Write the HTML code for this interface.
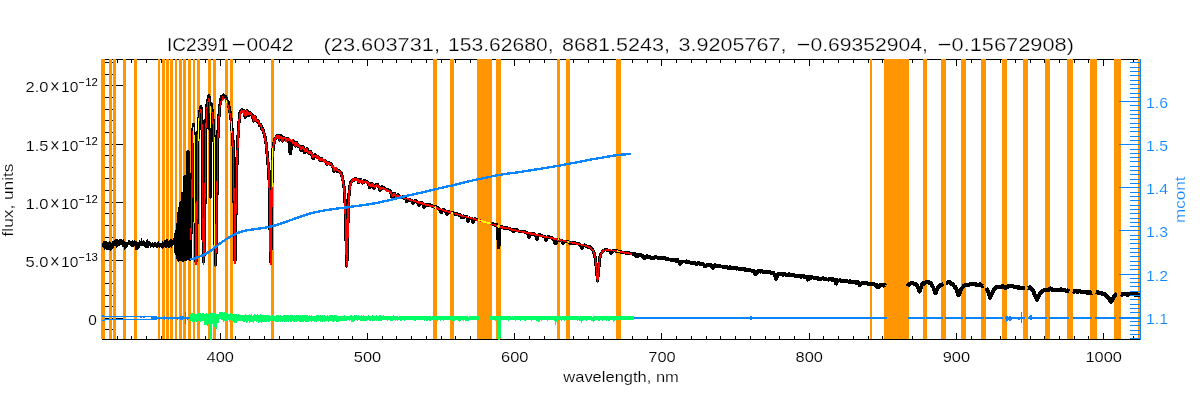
<!DOCTYPE html>
<html lang="en"><head><meta charset="utf-8"><title>IC2391-0042 spectrum fit</title>
<style>
html,body{margin:0;padding:0;background:#fff;}
body{width:1200px;height:400px;overflow:hidden;font-family:"Liberation Sans",sans-serif;}
svg{display:block;}
</style></head><body>
<svg width="1200" height="400" viewBox="0 0 1200 400"><rect width="1200" height="400" fill="#fff"/><g id="axes" shape-rendering="crispEdges"><rect x="102" y="59" width="1039" height="1" fill="#000"/><rect x="102" y="59" width="1" height="281" fill="#000"/><rect x="117" y="59" width="1" height="4" fill="#000"/><rect x="117" y="336" width="1" height="4" fill="#000"/><rect x="131" y="59" width="1" height="4" fill="#000"/><rect x="131" y="336" width="1" height="4" fill="#000"/><rect x="146" y="59" width="1" height="4" fill="#000"/><rect x="146" y="336" width="1" height="4" fill="#000"/><rect x="161" y="59" width="1" height="4" fill="#000"/><rect x="161" y="336" width="1" height="4" fill="#000"/><rect x="176" y="59" width="1" height="4" fill="#000"/><rect x="176" y="336" width="1" height="4" fill="#000"/><rect x="190" y="59" width="1" height="4" fill="#000"/><rect x="190" y="336" width="1" height="4" fill="#000"/><rect x="205" y="59" width="1" height="4" fill="#000"/><rect x="205" y="336" width="1" height="4" fill="#000"/><rect x="220" y="59" width="1" height="7" fill="#000"/><rect x="220" y="333" width="1" height="7" fill="#000"/><rect x="235" y="59" width="1" height="4" fill="#000"/><rect x="235" y="336" width="1" height="4" fill="#000"/><rect x="249" y="59" width="1" height="4" fill="#000"/><rect x="249" y="336" width="1" height="4" fill="#000"/><rect x="264" y="59" width="1" height="4" fill="#000"/><rect x="264" y="336" width="1" height="4" fill="#000"/><rect x="279" y="59" width="1" height="4" fill="#000"/><rect x="279" y="336" width="1" height="4" fill="#000"/><rect x="293" y="59" width="1" height="4" fill="#000"/><rect x="293" y="336" width="1" height="4" fill="#000"/><rect x="308" y="59" width="1" height="4" fill="#000"/><rect x="308" y="336" width="1" height="4" fill="#000"/><rect x="323" y="59" width="1" height="4" fill="#000"/><rect x="323" y="336" width="1" height="4" fill="#000"/><rect x="338" y="59" width="1" height="4" fill="#000"/><rect x="338" y="336" width="1" height="4" fill="#000"/><rect x="352" y="59" width="1" height="4" fill="#000"/><rect x="352" y="336" width="1" height="4" fill="#000"/><rect x="367" y="59" width="1" height="7" fill="#000"/><rect x="367" y="333" width="1" height="7" fill="#000"/><rect x="382" y="59" width="1" height="4" fill="#000"/><rect x="382" y="336" width="1" height="4" fill="#000"/><rect x="396" y="59" width="1" height="4" fill="#000"/><rect x="396" y="336" width="1" height="4" fill="#000"/><rect x="411" y="59" width="1" height="4" fill="#000"/><rect x="411" y="336" width="1" height="4" fill="#000"/><rect x="426" y="59" width="1" height="4" fill="#000"/><rect x="426" y="336" width="1" height="4" fill="#000"/><rect x="441" y="59" width="1" height="4" fill="#000"/><rect x="441" y="336" width="1" height="4" fill="#000"/><rect x="455" y="59" width="1" height="4" fill="#000"/><rect x="455" y="336" width="1" height="4" fill="#000"/><rect x="470" y="59" width="1" height="4" fill="#000"/><rect x="470" y="336" width="1" height="4" fill="#000"/><rect x="485" y="59" width="1" height="4" fill="#000"/><rect x="485" y="336" width="1" height="4" fill="#000"/><rect x="500" y="59" width="1" height="4" fill="#000"/><rect x="500" y="336" width="1" height="4" fill="#000"/><rect x="514" y="59" width="1" height="7" fill="#000"/><rect x="514" y="333" width="1" height="7" fill="#000"/><rect x="529" y="59" width="1" height="4" fill="#000"/><rect x="529" y="336" width="1" height="4" fill="#000"/><rect x="544" y="59" width="1" height="4" fill="#000"/><rect x="544" y="336" width="1" height="4" fill="#000"/><rect x="558" y="59" width="1" height="4" fill="#000"/><rect x="558" y="336" width="1" height="4" fill="#000"/><rect x="573" y="59" width="1" height="4" fill="#000"/><rect x="573" y="336" width="1" height="4" fill="#000"/><rect x="588" y="59" width="1" height="4" fill="#000"/><rect x="588" y="336" width="1" height="4" fill="#000"/><rect x="603" y="59" width="1" height="4" fill="#000"/><rect x="603" y="336" width="1" height="4" fill="#000"/><rect x="617" y="59" width="1" height="4" fill="#000"/><rect x="617" y="336" width="1" height="4" fill="#000"/><rect x="632" y="59" width="1" height="4" fill="#000"/><rect x="632" y="336" width="1" height="4" fill="#000"/><rect x="647" y="59" width="1" height="4" fill="#000"/><rect x="647" y="336" width="1" height="4" fill="#000"/><rect x="661" y="59" width="1" height="7" fill="#000"/><rect x="661" y="333" width="1" height="7" fill="#000"/><rect x="676" y="59" width="1" height="4" fill="#000"/><rect x="676" y="336" width="1" height="4" fill="#000"/><rect x="691" y="59" width="1" height="4" fill="#000"/><rect x="691" y="336" width="1" height="4" fill="#000"/><rect x="706" y="59" width="1" height="4" fill="#000"/><rect x="706" y="336" width="1" height="4" fill="#000"/><rect x="720" y="59" width="1" height="4" fill="#000"/><rect x="720" y="336" width="1" height="4" fill="#000"/><rect x="735" y="59" width="1" height="4" fill="#000"/><rect x="735" y="336" width="1" height="4" fill="#000"/><rect x="750" y="59" width="1" height="4" fill="#000"/><rect x="750" y="336" width="1" height="4" fill="#000"/><rect x="765" y="59" width="1" height="4" fill="#000"/><rect x="765" y="336" width="1" height="4" fill="#000"/><rect x="779" y="59" width="1" height="4" fill="#000"/><rect x="779" y="336" width="1" height="4" fill="#000"/><rect x="794" y="59" width="1" height="4" fill="#000"/><rect x="794" y="336" width="1" height="4" fill="#000"/><rect x="809" y="59" width="1" height="7" fill="#000"/><rect x="809" y="333" width="1" height="7" fill="#000"/><rect x="823" y="59" width="1" height="4" fill="#000"/><rect x="823" y="336" width="1" height="4" fill="#000"/><rect x="838" y="59" width="1" height="4" fill="#000"/><rect x="838" y="336" width="1" height="4" fill="#000"/><rect x="853" y="59" width="1" height="4" fill="#000"/><rect x="853" y="336" width="1" height="4" fill="#000"/><rect x="868" y="59" width="1" height="4" fill="#000"/><rect x="868" y="336" width="1" height="4" fill="#000"/><rect x="882" y="59" width="1" height="4" fill="#000"/><rect x="882" y="336" width="1" height="4" fill="#000"/><rect x="897" y="59" width="1" height="4" fill="#000"/><rect x="897" y="336" width="1" height="4" fill="#000"/><rect x="912" y="59" width="1" height="4" fill="#000"/><rect x="912" y="336" width="1" height="4" fill="#000"/><rect x="926" y="59" width="1" height="4" fill="#000"/><rect x="926" y="336" width="1" height="4" fill="#000"/><rect x="941" y="59" width="1" height="4" fill="#000"/><rect x="941" y="336" width="1" height="4" fill="#000"/><rect x="956" y="59" width="1" height="7" fill="#000"/><rect x="956" y="333" width="1" height="7" fill="#000"/><rect x="971" y="59" width="1" height="4" fill="#000"/><rect x="971" y="336" width="1" height="4" fill="#000"/><rect x="985" y="59" width="1" height="4" fill="#000"/><rect x="985" y="336" width="1" height="4" fill="#000"/><rect x="1000" y="59" width="1" height="4" fill="#000"/><rect x="1000" y="336" width="1" height="4" fill="#000"/><rect x="1015" y="59" width="1" height="4" fill="#000"/><rect x="1015" y="336" width="1" height="4" fill="#000"/><rect x="1030" y="59" width="1" height="4" fill="#000"/><rect x="1030" y="336" width="1" height="4" fill="#000"/><rect x="1044" y="59" width="1" height="4" fill="#000"/><rect x="1044" y="336" width="1" height="4" fill="#000"/><rect x="1059" y="59" width="1" height="4" fill="#000"/><rect x="1059" y="336" width="1" height="4" fill="#000"/><rect x="1074" y="59" width="1" height="4" fill="#000"/><rect x="1074" y="336" width="1" height="4" fill="#000"/><rect x="1088" y="59" width="1" height="4" fill="#000"/><rect x="1088" y="336" width="1" height="4" fill="#000"/><rect x="1103" y="59" width="1" height="7" fill="#000"/><rect x="1103" y="333" width="1" height="7" fill="#000"/><rect x="1118" y="59" width="1" height="4" fill="#000"/><rect x="1118" y="336" width="1" height="4" fill="#000"/><rect x="1133" y="59" width="1" height="4" fill="#000"/><rect x="1133" y="336" width="1" height="4" fill="#000"/><rect x="102" y="329" width="11" height="1" fill="#000"/><rect x="102" y="318" width="21" height="1" fill="#000"/><rect x="102" y="306" width="11" height="1" fill="#000"/><rect x="102" y="295" width="11" height="1" fill="#000"/><rect x="102" y="283" width="11" height="1" fill="#000"/><rect x="102" y="271" width="11" height="1" fill="#000"/><rect x="102" y="260" width="21" height="1" fill="#000"/><rect x="102" y="248" width="11" height="1" fill="#000"/><rect x="102" y="237" width="11" height="1" fill="#000"/><rect x="102" y="225" width="11" height="1" fill="#000"/><rect x="102" y="213" width="11" height="1" fill="#000"/><rect x="102" y="202" width="21" height="1" fill="#000"/><rect x="102" y="190" width="11" height="1" fill="#000"/><rect x="102" y="178" width="11" height="1" fill="#000"/><rect x="102" y="167" width="11" height="1" fill="#000"/><rect x="102" y="155" width="11" height="1" fill="#000"/><rect x="102" y="144" width="21" height="1" fill="#000"/><rect x="102" y="132" width="11" height="1" fill="#000"/><rect x="102" y="120" width="11" height="1" fill="#000"/><rect x="102" y="109" width="11" height="1" fill="#000"/><rect x="102" y="97" width="11" height="1" fill="#000"/><rect x="102" y="85" width="21" height="1" fill="#000"/><rect x="102" y="74" width="11" height="1" fill="#000"/><rect x="102" y="62" width="11" height="1" fill="#000"/></g>
<g id="mask" fill="#FF9500" shape-rendering="crispEdges"><rect x="101" y="59" width="4" height="280"/><rect x="109" y="59" width="3" height="280"/><rect x="113" y="59" width="3" height="280"/><rect x="123" y="59" width="3" height="280"/><rect x="134" y="59" width="3" height="280"/><rect x="158" y="59" width="2" height="280"/><rect x="162" y="59" width="3" height="280"/><rect x="166" y="59" width="3" height="280"/><rect x="170" y="59" width="3" height="280"/><rect x="175" y="59" width="2" height="280"/><rect x="179" y="59" width="3" height="280"/><rect x="183" y="59" width="3" height="280"/><rect x="188" y="59" width="3" height="280"/><rect x="193" y="59" width="2" height="280"/><rect x="197" y="59" width="3" height="280"/><rect x="208" y="59" width="3" height="280"/><rect x="213" y="59" width="3" height="280"/><rect x="225" y="59" width="3" height="280"/><rect x="230" y="59" width="3" height="280"/><rect x="271" y="59" width="3" height="280"/><rect x="433" y="59" width="4" height="280"/><rect x="450" y="59" width="4" height="280"/><rect x="477" y="59" width="15" height="280"/><rect x="496" y="59" width="5" height="280"/><rect x="557" y="59" width="3" height="280"/><rect x="566" y="59" width="4" height="280"/><rect x="616" y="59" width="5" height="280"/><rect x="870" y="59" width="2" height="280"/><rect x="884" y="59" width="25" height="280"/><rect x="923" y="59" width="4" height="280"/><rect x="941" y="59" width="5" height="280"/><rect x="961" y="59" width="5" height="280"/><rect x="981" y="59" width="5" height="280"/><rect x="1002" y="59" width="5" height="280"/><rect x="1023" y="59" width="5" height="280"/><rect x="1045" y="59" width="5" height="280"/><rect x="1067" y="59" width="6" height="280"/><rect x="1090" y="59" width="7" height="280"/><rect x="1114" y="59" width="7" height="280"/><rect x="1138" y="59" width="2" height="280"/></g>
<g shape-rendering="crispEdges"><rect x="102" y="339" width="1039" height="1" fill="#000"/></g>
<path id="spec-uv" d="M102,243h1v4h-1zM103,241h1v7h-1zM104,241h1v9h-1zM105,241h1v8h-1zM106,241h1v9h-1zM107,242h1v8h-1zM108,242h1v8h-1zM109,241h1v9h-1zM110,242h1v9h-1zM111,243h1v7h-1zM112,241h1v8h-1zM113,241h1v7h-1zM114,240h1v6h-1zM115,239h1v7h-1zM116,239h1v9h-1zM117,239h1v8h-1zM118,240h1v6h-1zM119,239h1v7h-1zM120,239h1v6h-1zM121,239h1v6h-1zM122,240h1v7h-1zM123,239h1v8h-1zM124,241h1v9h-1zM125,242h1v7h-1zM126,242h1v6h-1zM127,242h1v5h-1zM128,240h1v5h-1zM129,240h1v5h-1zM130,241h1v5h-1zM131,241h1v6h-1zM132,240h1v7h-1zM133,241h1v6h-1zM134,240h1v6h-1zM135,241h1v9h-1zM136,241h1v9h-1zM137,242h1v8h-1zM138,242h1v7h-1zM139,240h1v8h-1zM140,241h1v5h-1zM141,238h1v8h-1zM142,241h1v5h-1zM143,240h1v6h-1zM144,241h1v6h-1zM145,242h1v6h-1zM146,240h1v8h-1zM147,239h1v9h-1zM148,241h1v7h-1zM149,241h1v5h-1zM150,242h1v6h-1zM151,243h1v4h-1zM152,242h1v5h-1zM153,243h1v5h-1zM154,242h1v5h-1zM155,242h1v5h-1zM156,243h1v5h-1zM157,242h1v6h-1zM158,241h1v6h-1zM159,243h1v5h-1zM160,243h1v4h-1zM161,243h1v5h-1zM162,241h1v8h-1zM163,242h1v6h-1zM164,240h1v7h-1zM165,240h1v8h-1zM166,239h1v9h-1zM167,239h1v8h-1zM168,241h1v7h-1zM169,240h1v8h-1zM170,239h1v8h-1zM171,239h1v9h-1zM172,240h1v6h-1zM173,240h1v5h-1zM174,242h1v5h-1z" fill="#000" shape-rendering="crispEdges"/>
<path id="spec-balmer" d="M174.4,244.5 L174.7,242.3 L174.9,239.9 L175.2,237.3 L175.2,237.2 L175.2,251.3 L175.4,247.8 L175.7,242.7 L175.9,237.9 L176.2,232.5 L176.2,231.3 L176.2,253.5 L176.4,248.2 L176.7,241.5 L176.9,234.9 L177.2,228.6 L177.3,224.1 L177.4,256.1 L177.4,257.5 L177.7,248.6 L177.9,238.8 L178.2,230.0 L178.4,220.9 L178.6,213.7 L178.7,222.1 L178.9,260.0 L178.9,259.3 L179.2,248.8 L179.4,237.9 L179.7,227.4 L179.9,216.6 L180.2,205.3 L180.2,203.1 L180.4,225.4 L180.7,252.5 L180.7,259.2 L180.9,251.7 L181.2,241.6 L181.4,230.8 L181.7,220.2 L181.9,209.9 L182.2,199.6 L182.3,193.2 L182.4,202.3 L182.7,225.0 L182.9,247.3 L183.0,260.2 L183.2,255.3 L183.4,244.7 L183.7,233.6 L183.9,223.1 L184.2,212.2 L184.4,201.4 L184.7,190.8 L184.9,180.7 L185.0,176.3 L185.2,188.4 L185.4,208.7 L185.7,227.6 L185.9,247.2 L186.1,259.7 L186.2,254.3 L186.4,240.0 L186.7,226.5 L186.9,212.4 L187.2,198.6 L187.4,184.6 L187.7,170.9 L187.9,157.2 L188.0,151.5 L188.2,159.2 L188.4,172.1 L188.7,185.8 L188.9,199.0 L189.2,212.7 L189.4,226.3 L189.7,240.1 L189.9,253.1 L190.0,259.9 L190.2,255.5 L190.4,246.8 L190.6,240.3 L190.7,239.1 L190.9,232.9 L191.2,226.6 L191.2,225.2 L191.4,218.1 L191.7,209.1 L191.9,200.2 L192.2,169.0 L192.3,150.2 L192.4,145.8 L192.7,135.9 L192.7,133.8 L192.9,131.1 L193.2,127.9 L193.4,124.5 L193.7,128.7 L193.9,133.5 L194.2,141.4 L194.4,149.6 L194.7,174.4 L194.9,199.9 L195.2,225.3 L195.3,240.4 L195.4,243.2 L195.7,251.3 L195.9,259.0 L196.0,261.6 L196.2,257.1 L196.4,249.8 L196.7,241.8 L196.7,240.2 L196.9,220.2 L197.1,200.2 L197.2,193.2 L197.4,161.8 L197.5,149.6 L197.7,144.9 L197.9,137.2 L198.2,130.0 L198.2,128.7 L198.4,126.0 L198.7,123.5 L198.9,120.0 L199.2,116.3 L199.3,114.1 L199.4,113.5 L199.7,112.2 L199.9,111.3 L200.2,110.1 L200.4,109.0 L200.7,107.7 L200.8,106.8 L200.9,107.3 L201.2,109.4 L201.4,111.5 L201.6,113.1 L201.7,114.5 L201.9,122.1 L202.1,128.0 L202.2,130.8 L202.4,145.0 L202.5,150.7 L202.7,175.6 L202.8,200.3 L202.9,213.6 L203.1,239.4 L203.2,240.8 L203.4,250.2 L203.7,259.9 L203.7,261.6 L203.9,255.3 L204.2,247.7 L204.4,239.5 L204.7,219.5 L204.9,200.0 L205.2,175.5 L205.4,150.4 L205.7,138.6 L205.9,126.8 L206.0,121.6 L206.2,118.7 L206.4,114.7 L206.7,110.4 L206.9,106.4 L207.0,105.0 L207.2,104.6 L207.4,103.1 L207.7,102.0 L207.9,100.4 L208.2,98.6 L208.4,96.9 L208.5,96.1 L208.7,95.9 L208.9,96.4 L209.2,96.8 L209.3,97.1 L209.4,98.5 L209.7,100.7 L209.9,102.7 L210.2,133.6 L210.2,139.8 L210.4,185.1 L210.4,197.1 L210.7,151.7 L210.7,140.0 L210.9,115.7 L211.0,104.0 L211.2,104.8 L211.4,105.9 L211.7,108.0 L211.9,109.8 L212.2,111.5 L212.3,112.2 L212.4,113.8 L212.7,116.3 L212.9,119.8 L213.2,122.6 L213.4,126.1 L213.6,128.5 L213.7,130.1 L213.9,136.1 L214.2,142.9 L214.4,149.7 L214.7,180.8 L214.8,199.7 L214.9,220.2 L215.0,240.0 L215.2,245.9 L215.4,256.5 L215.6,264.6 L215.7,262.3 L215.9,252.0 L216.2,241.6 L216.2,239.4 L216.4,225.8 L216.7,209.2 L216.8,199.6 L216.9,192.2 L217.2,174.6 L217.4,156.8 L217.5,149.5 L217.7,144.6 L217.9,136.7 L218.2,128.9 L218.3,124.0 L218.4,123.1 L218.7,119.8 L218.9,116.6 L219.2,113.3 L219.4,110.4 L219.7,107.4 L219.8,105.6 L219.9,105.0 L220.2,103.5 L220.4,102.3 L220.7,101.1 L220.9,99.6 L221.2,98.6 L221.3,97.4 L221.4,97.5 L221.7,96.8 L221.9,96.3 L222.2,96.1 L222.4,96.4 L222.7,95.7 L222.9,95.5 L223.2,95.4 L223.3,95.1 L223.4,95.0 L223.7,95.3 L223.9,95.5 L224.2,96.0 L224.4,96.2 L224.7,96.4 L224.9,96.5 L225.2,96.6 L225.4,96.2 L225.5,96.8 L225.7,97.0 L225.9,97.8 L226.2,98.5 L226.4,99.5 L226.7,99.6 L226.9,100.6 L227.2,100.9 L227.4,101.1 L227.7,101.3 L227.8,101.3 L227.9,101.5 L228.2,103.0 L228.4,104.2 L228.7,105.1 L228.9,106.4 L229.2,107.6 L229.4,107.9 L229.7,109.3 L229.8,110.0 L229.9,111.1 L230.2,112.5 L230.4,115.1 L230.7,116.6 L230.9,118.6 L231.2,120.7 L231.4,123.1 L231.5,123.9 L231.7,125.8 L231.9,128.6 L232.2,131.2 L232.4,134.0 L232.7,137.1 L232.9,140.3 L233.0,141.6 L233.2,147.1 L233.4,156.1 L233.5,160.0 L233.7,169.8 L233.9,185.6 L234.2,205.5 L234.4,225.5 L234.7,240.1 L234.9,254.5 L235.0,260.5 L235.2,252.7 L235.4,240.0 L235.7,227.3 L235.7,224.9 L235.9,213.5 L236.2,199.3 L236.4,184.6 L236.7,174.2 L236.9,163.6 L237.0,159.5 L237.2,155.8 L237.4,149.3" fill="none" stroke="#000" stroke-width="3.3" stroke-linejoin="round" shape-rendering="crispEdges"/>
<path id="spec" d="M236.9,163.6 L237.0,159.5 L237.2,155.8 L237.4,149.3 L237.7,142.9 L237.7,141.5 L237.9,138.2 L238.2,134.3 L238.4,130.3 L238.7,126.5 L238.9,122.9 L239.0,121.5 L239.2,120.2 L239.4,118.6 L239.7,116.3 L239.9,114.2 L240.1,112.4 L240.2,112.4 L240.4,111.8 L240.7,111.5 L240.9,111.1 L241.2,110.7 L241.4,110.1 L241.6,110.1 L241.7,109.7 L241.9,109.8 L242.2,109.9 L242.4,110.2 L242.7,110.2 L242.9,110.5 L243.2,110.4 L243.4,110.7 L243.7,111.0 L243.9,111.4 L244.2,112.0 L244.4,113.3 L244.7,114.8 L244.9,116.2 L245.0,116.6 L245.2,117.0 L245.4,117.3 L245.7,116.4 L245.9,114.6 L246.2,113.4 L246.4,112.4 L246.7,111.2 L246.9,110.7 L247.2,111.5 L247.4,111.7 L247.7,112.6 L247.9,114.1 L248.2,115.4 L248.4,115.6 L248.7,115.6 L248.9,114.9 L249.2,113.7 L249.4,112.8 L249.5,112.7 L249.7,112.7 L249.9,113.1 L250.2,113.1 L250.4,113.1 L250.7,113.4 L250.9,113.6 L251.2,113.9 L251.4,114.3 L251.7,114.5 L251.9,114.8 L252.2,115.0 L252.4,115.3 L252.7,116.5 L252.9,118.0 L253.2,119.4 L253.4,120.3 L253.7,121.0 L253.9,120.4 L254.2,119.4 L254.4,117.7 L254.7,117.0 L254.9,116.7 L255.0,116.8 L255.2,116.8 L255.4,117.6 L255.7,118.6 L255.9,118.7 L256.1,119.6 L256.4,120.6 L256.6,121.0 L256.9,121.0 L257.1,121.4 L257.4,121.1 L257.6,120.9 L257.9,121.0 L258.1,120.8 L258.4,121.1 L258.6,122.1 L258.9,123.5 L259.1,124.3 L259.4,125.1 L259.6,125.4 L259.9,125.3 L260.0,124.7 L260.1,125.0 L260.4,124.6 L260.6,124.7 L260.9,124.9 L261.1,126.1 L261.4,127.2 L261.6,128.3 L261.9,129.0 L262.1,129.6 L262.4,129.3 L262.5,128.7 L262.6,129.3 L262.9,129.8 L263.1,130.2 L263.4,130.9 L263.6,132.2 L263.9,132.7 L264.1,133.7 L264.4,134.3 L264.5,134.5 L264.6,135.2 L264.9,136.5 L265.1,137.8 L265.4,139.5 L265.6,140.9 L265.9,142.3 L266.0,142.9 L266.1,144.3 L266.4,146.2 L266.6,148.4 L266.9,150.8 L267.1,153.5 L267.3,155.0 L267.4,156.3 L267.6,159.3 L267.9,162.3 L268.1,164.7 L268.4,167.0 L268.5,168.2 L268.6,171.2 L268.9,175.7 L269.1,180.4 L269.4,185.3 L269.6,189.4 L269.6,193.1 L269.9,213.3 L270.1,229.7 L270.1,232.8 L270.4,245.9 L270.6,259.5 L270.7,262.0 L270.9,251.2 L271.1,237.5 L271.3,229.9 L271.4,221.7 L271.6,201.8 L271.8,189.8 L271.9,184.5 L272.1,170.6 L272.2,167.5 L272.4,160.9 L272.6,154.4 L272.6,154.4 L272.9,151.2 L273.1,148.4 L273.3,146.8 L273.4,146.9 L273.6,145.0 L273.9,143.5 L274.1,142.5 L274.4,141.2 L274.6,139.9 L274.6,139.7 L274.9,139.8 L275.1,139.4 L275.4,139.0 L275.6,138.5 L275.9,137.7 L276.1,137.0 L276.4,136.1 L276.5,135.9 L276.6,135.8 L276.9,136.1 L277.1,135.5 L277.4,135.6 L277.6,135.3 L277.9,135.1 L278.1,135.3 L278.4,136.0 L278.6,136.1 L278.9,137.3 L279.0,137.7 L279.1,138.5 L279.4,139.5 L279.6,140.0 L279.9,138.9 L280.1,137.9 L280.4,136.6 L280.6,135.6 L280.9,135.4 L281.0,135.5 L281.1,136.0 L281.4,136.8 L281.6,138.1 L281.9,139.3 L282.1,140.7 L282.4,141.0 L282.6,141.0 L282.9,140.0 L283.1,138.6 L283.4,137.7 L283.6,137.4 L283.9,137.5 L284.1,137.7 L284.4,138.3 L284.6,138.3 L284.9,138.7 L285.1,138.8 L285.4,139.4 L285.6,140.0 L285.9,140.7 L286.1,140.3 L286.4,139.9 L286.6,139.1 L286.9,138.5 L287.1,138.6 L287.4,138.5 L287.6,138.5 L287.9,138.9 L288.1,139.3 L288.4,138.9 L288.6,139.6 L288.9,140.9 L289.1,142.5 L289.4,144.8 L289.6,148.2 L289.9,150.9 L290.0,151.7 L290.1,152.7 L290.4,153.9 L290.6,152.5 L290.9,150.7 L291.1,147.9 L291.4,145.6 L291.6,143.3 L291.9,142.5 L292.1,141.5 L292.4,141.4 L292.6,141.1 L292.9,140.9 L293.1,140.9 L293.4,141.3 L293.6,141.2 L293.9,141.8 L294.1,142.5 L294.4,143.2 L294.6,144.4 L294.9,145.5 L295.1,146.0 L295.4,145.9 L295.6,145.1 L295.9,144.1 L296.1,143.3 L296.4,142.4 L296.6,142.5 L296.9,143.0 L297.1,143.4 L297.4,144.6 L297.6,145.6 L297.9,146.2 L298.1,146.4 L298.4,146.7 L298.6,146.0 L298.9,145.8 L299.1,145.7 L299.4,145.9 L299.6,146.5 L299.9,147.1 L300.1,147.9 L300.4,148.9 L300.5,149.2 L300.6,149.4 L300.9,150.7 L301.1,150.9 L301.4,150.3 L301.6,149.2 L301.9,148.6 L302.1,147.4 L302.4,146.6 L302.6,146.6 L302.9,146.7 L303.1,146.9 L303.4,147.1 L303.6,147.7 L303.9,148.7 L304.1,150.4 L304.4,151.2 L304.6,152.3 L304.9,152.8 L305.1,152.8 L305.4,151.6 L305.6,151.0 L305.9,150.3 L306.1,149.7 L306.4,148.9 L306.6,148.9 L306.9,148.6 L307.1,148.6 L307.4,149.1 L307.6,150.1 L307.9,151.0 L308.1,152.0 L308.4,152.8 L308.6,153.2 L308.9,153.0 L309.1,152.4 L309.4,152.1 L309.6,152.0 L309.9,151.6 L310.1,151.3 L310.4,151.2 L310.6,151.9 L310.9,152.0 L311.1,152.7 L311.4,153.2 L311.6,154.1 L311.9,154.4 L312.1,155.4 L312.4,156.8 L312.6,158.1 L312.9,158.4 L313.1,158.7 L313.4,158.4 L313.6,157.4 L313.9,156.3 L314.1,155.4 L314.4,155.0 L314.6,154.8 L314.9,154.5 L315.0,154.9 L315.1,155.5 L315.4,155.8 L315.6,155.7 L315.9,156.0 L316.1,156.3 L316.4,156.6 L316.6,156.6 L316.9,157.0 L317.1,157.3 L317.4,156.8 L317.6,156.8 L317.9,156.9 L318.1,157.2 L318.4,156.9 L318.6,157.5 L318.9,157.9 L319.1,158.4 L319.4,158.9 L319.6,159.5 L319.9,159.9 L320.1,160.3 L320.4,159.8 L320.6,159.3 L320.9,159.2 L321.1,158.7 L321.4,158.5 L321.6,158.5 L321.9,158.9 L322.1,159.4 L322.4,160.2 L322.6,160.3 L322.9,160.8 L323.1,160.7 L323.4,160.4 L323.6,160.4 L323.9,160.3 L324.1,160.5 L324.4,160.6 L324.6,161.1 L324.9,160.9 L325.1,161.2 L325.4,161.2 L325.6,161.7 L325.9,161.9 L326.1,162.6 L326.4,163.5 L326.6,163.8 L326.9,164.4 L327.1,164.7 L327.4,164.2 L327.6,163.8 L327.9,163.9 L328.1,163.3 L328.4,162.8 L328.6,162.7 L328.9,163.1 L329.1,162.7 L329.4,163.2 L329.6,163.3 L329.9,163.3 L330.0,163.4 L330.1,163.7 L330.4,163.3 L330.6,163.5 L330.9,164.1 L331.1,164.3 L331.4,164.4 L331.6,164.9 L331.9,165.4 L332.1,165.4 L332.4,165.8 L332.6,166.6 L332.9,167.3 L333.1,168.2 L333.4,169.6 L333.6,170.5 L333.9,171.0 L334.1,171.1 L334.4,171.0 L334.6,170.3 L334.9,169.6 L335.1,169.2 L335.4,168.8 L335.6,168.8 L335.9,168.5 L336.1,168.7 L336.4,168.8 L336.6,169.8 L336.9,170.4 L337.1,170.9 L337.4,171.0 L337.5,171.3 L337.6,171.2 L337.9,171.0 L338.1,171.1 L338.4,171.2 L338.6,171.0 L338.9,170.8 L339.1,171.0 L339.4,170.7 L339.6,171.1 L339.9,171.1 L340.1,171.6 L340.4,171.7 L340.6,172.4 L340.9,172.7 L341.0,172.8 L341.1,173.0 L341.4,173.5 L341.6,174.6 L341.9,175.5 L342.1,176.8 L342.4,177.9 L342.6,179.3 L342.9,180.2 L343.0,180.4 L343.1,181.3 L343.4,183.3 L343.6,184.8 L343.9,186.4 L344.1,188.2 L344.3,189.1 L344.4,190.3 L344.6,194.6 L344.9,198.5 L345.1,202.7 L345.3,204.9 L345.4,209.4 L345.6,220.0 L345.9,230.7 L346.0,235.3 L346.1,241.2 L346.4,250.9 L346.6,260.4 L346.8,266.0 L346.9,261.7 L347.1,252.3 L347.4,242.6 L347.6,234.9 L347.6,233.1 L347.9,223.4 L348.1,213.9 L348.4,204.0 L348.6,200.2 L348.9,196.2 L349.1,192.6 L349.3,190.2 L349.4,190.2 L349.6,188.2 L349.9,186.4 L350.1,184.8 L350.4,182.8 L350.5,181.9 L350.6,182.3 L350.9,182.0 L351.1,182.0 L351.4,181.7 L351.6,181.5 L351.9,180.7 L352.1,180.4 L352.4,180.0 L352.5,180.5 L352.6,180.4 L352.9,180.4 L353.1,180.1 L353.4,180.0 L353.6,179.5 L353.9,179.5 L354.1,179.4 L354.4,179.9 L354.6,179.2 L354.9,179.1 L355.1,179.0 L355.4,178.8 L355.5,178.2 L355.6,178.7 L355.9,178.5 L356.1,178.4 L356.4,179.1 L356.6,179.6 L356.9,179.4 L357.1,179.6 L357.4,179.7 L357.6,179.6 L357.9,179.5 L358.1,180.2 L358.4,181.4 L358.6,182.4 L358.9,182.6 L359.1,182.6 L359.4,182.0 L359.6,180.9 L359.9,179.6 L360.1,179.5 L360.4,179.3 L360.6,179.7 L360.9,180.3 L361.1,181.1 L361.4,180.8 L361.6,181.4 L361.9,181.8 L362.1,181.8 L362.4,182.0 L362.6,182.9 L362.9,182.7 L363.1,182.8 L363.4,182.1 L363.6,181.5 L363.9,181.0 L364.1,180.9 L364.4,180.5 L364.6,181.0 L364.9,181.3 L365.1,181.6 L365.4,181.3 L365.6,181.3 L365.9,181.1 L366.1,181.3 L366.4,181.2 L366.6,181.5 L366.9,181.4 L367.1,181.8 L367.4,182.0 L367.5,181.8 L367.6,182.5 L367.9,183.4 L368.1,183.1 L368.4,183.5 L368.6,184.8 L368.9,185.3 L369.1,185.7 L369.4,186.9 L369.6,187.5 L369.9,187.4 L370.1,187.1 L370.4,186.9 L370.6,186.2 L370.9,185.5 L371.1,184.6 L371.4,184.2 L371.6,183.5 L371.9,183.4 L372.1,183.7 L372.4,184.2 L372.6,184.7 L372.9,185.5 L373.1,186.3 L373.4,186.9 L373.6,187.5 L373.9,188.1 L374.1,187.8 L374.4,187.7 L374.6,187.2 L374.9,186.4 L375.1,185.6 L375.4,185.4 L375.6,184.9 L375.9,184.7 L376.1,185.2 L376.4,185.2 L376.6,184.9 L376.9,184.8 L377.1,184.6 L377.4,184.5 L377.6,185.0 L377.9,185.7 L378.1,185.7 L378.4,186.1 L378.6,186.7 L378.9,186.9 L379.1,187.3 L379.4,188.6 L379.6,190.0 L379.9,190.3 L380.1,190.3 L380.4,190.1 L380.6,189.5 L380.9,188.3 L381.1,187.5 L381.4,187.3 L381.6,187.0 L381.9,186.9 L382.1,187.1 L382.4,188.0 L382.5,187.8 L382.6,188.1 L382.9,188.2 L383.1,188.4 L383.4,188.2 L383.6,188.4 L383.9,188.4 L384.1,188.2 L384.4,188.0 L384.6,188.0 L384.9,188.3 L385.1,188.4 L385.4,188.8 L385.6,189.1 L385.9,189.2 L386.1,189.2 L386.4,189.5 L386.6,189.3 L386.9,189.2 L387.1,189.6 L387.4,189.3 L387.6,189.4 L387.9,190.0 L388.1,190.3 L388.4,189.9 L388.6,190.5 L388.9,190.7 L389.1,190.8 L389.4,190.6 L389.6,190.8 L389.9,190.8 L390.1,190.9 L390.4,191.1 L390.6,192.0 L390.9,192.7 L391.1,193.4 L391.4,194.6 L391.6,195.9 L391.9,197.0 L392.1,198.0 L392.4,198.6 L392.6,198.5 L392.9,198.0 L393.0,197.2 L393.1,196.5 L393.4,195.6 L393.6,194.8 L393.9,193.7 L394.1,193.5 L394.4,193.3 L394.6,193.7 L394.9,194.4 L395.1,195.4 L395.4,196.4 L395.6,197.0 L395.9,197.5 L396.1,197.3 L396.4,197.0 L396.6,196.9 L396.9,196.5 L397.1,195.7 L397.4,195.4 L397.6,194.9 L397.9,194.4 L398.1,194.8 L398.4,195.3 L398.6,195.2 L398.9,195.8 L399.1,196.5 L399.4,196.3 L399.6,196.2 L399.9,196.6 L400.0,196.5 L400.1,196.5 L400.4,196.8 L400.6,197.2 L400.9,197.5 L401.1,197.7 L401.4,197.8 L401.6,197.4 L401.9,197.3 L402.1,197.3 L402.4,197.1 L402.6,197.2 L402.9,197.4 L403.1,197.4 L403.4,197.6 L403.6,197.9 L403.9,197.8 L404.1,198.1 L404.4,198.5 L404.6,198.4 L404.9,198.0 L405.1,198.0 L405.4,198.0 L405.6,198.0 L405.9,198.5 L406.1,199.7 L406.4,200.4 L406.6,201.0 L406.9,201.8 L407.1,201.8 L407.4,201.1 L407.6,200.7 L407.9,200.4 L408.1,199.5 L408.4,199.4 L408.6,199.4 L408.9,199.1 L409.1,199.1 L409.4,199.4 L409.6,199.3 L409.9,199.5 L410.1,199.7 L410.4,200.2 L410.6,200.0 L410.9,200.4 L411.1,200.4 L411.4,200.6 L411.6,200.5 L411.9,201.1 L412.1,201.7 L412.4,202.6 L412.6,203.3 L412.9,203.6 L413.1,203.6 L413.4,203.0 L413.6,202.5 L413.9,202.1 L414.1,201.9 L414.4,201.8 L414.6,201.7 L414.9,201.3 L415.1,201.1 L415.4,200.8 L415.6,200.9 L415.9,200.8 L416.1,201.3 L416.4,201.7 L416.6,202.2 L416.9,202.2 L417.1,202.4 L417.4,202.3 L417.6,202.5 L417.9,202.7 L418.1,203.0 L418.4,203.8 L418.6,204.9 L418.9,205.1 L419.1,205.2 L419.4,204.7 L419.6,204.1 L419.9,203.3 L420.1,203.2 L420.4,203.0 L420.6,202.9 L420.9,203.0 L421.1,202.9 L421.4,203.1 L421.6,203.0 L421.9,203.0 L422.1,202.8 L422.4,203.0 L422.6,203.4 L422.9,203.8 L423.1,204.9 L423.4,205.6 L423.6,206.6 L423.9,207.1 L424.1,207.1 L424.4,206.6 L424.6,205.9 L424.9,205.2 L425.1,204.9 L425.4,204.8 L425.6,205.0 L425.9,205.3 L426.1,205.1 L426.4,205.0 L426.6,204.8 L426.9,204.6 L427.1,204.6 L427.4,205.0 L427.6,204.9 L427.9,205.3 L428.1,205.3 L428.4,205.1 L428.6,205.0 L428.9,204.9 L429.1,204.8 L429.4,204.8 L429.6,205.0 L429.9,204.7 L430.1,204.7 L430.4,204.7 L430.6,205.0 L430.9,205.3 L431.1,205.9 L431.4,206.0 L431.6,206.2 L431.9,206.4 L432.1,206.4 L432.4,206.1 L432.6,206.7 L432.9,206.8 L433.1,206.5 L433.4,206.4 L433.6,206.6 L433.9,206.5 L434.1,206.4 L434.4,206.5 L434.5,206.8 L434.6,206.9 L434.9,206.8 L435.1,207.2 L435.4,207.6 L435.6,207.3 L435.9,207.2 L436.1,207.5 L436.4,207.4 L436.6,207.0 L436.9,207.4 L437.1,207.6 L437.4,207.9 L437.6,207.7 L437.9,208.5 L438.1,208.5 L438.4,208.6 L438.6,208.6 L438.9,209.2 L439.1,208.9 L439.4,209.1 L439.6,209.2 L439.9,209.3 L440.1,209.4 L440.4,210.6 L440.6,211.7 L440.9,212.4 L441.1,212.4 L441.4,212.6 L441.6,211.8 L441.9,211.3 L442.1,210.6 L442.4,210.4 L442.6,210.1 L442.9,209.5 L443.1,209.1 L443.4,209.2 L443.6,209.3 L443.9,209.4 L444.1,209.8 L444.4,210.4 L444.6,210.7 L444.9,210.9 L445.1,211.2 L445.4,211.3 L445.6,211.2 L445.9,211.5 L446.1,211.9 L446.4,212.5 L446.6,213.2 L446.9,213.8 L447.1,214.0 L447.4,213.6 L447.6,213.0 L447.9,212.5 L448.1,211.9 L448.4,211.2 L448.6,211.5 L448.9,211.9 L449.1,212.2 L449.4,212.3 L449.6,212.7 L449.9,212.5 L450.1,212.4 L450.4,212.4 L450.6,212.7 L450.9,212.7 L451.1,212.8 L451.4,212.7 L451.6,212.4 L451.9,212.4 L452.1,212.2 L452.4,212.3 L452.5,212.3 L452.6,212.6 L452.9,212.8 L453.1,212.9 L453.4,212.8 L453.6,212.9 L453.9,213.1 L454.1,213.3 L454.4,213.7 L454.6,213.9 L454.9,214.3 L455.1,214.0 L455.4,214.1 L455.6,213.9 L455.9,213.6 L456.1,213.9 L456.4,214.4 L456.6,214.1 L456.9,214.3 L457.1,214.7 L457.4,214.4 L457.6,214.0 L457.9,214.1 L458.1,214.2 L458.4,214.4 L458.6,214.6 L458.9,214.9 L459.1,215.4 L459.4,215.3 L459.6,215.4 L459.9,215.0 L460.1,214.9 L460.4,214.8 L460.6,215.0 L460.9,215.4 L461.1,216.2 L461.4,216.9 L461.6,217.3 L461.9,217.8 L462.1,217.6 L462.4,217.4 L462.6,217.1 L462.9,216.6 L463.1,216.2 L463.4,216.1 L463.6,215.9 L463.9,216.0 L464.1,216.6 L464.4,216.9 L464.6,216.9 L464.9,217.0 L465.1,216.7 L465.4,216.3 L465.6,216.1 L465.9,216.1 L466.1,216.1 L466.4,216.5 L466.6,216.8 L466.9,217.4 L467.1,218.0 L467.4,219.2 L467.6,220.0 L467.9,220.9 L468.1,221.1 L468.4,221.0 L468.6,219.9 L468.9,219.2 L469.1,218.8 L469.4,218.3 L469.6,218.1 L469.9,218.4 L470.1,218.4 L470.4,218.2 L470.6,218.7 L470.9,218.5 L471.1,218.4 L471.4,218.4 L471.6,218.6 L471.9,218.8 L472.1,219.6 L472.4,220.4 L472.6,221.3 L472.9,221.7 L473.1,222.1 L473.4,221.9 L473.6,221.4 L473.9,220.6 L474.1,220.2 L474.4,219.6 L474.6,219.3 L474.9,218.9 L475.0,219.0 L475.1,219.5 L475.4,219.2 L475.6,219.4 L475.9,219.8 L476.1,219.7 L476.4,219.5 L476.6,219.7 M492.4,223.7 L492.6,223.6 L492.9,224.1 L493.1,224.1 L493.4,224.1 L493.6,224.4 L493.9,224.6 L494.1,224.5 L494.4,224.9 L494.6,225.0 L494.9,224.8 L495.1,225.1 L495.4,225.4 L495.6,225.0 L495.9,225.0 L496.1,225.0 L496.4,224.9 L496.6,224.7 L496.9,225.2 L497.1,226.0 L497.4,227.4 L497.6,230.2 L497.9,234.6 L498.1,239.9 L498.4,244.7 L498.6,247.5 L498.9,246.6 L499.0,245.1 L499.1,242.6 L499.4,237.3 L499.6,232.5 L499.9,229.5 L500.1,227.8 L500.4,227.1 L500.6,227.2 L500.9,227.0 L501.1,227.0 L501.4,227.0 L501.6,226.9 L501.9,226.7 L502.1,227.2 L502.4,227.2 L502.6,227.3 L502.9,227.4 L503.1,227.5 L503.4,227.3 L503.6,227.5 L503.9,227.9 L504.1,228.1 L504.4,228.4 L504.6,228.4 L504.9,228.5 L505.1,228.0 L505.4,228.0 L505.6,227.9 L505.9,227.8 L506.1,227.5 L506.4,227.9 L506.6,227.9 L506.9,227.9 L507.1,228.0 L507.4,228.3 L507.6,228.3 L507.9,228.2 L508.1,228.2 L508.4,228.3 L508.6,228.5 L508.9,228.4 L509.1,228.5 L509.4,228.6 L509.6,228.6 L509.9,228.8 L510.1,228.8 L510.4,229.2 L510.6,229.5 L510.9,229.5 L511.1,229.5 L511.4,229.5 L511.6,229.2 L511.9,229.2 L512.1,229.7 L512.4,230.2 L512.6,231.0 L512.9,231.7 L513.1,231.6 L513.4,231.4 L513.6,230.6 L513.9,230.1 L514.1,229.7 L514.4,229.6 L514.6,229.3 L514.9,229.4 L515.1,229.5 L515.4,229.7 L515.6,230.0 L515.9,230.2 L516.1,230.2 L516.4,230.2 L516.6,230.2 L516.9,229.8 L517.1,230.2 L517.4,230.3 L517.6,230.4 L517.9,230.5 L518.1,231.0 L518.4,230.9 L518.6,231.2 L518.9,231.4 L519.1,231.6 L519.4,231.7 L519.6,231.7 L519.9,231.8 L520.0,231.8 L520.1,231.7 L520.4,231.4 L520.6,231.4 L520.9,231.4 L521.1,231.2 L521.4,231.3 L521.6,231.6 L521.9,231.7 L522.1,231.3 L522.4,231.6 L522.6,231.6 L522.9,231.5 L523.1,231.5 L523.4,231.6 L523.6,231.7 L523.9,231.6 L524.1,231.9 L524.4,231.6 L524.6,232.2 L524.9,232.1 L525.1,232.4 L525.4,232.1 L525.6,232.4 L525.9,232.7 L526.1,232.6 L526.4,232.5 L526.6,232.6 L526.9,232.6 L527.1,232.5 L527.4,233.0 L527.6,233.3 L527.9,233.5 L528.1,234.5 L528.4,235.4 L528.6,236.1 L528.9,237.0 L529.1,237.1 L529.4,236.4 L529.6,235.2 L529.9,234.1 L530.1,233.5 L530.4,233.3 L530.6,233.6 L530.9,233.8 L531.1,233.9 L531.4,234.0 L531.6,234.4 L531.9,234.2 L532.1,234.0 L532.4,234.2 L532.6,234.4 L532.9,234.1 L533.1,233.9 L533.4,234.3 L533.6,234.4 L533.9,234.0 L534.1,234.1 L534.4,234.2 L534.6,234.1 L534.9,234.2 L535.1,234.7 L535.4,235.1 L535.6,235.3 L535.9,235.9 L536.1,236.9 L536.4,237.7 L536.6,238.5 L536.9,239.2 L537.1,239.0 L537.4,238.5 L537.6,237.5 L537.9,236.2 L538.1,235.8 L538.4,235.4 L538.6,235.0 L538.9,234.8 L539.1,235.0 L539.4,234.7 L539.6,234.8 L539.9,234.9 L540.1,234.8 L540.4,235.2 L540.6,235.3 L540.9,235.2 L541.1,235.3 L541.4,235.7 L541.6,235.4 L541.9,235.9 L542.1,236.0 L542.4,236.0 L542.6,236.1 L542.9,236.6 L543.1,236.3 L543.4,236.6 L543.6,236.5 L543.9,236.7 L544.1,236.5 L544.4,236.6 L544.6,237.0 L544.9,237.5 L545.1,237.9 L545.4,239.2 L545.6,240.0 L545.9,240.1 L546.1,240.2 L546.4,239.5 L546.6,238.7 L546.9,238.2 L547.1,237.8 L547.4,237.3 L547.6,237.5 L547.9,237.3 L548.1,237.0 L548.4,237.2 L548.6,237.1 L548.9,237.0 L549.1,237.0 L549.4,237.2 L549.6,237.2 L549.9,237.4 L550.0,237.5 L550.1,237.6 L550.4,237.6 L550.6,237.4 L550.9,237.5 L551.1,237.5 L551.4,237.4 L551.6,237.6 L551.9,238.0 L552.1,238.4 L552.4,238.7 L552.6,238.8 L552.9,238.7 L553.1,238.8 L553.4,238.8 L553.6,239.0 L553.9,239.4 L554.1,240.3 L554.4,241.0 L554.6,241.9 L554.9,242.7 L555.1,243.5 L555.4,243.8 L555.6,243.7 L555.9,243.4 L556.1,242.5 L556.4,241.9 L556.6,241.2 L556.9,240.7 L557.1,240.2 L557.4,240.0 L557.6,239.9 L557.9,239.9 L558.0,239.6 L558.1,239.5 L558.4,239.5 L558.6,239.6 L558.9,239.7 L559.1,240.1 L559.4,240.1 L559.6,240.3 L559.9,240.1 L560.1,240.4 L560.4,240.2 L560.6,240.5 L560.9,240.6 L561.1,240.4 L561.4,240.2 L561.6,240.4 L561.9,240.3 L562.1,240.9 L562.4,241.8 L562.6,242.4 L562.9,242.6 L563.1,243.2 L563.4,242.8 L563.6,242.3 L563.9,242.1 L564.1,241.8 L564.4,241.5 L564.6,241.4 L564.9,241.3 L565.1,241.1 L565.4,241.2 L565.6,241.3 L565.9,241.4 L566.1,241.5 L566.4,241.5 L566.6,241.6 L566.9,241.3 L567.1,241.3 L567.4,241.4 L567.6,241.4 L567.9,241.4 L568.1,241.5 L568.4,241.9 L568.6,242.2 L568.9,242.4 L569.1,242.5 L569.4,242.9 L569.6,242.7 L569.9,242.6 L570.1,242.6 L570.4,242.7 L570.6,242.7 L570.9,242.7 L571.1,243.1 L571.4,242.9 L571.6,243.0 L571.9,242.7 L572.1,243.1 L572.4,242.7 L572.6,242.9 L572.9,243.0 L573.1,243.4 L573.4,243.0 L573.6,243.1 L573.9,242.9 L574.1,242.9 L574.4,242.7 L574.6,242.9 L574.9,242.9 L575.1,243.1 L575.4,243.0 L575.6,243.2 L575.9,243.5 L576.1,243.4 L576.4,243.5 L576.6,243.6 L576.9,243.6 L577.1,243.3 L577.4,243.6 L577.6,243.5 L577.9,243.8 L578.1,243.8 L578.4,243.9 L578.6,244.1 L578.9,244.3 L579.1,244.0 L579.4,244.1 L579.6,244.3 L579.9,244.3 L580.1,244.7 L580.4,245.4 L580.6,245.6 L580.9,246.0 L581.1,246.9 L581.4,247.7 L581.6,248.0 L581.9,248.3 L582.1,248.4 L582.4,247.8 L582.6,246.8 L582.9,246.3 L583.1,245.7 L583.4,245.2 L583.6,245.1 L583.9,245.1 L584.1,245.0 L584.4,245.3 L584.6,245.7 L584.9,245.5 L585.0,245.7 L585.1,245.6 L585.4,245.9 L585.6,245.9 L585.9,245.9 L586.1,246.0 L586.4,246.3 L586.6,246.2 L586.9,246.5 L587.1,247.0 L587.4,247.0 L587.6,246.9 L587.9,246.7 L588.1,246.6 L588.4,246.5 L588.6,247.1 L588.9,247.2 L589.1,247.2 L589.4,247.1 L589.6,247.2 L589.9,246.7 L590.0,246.6 L590.1,247.0 L590.4,247.3 L590.6,247.5 L590.9,247.8 L591.1,248.3 L591.4,248.5 L591.6,248.6 L591.9,248.6 L592.1,248.8 L592.4,249.0 L592.5,248.9 L592.6,249.3 L592.9,250.2 L593.1,250.8 L593.4,251.3 L593.6,252.0 L593.9,252.7 L594.1,253.3 L594.3,253.8 L594.4,254.0 L594.6,255.2 L594.9,256.4 L595.1,257.8 L595.4,259.0 L595.6,260.5 L595.6,261.1 L595.9,263.4 L596.1,265.6 L596.4,268.1 L596.6,269.7 L596.6,270.5 L596.9,273.5 L597.1,276.1 L597.4,278.5 L597.6,281.0 L597.6,280.2 L597.9,276.9 L598.1,274.5 L598.4,271.9 L598.6,269.6 L598.6,269.5 L598.9,267.1 L599.1,264.1 L599.4,261.4 L599.6,259.1 L599.6,258.4 L599.9,257.4 L600.1,256.4 L600.4,255.3 L600.6,254.7 L600.9,253.9 L601.0,253.6 L601.1,253.5 L601.4,253.3 L601.6,253.0 L601.9,252.5 L602.1,252.4 L602.4,251.8 L602.6,251.4 L602.9,250.6 L603.0,250.4 L603.1,250.2 L603.4,250.5 L603.6,250.4 L603.9,250.6 L604.1,250.5 L604.4,250.3 L604.6,249.8 L604.9,249.9 L605.1,249.6 L605.4,249.6 L605.6,249.6 L605.9,249.7 L606.0,249.5 L606.1,249.6 L606.4,249.9 L606.6,249.7 L606.9,250.0 L607.1,250.3 L607.4,250.5 L607.6,250.0 L607.9,250.4 L608.1,250.5 L608.4,250.2 L608.6,250.3 L608.9,250.6 L609.1,250.6 L609.4,250.7 L609.6,250.9 L609.9,251.4 L610.1,251.6 L610.4,252.6 L610.6,252.9 L610.9,253.1 L611.1,253.0 L611.4,252.7 L611.6,251.9 L611.9,251.3 L612.1,251.2 L612.4,251.0 L612.6,251.2 L612.9,250.8 L613.1,251.0 L613.4,251.1 L613.6,251.0 L613.9,250.8 L614.1,250.8 L614.4,250.6 L614.6,250.7 L614.9,250.5 L615.0,250.7 L615.1,250.9 L615.4,251.1 L615.6,250.8 L615.9,251.0 L616.1,251.0 L616.4,251.0 L616.6,251.1 L616.9,251.4 L617.1,251.4 L617.4,251.4 L617.6,251.1 L617.9,251.2 L618.1,251.1 L618.4,251.2 L618.6,251.4 L618.9,251.8 L619.1,251.3 L619.4,251.3 L619.6,251.2 L619.9,251.2 L620.1,251.6 L620.4,252.0 L620.6,252.0 L620.9,252.2 L621.1,252.2 L621.4,251.9 L621.6,252.3 L621.9,252.1 L622.1,252.5 L622.4,252.3 L622.6,252.3 L622.9,252.3 L623.1,252.7 L623.4,252.3 L623.6,252.4 L623.9,252.3 L624.1,252.2 L624.4,252.3 L624.6,252.3 L624.9,252.5 L625.1,252.7 L625.4,252.9 L625.6,252.8 L625.9,253.3 L626.1,253.3 L626.4,253.4 L626.6,253.5 L626.9,253.7 L627.1,253.2 L627.4,253.4 L627.6,253.3 L627.9,253.2 L628.1,252.8 L628.4,252.9 L628.6,252.7 L628.9,252.6 L629.1,252.8 L629.4,252.8 L629.6,253.3 L629.9,253.5 L630.0,253.6 L630.1,253.4 L630.4,253.6 L630.6,253.2 L630.9,253.1 L631.1,253.2 L631.4,253.3 L631.6,253.3 L631.9,253.4 L632.1,253.4" fill="none" stroke="#000" stroke-width="3.2" stroke-linejoin="round" shape-rendering="crispEdges"/>
<path id="spec-red" d="M632.1,253.4 L632.4,253.5 L632.6,253.9 L632.9,254.2 L633.1,254.2 L633.4,254.2 L633.6,254.0 L633.9,253.5 L634.1,253.6 L634.4,253.6 L634.6,253.9 L634.9,254.1 L635.1,254.6 L635.4,254.8 L635.6,255.1 L635.9,255.3 L636.1,255.5 L636.4,255.9 L636.6,255.7 L636.9,255.8 L637.1,255.6 L637.4,255.5 L637.6,255.3 L637.9,255.7 L638.1,255.5 L638.4,255.7 L638.6,255.8 L638.9,255.5 L639.1,255.0 L639.4,255.1 L639.6,254.8 L639.9,255.1 L640.1,255.0 L640.4,255.2 L640.6,255.3 L640.9,255.3 L641.1,255.1 L641.4,255.6 L641.6,255.6 L641.9,255.7 L642.1,255.9 L642.4,255.7 L642.6,255.9 L642.9,256.4 L643.1,256.7 L643.4,257.0 L643.6,257.4 L643.9,257.6 L644.1,257.5 L644.4,257.7 L644.6,258.0 L644.9,258.3 L645.0,258.3 L645.1,258.1 L645.4,258.0 L645.6,257.7 L645.9,257.4 L646.1,256.9 L646.4,257.2 L646.6,256.8 L646.9,256.4 L647.1,256.2 L647.4,256.5 L647.6,256.5 L647.9,256.7 L648.1,256.8 L648.4,256.8 L648.6,256.9 L648.9,256.4 L649.1,256.6 L649.4,257.0 L649.6,257.1 L649.9,257.1 L650.1,257.5 L650.4,257.6 L650.6,257.4 L650.9,257.8 L651.1,258.0 L651.4,258.1 L651.6,258.1 L651.9,258.4 L652.1,258.1 L652.4,257.8 L652.6,257.5 L652.9,257.5 L653.1,257.6 L653.4,257.7 L653.6,258.0 L653.9,258.0 L654.1,257.8 L654.4,257.5 L654.6,257.3 L654.9,257.0 L655.1,257.1 L655.4,257.1 L655.6,256.9 L655.9,257.2 L656.1,257.3 L656.4,257.5 L656.6,257.6 L656.9,257.7 L657.1,257.7 L657.4,257.8 L657.6,257.5 L657.9,257.5 L658.1,257.7 L658.4,257.8 L658.6,258.1 L658.9,257.9 L659.1,258.0 L659.4,257.8 L659.6,257.8 L659.9,257.6 L660.0,257.8 L660.1,258.0 L660.4,258.1 L660.6,257.9 L660.9,258.2 L661.1,258.5 L661.4,258.3 L661.6,258.5 L661.9,258.6 L662.1,258.6 L662.4,258.4 L662.6,258.4 L662.9,258.3 L663.1,258.3 L663.4,258.2 L663.6,258.3 L663.9,258.5 L664.1,258.5 L664.4,258.1 L664.6,258.1 L664.9,257.8 L665.1,257.9 L665.4,258.2 L665.6,258.8 L665.9,258.8 L666.1,259.1 L666.4,259.1 L666.6,258.8 L666.9,258.8 L667.1,258.7 L667.4,259.0 L667.6,259.0 L667.9,259.3 L668.1,259.4 L668.4,259.6 L668.6,259.4 L668.9,259.5 L669.1,259.5 L669.4,259.6 L669.6,259.6 L669.9,259.5 L670.1,259.7 L670.4,259.6 L670.6,259.5 L670.9,259.9 L671.1,260.2 L671.4,260.1 L671.6,260.1 L671.9,260.6 L672.1,260.4 L672.4,260.4 L672.6,260.3 L672.9,260.2 L673.1,259.7 L673.4,259.7 L673.6,259.7 L673.9,259.7 L674.1,259.8 L674.4,259.8 L674.6,259.8 L674.9,259.5 L675.1,259.7 L675.4,260.1 L675.6,260.8 L675.9,261.0 L676.1,261.2 L676.4,261.0 L676.6,260.3 L676.9,259.8 L677.1,259.7 L677.4,260.0 L677.6,260.3 L677.9,261.0 L678.1,261.2 L678.4,261.6 L678.6,261.9 L678.9,262.1 L679.1,262.4 L679.4,262.7 L679.6,263.2 L679.9,263.5 L680.1,263.8 L680.4,263.4 L680.6,263.3 L680.9,262.6 L681.1,262.0 L681.4,261.5 L681.6,261.6 L681.9,261.4 L682.1,261.5 L682.4,261.5 L682.6,261.6 L682.9,261.5 L683.1,261.5 L683.4,261.5 L683.6,261.5 L683.9,261.6 L684.1,261.6 L684.4,261.5 L684.6,261.6 L684.9,261.5 L685.1,261.6 L685.4,261.7 L685.6,261.7 L685.9,261.5 L686.1,261.6 L686.4,261.4 L686.6,261.2 L686.9,261.6 L687.1,261.8 L687.4,261.9 L687.6,262.0 L687.9,262.3 L688.1,262.1 L688.4,262.2 L688.6,262.2 L688.9,262.4 L689.1,262.3 L689.4,262.3 L689.6,262.3 L689.9,262.3 L690.0,262.3 L690.1,262.3 L690.4,262.6 L690.6,262.9 L690.9,262.9 L691.1,263.0 L691.4,263.2 L691.6,262.8 L691.9,262.4 L692.1,262.4 L692.4,262.6 L692.6,262.5 L692.9,262.8 L693.1,262.8 L693.4,263.0 L693.6,262.7 L693.9,262.8 L694.1,262.7 L694.4,262.7 L694.6,262.9 L694.9,263.3 L695.1,263.4 L695.4,263.7 L695.6,264.0 L695.9,264.0 L696.1,264.0 L696.4,264.1 L696.6,264.1 L696.9,264.0 L697.1,263.9 L697.4,263.7 L697.6,263.6 L697.9,263.5 L698.1,263.2 L698.4,263.1 L698.6,262.8 L698.9,262.8 L699.1,262.9 L699.4,263.0 L699.6,263.3 L699.9,263.7 L700.1,263.8 L700.4,264.1 L700.6,264.6 L700.9,264.4 L701.1,264.4 L701.4,264.5 L701.6,264.4 L701.9,264.3 L702.1,264.4 L702.4,264.2 L702.6,264.0 L702.9,263.9 L703.1,263.9 L703.4,264.0 L703.6,264.2 L703.9,264.8 L704.1,265.4 L704.4,266.0 L704.6,266.3 L704.9,266.6 L705.1,266.4 L705.4,266.2 L705.6,265.7 L705.9,265.7 L706.1,265.4 L706.4,265.2 L706.6,265.0 L706.9,265.0 L707.1,264.8 L707.4,264.9 L707.6,265.0 L707.9,265.1 L708.1,265.0 L708.4,265.2 L708.6,265.2 L708.9,265.3 L709.1,265.4 L709.4,265.5 L709.6,265.5 L709.9,265.6 L710.1,265.5 L710.4,265.1 L710.6,265.2 L710.9,265.3 L711.1,265.1 L711.4,265.2 L711.6,265.7 L711.9,266.2 L712.1,266.8 L712.4,267.2 L712.6,267.7 L712.9,268.1 L713.1,268.0 L713.4,267.6 L713.6,267.1 L713.9,266.6 L714.1,266.2 L714.4,265.5 L714.6,265.1 L714.9,265.4 L715.1,265.6 L715.4,265.4 L715.6,265.6 L715.9,265.9 L716.1,266.2 L716.4,266.1 L716.6,266.4 L716.9,266.4 L717.1,266.6 L717.4,266.2 L717.6,266.2 L717.9,266.2 L718.1,265.8 L718.4,266.1 L718.6,266.1 L718.9,266.0 L719.1,266.1 L719.4,266.2 L719.6,265.7 L719.9,265.7 L720.0,265.7 L720.1,265.7 L720.4,266.2 L720.6,266.3 L720.9,266.5 L721.1,266.7 L721.4,266.6 L721.6,266.5 L721.9,266.4 L722.1,266.5 L722.4,266.6 L722.6,266.8 L722.9,266.5 L723.1,266.7 L723.4,266.5 L723.6,266.6 L723.9,266.6 L724.1,266.7 L724.4,266.8 L724.6,267.1 L724.9,266.9 L725.1,267.2 L725.4,267.3 L725.6,267.1 L725.9,267.0 L726.1,267.0 L726.4,266.8 L726.6,266.9 L726.9,267.2 L727.1,267.4 L727.4,267.5 L727.6,267.9 L727.9,267.9 L728.1,267.8 L728.4,267.7 L728.6,267.8 L728.9,268.0 L729.1,268.1 L729.4,267.9 L729.6,268.0 L729.9,267.9 L730.1,267.5 L730.4,267.0 L730.6,267.4 L730.9,267.4 L731.1,267.6 L731.4,267.8 L731.6,268.6 L731.9,268.4 L732.1,268.5 L732.4,268.3 L732.6,268.1 L732.9,268.0 L733.1,268.1 L733.4,267.8 L733.6,268.0 L733.9,268.1 L734.1,267.8 L734.4,267.8 L734.6,268.0 L734.9,267.7 L735.1,267.6 L735.4,268.1 L735.6,267.8 L735.9,267.9 L736.1,268.3 L736.4,268.6 L736.6,268.2 L736.9,268.4 L737.1,268.4 L737.4,268.5 L737.6,268.3 L737.9,268.3 L738.1,268.6 L738.4,268.7 L738.6,268.7 L738.9,268.7 L739.1,269.0 L739.4,268.9 L739.6,268.9 L739.9,268.7 L740.1,268.8 L740.4,268.8 L740.6,268.6 L740.9,268.5 L741.1,268.8 L741.4,268.7 L741.6,268.8 L741.9,268.8 L742.1,268.8 L742.4,268.9 L742.6,269.0 L742.9,269.2 L743.1,269.2 L743.4,269.0 L743.6,269.0 L743.9,269.1 L744.1,269.3 L744.4,269.6 L744.6,269.7 L744.9,269.9 L745.1,269.7 L745.4,269.2 L745.6,269.5 L745.9,269.7 L746.1,269.7 L746.4,270.0 L746.6,270.5 L746.9,270.2 L747.1,270.4 L747.4,270.1 L747.6,269.8 L747.9,269.8 L748.1,270.0 L748.4,270.0 L748.6,270.2 L748.9,270.5 L749.1,270.2 L749.4,270.2 L749.6,270.2 L749.9,270.3 L750.0,270.4 L750.1,270.7 L750.4,270.5 L750.6,270.6 L750.9,270.3 L751.1,270.4 L751.4,270.6 L751.6,270.5 L751.9,270.4 L752.1,270.8 L752.4,270.9 L752.6,270.7 L752.9,270.6 L753.1,270.8 L753.4,270.6 L753.6,270.5 L753.9,270.8 L754.1,271.3 L754.4,271.7 L754.6,272.7 L754.9,273.4 L755.1,273.8 L755.4,274.1 L755.6,274.1 L755.9,273.6 L756.1,273.4 L756.4,273.0 L756.6,272.8 L756.9,272.6 L757.1,272.3 L757.4,271.8 L757.6,271.5 L757.9,271.3 L758.1,271.2 L758.4,271.3 L758.6,271.6 L758.9,271.7 L759.1,271.7 L759.4,271.4 L759.6,271.6 L759.9,271.7 L760.1,271.7 L760.4,271.5 L760.6,271.8 L760.9,271.2 L761.1,270.9 L761.4,271.1 L761.6,271.3 L761.9,271.2 L762.1,271.7 L762.4,271.7 L762.6,271.6 L762.9,271.6 L763.1,271.5 L763.4,271.5 L763.6,271.5 L763.9,271.8 L764.1,271.8 L764.4,272.3 L764.6,272.1 L764.9,272.4 L765.1,271.9 L765.4,271.9 L765.6,271.6 L765.9,271.9 L766.1,271.7 L766.4,272.1 L766.6,272.2 L766.9,272.2 L767.1,272.2 L767.4,272.5 L767.6,272.1 L767.9,272.5 L768.1,272.6 L768.4,272.5 L768.6,272.3 L768.9,272.3 L769.1,271.9 L769.4,271.9 L769.6,272.0 L769.9,272.0 L770.1,272.2 L770.4,272.7 L770.6,272.6 L770.9,272.6 L771.1,273.0 L771.4,273.2 L771.6,273.0 L771.9,273.0 L772.1,272.9 L772.4,272.5 L772.6,272.4 L772.9,272.4 L773.1,272.6 L773.4,273.0 L773.6,273.4 L773.9,273.7 L774.1,273.9 L774.4,274.1 L774.6,274.7 L774.9,275.4 L775.1,276.3 L775.4,277.4 L775.6,278.4 L775.9,278.7 L776.0,278.9 L776.1,278.9 L776.4,278.4 L776.6,277.9 L776.9,277.1 L777.1,276.0 L777.4,275.1 L777.6,274.9 L777.9,274.3 L778.1,274.2 L778.4,274.4 L778.6,274.6 L778.9,274.2 L779.1,274.6 L779.4,274.4 L779.6,274.2 L779.9,274.0 L780.1,274.2 L780.4,274.0 L780.6,273.9 L780.9,274.2 L781.1,274.2 L781.4,273.9 L781.6,274.1 L781.9,274.2 L782.1,274.2 L782.4,274.2 L782.6,274.6 L782.9,274.5 L783.1,274.7 L783.4,274.4 L783.6,274.6 L783.9,274.5 L784.1,274.2 L784.4,273.8 L784.6,274.2 L784.9,274.1 L785.1,274.1 L785.4,274.5 L785.6,274.8 L785.9,274.8 L786.1,274.8 L786.4,274.9 L786.6,275.0 L786.9,274.7 L787.1,274.5 L787.4,274.8 L787.6,275.1 L787.9,274.7 L788.1,274.5 L788.4,274.4 L788.6,274.1 L788.9,273.9 L789.1,274.2 L789.4,274.6 L789.6,274.8 L789.9,275.0 L790.1,274.9 L790.4,274.8 L790.6,274.7 L790.9,275.3 L791.1,275.4 L791.4,275.5 L791.6,275.4 L791.9,275.4 L792.1,274.8 L792.4,274.6 L792.6,274.6 L792.9,274.9 L793.1,275.0 L793.4,275.1 L793.6,275.1 L793.9,275.0 L794.1,274.9 L794.4,275.0 L794.6,275.3 L794.9,275.4 L795.1,275.8 L795.4,275.9 L795.6,275.9 L795.9,275.5 L796.1,275.4 L796.4,275.4 L796.6,275.6 L796.9,275.7 L797.1,276.1 L797.4,276.3 L797.6,276.1 L797.9,275.8 L798.1,276.0 L798.4,276.0 L798.6,276.0 L798.9,276.1 L799.1,276.3 L799.4,276.2 L799.6,276.0 L799.9,276.4 L800.1,276.5 L800.4,276.4 L800.6,276.6 L800.9,277.0 L801.1,276.7 L801.4,276.8 L801.6,276.6 L801.9,276.3 L802.1,275.9 L802.4,276.1 L802.6,275.8 L802.9,276.1 L803.1,276.1 L803.4,276.3 L803.6,276.1 L803.9,276.4 L804.1,276.5 L804.4,276.9 L804.6,277.1 L804.9,277.3 L805.1,277.2 L805.4,277.3 L805.6,277.0 L805.9,276.9 L806.1,276.8 L806.4,277.0 L806.6,277.0 L806.9,277.2 L807.1,277.7 L807.4,278.4 L807.6,279.4 L807.9,279.7 L808.1,279.5 L808.4,279.2 L808.6,278.0 L808.9,277.1 L809.0,277.3 L809.1,277.0 L809.4,277.0 L809.6,277.0 L809.9,277.4 L810.1,277.5 L810.4,278.0 L810.6,277.6 L810.9,278.0 L811.1,277.7 L811.4,277.6 L811.6,277.3 L811.9,277.3 L812.1,277.5 L812.4,277.5 L812.6,277.3 L812.9,277.5 L813.1,277.4 L813.4,277.5 L813.6,277.7 L813.9,277.6 L814.1,277.6 L814.4,277.7 L814.6,277.4 L814.9,277.4 L815.1,277.6 L815.4,277.7 L815.6,277.8 L815.9,278.1 L816.1,278.1 L816.4,278.3 L816.6,278.1 L816.9,278.2 L817.1,277.9 L817.4,278.0 L817.6,278.1 L817.9,278.5 L818.1,278.8 L818.4,279.0 L818.6,278.9 L818.9,278.9 L819.1,278.6 L819.4,278.6 L819.6,278.8 L819.9,278.7 L820.1,278.6 L820.4,278.8 L820.6,278.7 L820.9,278.5 L821.1,278.8 L821.4,278.9 L821.6,278.7 L821.9,278.6 L822.1,278.4 L822.4,278.3 L822.6,278.2 L822.9,278.2 L823.1,278.2 L823.4,278.7 L823.6,278.5 L823.9,278.8 L824.1,278.6 L824.4,278.7 L824.6,278.4 L824.9,278.5 L825.1,278.6 L825.4,278.9 L825.6,279.2 L825.9,279.6 L826.1,279.6 L826.4,279.6 L826.6,279.6 L826.9,279.5 L827.1,279.6 L827.4,279.4 L827.6,279.5 L827.9,279.7 L828.1,279.7 L828.4,279.6 L828.6,279.7 L828.9,279.3 L829.1,279.6 L829.4,279.5 L829.6,279.2 L829.9,279.5 L830.1,279.6 L830.4,279.1 L830.6,278.7 L830.9,278.7 L831.1,278.8 L831.4,278.8 L831.6,279.1 L831.9,279.5 L832.1,279.9 L832.4,279.6 L832.6,279.6 L832.9,279.5 L833.1,279.3 L833.4,279.1 L833.6,279.5 L833.9,279.5 L834.1,279.4 L834.4,279.6 L834.6,280.1 L834.9,280.2 L835.1,280.5 L835.4,281.7 L835.6,282.9 L835.9,283.4 L836.0,283.5 L836.1,283.7 L836.4,282.8 L836.6,281.5 L836.9,280.6 L837.1,280.3 L837.4,280.1 L837.6,280.3 L837.9,280.5 L838.1,280.7 L838.4,280.8 L838.6,280.9 L838.9,280.6 L839.1,280.4 L839.4,280.4 L839.6,280.2 L839.9,280.0 L840.1,280.2 L840.4,280.4 L840.6,280.3 L840.9,280.7 L841.1,280.4 L841.4,280.6 L841.6,281.0 L841.9,281.1 L842.1,280.9 L842.4,281.5 L842.6,281.6 L842.9,281.1 L843.1,281.1 L843.4,281.1 L843.6,281.1 L843.9,280.9 L844.1,281.2 L844.4,281.2 L844.6,281.2 L844.9,281.1 L845.1,281.0 L845.4,280.9 L845.6,280.9 L845.9,280.8 L846.1,281.1 L846.4,281.3 L846.6,281.1 L846.9,281.3 L847.1,281.4 L847.4,281.3 L847.6,281.3 L847.9,281.6 L848.1,281.5 L848.4,281.5 L848.6,281.5 L848.9,281.8 L849.1,281.4 L849.4,281.5 L849.6,281.6 L849.9,281.5 L850.1,281.0 L850.4,281.7 L850.6,281.7 L850.9,281.9 L851.1,282.2 L851.4,282.5 L851.6,282.2 L851.9,282.4 L852.1,282.3 L852.4,282.3 L852.6,282.3 L852.9,282.3 L853.1,282.4 L853.4,282.4 L853.6,282.2 L853.9,282.1 L854.1,282.2 L854.4,281.9 L854.6,281.7 L854.9,281.8 L855.1,281.9 L855.4,281.9 L855.6,282.2 L855.9,282.3 L856.1,282.7 L856.4,282.8 L856.6,283.2 L856.9,283.3 L857.1,283.4 L857.4,283.0 L857.6,282.6 L857.9,282.2 L858.1,282.2 L858.4,282.6 L858.6,282.8 L858.9,283.9 L859.1,284.3 L859.4,284.9 L859.6,284.6 L859.9,285.1 L860.1,284.8 L860.4,284.7 L860.6,284.2 L860.9,284.0 L861.1,283.7 L861.4,283.5 L861.6,283.3 L861.9,283.3 L862.1,283.6 L862.4,283.4 L862.6,283.1 L862.9,282.8 L863.1,282.9 L863.4,282.9 L863.6,282.9 L863.9,283.1 L864.1,283.3 L864.4,283.1 L864.6,283.0 L864.9,282.9 L865.1,283.3 L865.4,283.4 L865.6,283.3 L865.9,283.2 L866.1,283.2 L866.4,283.0 L866.6,283.1 L866.9,283.2 L867.1,283.5 L867.4,283.5 L867.6,283.3 L867.9,283.4 L868.1,283.5 L868.4,283.9 L868.6,283.9 L868.9,284.0 L869.1,284.0 L869.4,283.9 L869.6,283.4 L869.9,283.4 L870.1,283.4 L870.4,283.4 L870.5,283.4 L870.6,283.8 L870.9,284.1 L871.1,284.2 L871.4,284.1 L871.6,284.1 L871.9,284.1 L872.1,284.1 L872.4,284.1 L872.6,284.2 L872.9,284.2 L873.1,283.9 L873.4,283.7 L873.6,283.8 L873.9,283.8 L874.1,284.2 L874.4,284.4 L874.6,284.7 L874.9,284.9 L875.1,285.0 L875.4,284.7 L875.6,284.8 L875.9,284.9 L876.1,284.7 L876.4,285.0 L876.6,285.6 L876.9,286.0 L877.1,286.8 L877.4,287.4 L877.6,287.6 L877.9,287.6 L878.1,287.6 L878.4,287.2 L878.6,286.9 L878.9,286.8 L879.1,286.5 L879.4,286.3 L879.6,285.8 L879.9,285.4 L880.1,284.9 L880.4,284.6 L880.6,284.6 L880.9,284.6 L881.1,285.1 L881.4,285.3 L881.6,285.5 L881.9,285.4 L882.1,285.5 L882.4,285.4 L882.6,285.4 L882.9,285.2 L883.1,285.3 L883.4,285.7 L883.6,285.6 L883.9,285.4 L884.1,285.5 L884.4,285.2 L884.6,285.0 L884.9,285.1 L885.1,285.2 L885.4,285.3 L885.5,285.5" fill="none" stroke="#000" stroke-width="3.7" stroke-linejoin="round" shape-rendering="crispEdges"/>
<path id="spec-nir" d="M907.5,286.4 L908.0,285.7 L908.5,285.4 L909.0,284.7 L909.5,283.7 L910.0,283.8 L910.5,283.4 L911.0,283.4 L911.5,283.2 L912.0,283.0 L912.5,283.1 L913.0,283.1 L913.5,283.3 L914.0,283.5 L914.5,283.8 L915.0,283.9 L915.5,284.0 L916.0,284.5 L916.5,284.8 L917.0,285.3 L917.5,286.1 L918.0,287.7 L918.5,288.8 L919.0,290.5 L919.5,291.5 L920.0,289.9 L920.5,288.5 L921.0,287.2 L921.5,286.0 L922.0,284.7 L922.5,283.7 L923.0,283.1 L923.5,283.2 L924.0,283.5 L924.5,283.5 L925.0,283.0 L925.5,282.4 L926.0,282.0 L926.5,281.9 L927.0,281.7 L927.5,281.8 L928.0,282.1 L928.5,282.1 L929.0,282.7 L929.5,282.8 L930.0,282.7 L930.5,282.9 L931.0,283.3 L931.5,284.0 L932.0,285.1 L932.5,286.4 L933.0,287.0 L933.5,288.0 L934.0,289.5 L934.5,290.6 L935.0,292.4 L935.5,293.4 L936.0,292.3 L936.5,290.6 L937.0,289.0 L937.5,288.0 L938.0,287.3 L938.5,286.6 L939.0,286.3 L939.5,285.9 L940.0,285.4 L940.5,285.4 L941.0,285.1 L941.5,285.1 L942.0,284.8 L942.5,284.3 L943.0,284.0 L943.5,283.9 M946.0,282.4 L946.5,282.6 L947.0,282.7 L947.5,282.7 L948.0,282.2 L948.5,282.1 L949.0,281.8 L949.5,281.8 L950.0,282.5 L950.5,283.2 L951.0,283.7 L951.5,283.9 L952.0,283.9 L952.5,283.7 L953.0,284.5 L953.5,285.4 L954.0,286.1 L954.5,286.8 L955.0,286.7 L955.5,287.6 L956.0,288.4 L956.5,289.6 L957.0,291.2 L957.5,292.4 L958.0,293.8 L958.5,295.2 L959.0,294.7 L959.5,293.3 L960.0,292.0 L960.5,290.2 L961.0,289.3 L961.5,288.6 L962.0,288.1 L962.5,287.4 L963.0,287.0 L963.5,286.5 L964.0,285.6 L964.5,285.7 L965.0,285.4 L965.5,285.4 L966.0,285.1 L966.5,285.0 L967.0,284.9 L967.5,284.7 L968.0,284.6 L968.5,284.8 L969.0,284.7 L969.5,284.6 L970.0,284.5 L970.5,284.1 L971.0,284.0 L971.5,283.7 L972.0,283.8 L972.5,283.9 L973.0,283.8 L973.5,284.1 L974.0,284.2 L974.5,284.0 L975.0,284.5 L975.5,284.5 L976.0,284.4 L976.5,285.0 L977.0,284.7 L977.5,284.6 L978.0,285.1 L978.5,284.7 L979.0,284.6 L979.5,285.0 L980.0,284.3 L980.5,284.7 L981.0,284.9 L981.5,285.4 L982.0,285.6 L982.5,285.8 L983.0,286.0 L983.5,285.9 M986.0,287.8 L986.5,288.7 L987.0,289.9 L987.5,291.0 L988.0,291.7 L988.5,292.9 L989.0,294.5 L989.5,296.1 L990.0,298.0 L990.5,296.4 L991.0,295.3 L991.5,294.4 L992.0,293.1 L992.5,292.4 L993.0,291.1 L993.5,290.0 L994.0,289.5 L994.5,289.1 L995.0,288.7 L995.5,288.1 L996.0,287.5 L996.5,287.2 L997.0,287.0 L997.5,286.9 L998.0,287.0 L998.5,286.9 L999.0,286.9 L999.5,286.9 L1000.0,286.5 L1000.5,286.5 L1001.0,286.5 L1001.5,286.3 L1002.0,286.6 L1002.5,286.7 L1003.0,286.3 L1003.5,286.7 L1004.0,286.8 L1004.5,287.2 L1005.0,287.6 L1005.5,287.7 L1006.0,288.0 L1006.5,287.7 L1007.0,287.4 L1007.5,287.1 L1008.0,286.9 L1008.5,285.8 L1009.0,285.8 L1009.5,285.7 L1010.0,285.6 L1010.5,285.9 L1011.0,285.7 L1011.5,285.7 L1012.0,285.8 L1012.5,285.8 L1013.0,286.4 L1013.5,286.6 L1014.0,286.9 L1014.5,286.8 L1015.0,286.5 L1015.5,286.9 L1016.0,286.8 L1016.5,286.9 L1017.0,287.3 L1017.5,287.1 L1018.0,287.9 L1018.5,287.7 L1019.0,287.9 L1019.5,288.1 L1020.0,287.5 L1020.5,287.9 L1021.0,287.9 L1021.5,288.1 L1022.0,288.1 L1022.5,287.9 L1023.0,288.0 L1023.5,288.0 L1024.0,288.1 L1024.5,288.0 L1025.0,288.1 M1028.0,287.7 L1028.5,287.9 L1029.0,287.5 L1029.5,287.3 L1030.0,287.3 L1030.5,287.5 L1031.0,288.1 L1031.5,288.8 L1032.0,288.9 L1032.5,289.9 L1033.0,291.0 L1033.5,291.9 L1034.0,292.9 L1034.5,294.1 L1035.0,295.1 L1035.5,296.3 L1036.0,297.6 L1036.5,299.0 L1037.0,300.0 L1037.5,298.8 L1038.0,297.7 L1038.5,296.2 L1039.0,295.4 L1039.5,294.5 L1040.0,293.8 L1040.5,293.5 L1041.0,292.8 L1041.5,292.1 L1042.0,291.6 L1042.5,291.2 L1043.0,291.0 L1043.5,290.6 L1044.0,290.0 L1044.5,289.8 L1045.0,289.9 L1045.5,290.3 L1046.0,290.3 L1046.5,290.4 L1047.0,290.0 L1047.5,289.9 L1048.0,290.1 L1048.5,289.7 L1049.0,289.6 L1049.5,289.0 L1050.0,288.6 L1050.5,288.5 L1051.0,288.7 L1051.5,289.1 L1052.0,289.5 L1052.5,290.0 L1053.0,289.8 L1053.5,289.9 L1054.0,289.7 L1054.5,289.8 L1055.0,290.0 L1055.5,289.8 L1056.0,289.9 L1056.5,289.8 L1057.0,289.7 L1057.5,290.1 L1058.0,290.5 L1058.5,290.4 L1059.0,290.5 L1059.5,289.9 L1060.0,289.5 L1060.5,289.6 L1061.0,289.2 L1061.5,289.8 L1062.0,290.0 L1062.5,289.9 L1063.0,290.3 L1063.5,290.1 L1064.0,290.2 L1064.5,290.1 L1065.0,290.1 L1065.5,290.7 L1066.0,290.6 L1066.5,291.1 L1067.0,291.1 L1067.5,290.5 L1068.0,290.6 L1068.5,290.6 L1069.0,290.5 L1069.5,290.8 M1073.0,291.1 L1073.5,291.4 L1074.0,291.6 L1074.5,291.2 L1075.0,291.1 L1075.5,291.1 L1076.0,291.1 L1076.5,291.4 L1077.0,291.6 L1077.5,291.6 L1078.0,291.6 L1078.5,291.2 L1079.0,291.1 L1079.5,291.1 L1080.0,291.3 L1080.5,291.7 L1081.0,291.6 L1081.5,291.8 L1082.0,291.8 L1082.5,292.0 L1083.0,292.0 L1083.5,291.7 L1084.0,291.8 L1084.5,291.6 L1085.0,291.6 L1085.5,291.7 L1086.0,291.9 L1086.5,292.2 L1087.0,292.7 L1087.5,292.8 L1088.0,292.6 L1088.5,292.3 L1089.0,291.9 L1089.5,292.2 L1090.0,292.4 L1090.5,292.9 L1091.0,293.1 L1091.5,292.8 L1092.0,292.7 M1096.0,291.9 L1096.5,292.1 L1097.0,291.9 L1097.5,292.0 L1098.0,292.7 L1098.5,292.4 L1099.0,292.7 L1099.5,292.7 L1100.0,292.6 L1100.5,292.7 L1101.0,293.1 L1101.5,293.3 L1102.0,293.0 L1102.5,293.8 L1103.0,293.8 L1103.5,293.7 L1104.0,294.0 L1104.5,293.8 L1105.0,294.2 L1105.5,294.8 L1106.0,295.3 L1106.5,295.6 L1107.0,296.3 L1107.5,296.8 L1108.0,297.5 L1108.5,298.2 L1109.0,298.7 L1109.5,299.4 L1110.0,300.2 L1110.5,300.9 L1111.0,301.8 L1111.5,301.7 L1112.0,300.5 L1112.5,299.7 L1113.0,298.5 L1113.5,297.9 L1114.0,296.8 L1114.5,296.0 L1115.0,295.1 L1115.5,294.6 L1116.0,295.1 L1116.5,294.9 M1121.0,294.1 L1121.5,294.3 L1122.0,294.6 L1122.5,294.1 L1123.0,294.3 L1123.5,294.3 L1124.0,294.3 L1124.5,294.4 L1125.0,294.4 L1125.5,294.2 L1126.0,294.3 L1126.5,294.7 L1127.0,294.7 L1127.5,295.0 L1128.0,294.9 L1128.5,294.1 L1129.0,294.1 L1129.5,293.9 L1130.0,293.8 L1130.5,294.3 L1131.0,293.8 L1131.5,293.8 L1132.0,293.9 L1132.5,294.3 L1133.0,294.4 L1133.5,294.4 L1134.0,294.5 L1134.5,294.1 L1135.0,294.6 L1135.5,294.8 L1136.0,294.4 L1136.5,294.8 L1137.0,294.7 L1137.5,294.4 L1138.0,294.9 L1138.5,294.7 L1139.0,294.6 L1139.5,294.9 L1140.0,294.6" fill="none" stroke="#000" stroke-width="4" stroke-linejoin="round" shape-rendering="crispEdges"/>
<path id="model-balmer" d="M190.6,240.3 L190.7,239.1 L190.9,232.9 L191.2,226.8 L191.2,225.5 L191.4,218.5 L191.7,209.7 L191.9,200.9 L192.2,170.1 L192.3,151.6 L192.4,147.6 L192.7,137.8 L192.7,135.8 L192.9,133.1 L193.2,129.8 L193.4,126.7 L193.7,131.1 L193.9,135.8 L194.2,143.7 L194.4,151.6 L194.7,176.4 L194.9,201.3 L195.2,226.4 L195.3,241.6 L195.4,244.9 L195.7,253.3 L195.9,261.4 L196.0,264.5 L196.2,259.8 L196.4,251.6 L196.7,243.2 L196.7,241.6 L196.9,221.4 L197.1,201.3 L197.2,195.1 L197.4,164.1 L197.5,151.7 L197.7,147.0 L197.9,139.2 L198.2,131.4 L198.2,129.9 L198.4,127.4 L198.7,124.2 L198.9,121.1 L199.2,118.0 L199.3,116.1 L199.4,115.6 L199.7,114.5 L199.9,113.3 L200.2,112.2 L200.4,111.0 L200.7,109.9 L200.8,108.9 L200.9,109.9 L201.2,111.8 L201.4,113.6 L201.6,115.1 L201.7,116.6 L201.9,124.0 L202.1,129.9 L202.2,132.7 L202.4,146.4 L202.5,151.9 L202.7,176.8 L202.8,201.7 L202.9,215.0 L203.1,241.8 L203.2,243.8 L203.4,253.4 L203.7,262.7 L203.7,264.5 L203.9,258.2 L204.2,249.9 L204.4,241.6 L204.7,221.3 L204.9,201.2 L205.2,176.4 L205.4,151.6 L205.7,140.1 L205.9,128.6 L206.0,124.0 L206.2,121.4 L206.4,117.3 L206.7,113.1 L206.9,108.9 L207.0,107.2 L207.2,106.4 L207.4,105.0 L207.7,103.6 L207.9,102.2 L208.2,100.8 L208.4,99.4 L208.5,99.6 L208.7,100.4 L208.9,100.0 L209.2,99.1 L209.3,99.8 L209.4,100.7 L209.7,103.0 L209.9,106.3 L210.2,116.3 L210.2,118.3 L210.4,126.0 L210.4,127.9 L210.7,120.9 L210.7,119.1 L210.9,111.8 L211.0,108.1 L211.2,107.1 L211.4,108.6 L211.7,110.2 L211.9,111.7 L212.2,113.2 L212.3,114.1 L212.4,115.3 L212.7,118.3 L212.9,121.4 L213.2,124.4 L213.4,127.5 L213.6,129.9 L213.7,131.2 L213.9,138.1 L214.2,144.9 L214.4,151.8 L214.7,182.9 L214.8,201.6 L214.9,221.5 L215.0,241.4 L215.2,247.7 L215.4,258.2 L215.6,266.5 L215.7,264.4 L215.9,253.8 L216.2,243.2 L216.2,241.1 L216.4,227.6 L216.7,211.0 L216.8,201.0 L216.9,193.9 L217.2,176.3 L217.4,158.6 L217.5,151.6 L217.7,146.8 L217.9,138.8 L218.2,130.7 L218.3,125.9 L218.4,124.7 L218.7,121.7 L218.9,118.6 L219.2,115.6 L219.4,112.6 L219.7,109.5 L219.8,107.7 L219.9,107.2 L220.2,105.9 L220.4,104.7 L220.7,103.4 L220.9,102.1 L221.2,100.9 L221.3,100.2 L221.4,100.2 L221.7,100.4 L221.9,100.4 L222.2,99.6 L222.4,98.3 L222.7,97.3 L222.9,97.6 L223.2,98.5 L223.3,99.0 L223.4,99.3 L223.7,99.3 L223.9,98.8 L224.2,98.4 L224.4,98.5 L224.7,98.8 L224.9,98.7 L225.2,98.6 L225.4,99.0 L225.5,99.4 L225.7,100.3 L225.9,101.6 L226.2,102.0 L226.4,101.3 L226.7,100.8 L226.9,101.2 L227.2,102.5 L227.4,103.8 L227.7,104.5 L227.8,104.3 L227.9,104.7 L228.2,105.7 L228.4,106.8 L228.7,107.8 L228.9,108.8 L229.2,109.9 L229.4,110.9 L229.7,112.0 L229.8,112.6 L229.9,113.4 L230.2,115.4 L230.4,117.3 L230.7,119.3 L230.9,121.2 L231.2,123.2 L231.4,125.1 L231.5,125.9 L231.7,127.7 L231.9,130.7 L232.2,133.6 L232.4,136.6 L232.7,139.5 L232.9,142.5 L233.0,143.7 L233.2,149.0 L233.4,157.9 L233.5,161.5 L233.7,170.9 L233.9,186.5 L234.2,206.7 L234.4,227.0 L234.7,242.4 L234.9,257.6 L235.0,263.5 L235.2,255.8 L235.4,242.7 L235.7,229.4 L235.7,226.8 L235.9,215.1 L236.2,200.5 L236.4,186.2 L236.7,175.8 L236.9,165.4 L237.0,161.2 L237.2,157.4 L237.4,151.0" fill="none" stroke="#FF0000" stroke-width="1.2" shape-rendering="crispEdges"/>
<path id="model" d="M236.9,165.4 L237.0,161.2 L237.2,157.4 L237.4,151.0 L237.7,144.6 L237.7,143.3 L237.9,140.2 L238.2,136.3 L238.4,132.4 L238.7,128.6 L238.9,124.7 L239.0,123.1 L239.2,121.9 L239.4,119.8 L239.7,117.7 L239.9,115.6 L240.1,113.9 L240.2,113.8 L240.4,113.3 L240.7,112.8 L240.9,112.3 L241.2,111.8 L241.4,111.3 L241.6,110.4 L241.7,110.4 L241.9,110.7 L242.2,110.8 L242.4,110.6 L242.7,110.6 L242.9,111.3 L243.2,112.3 L243.4,112.7 L243.7,112.1 L243.9,111.2 L244.2,111.1 L244.4,112.2 L244.7,114.0 L244.9,115.4 L245.0,115.6 L245.2,115.8 L245.4,115.6 L245.7,115.3 L245.9,114.8 L246.2,113.8 L246.4,112.5 L246.7,111.7 L246.9,112.0 L247.2,113.1 L247.4,114.1 L247.7,114.3 L247.9,113.8 L248.2,113.6 L248.4,113.9 L248.7,114.3 L248.9,114.3 L249.2,113.9 L249.4,113.7 L249.5,113.7 L249.7,113.8 L249.9,114.1 L250.2,114.1 L250.4,113.7 L250.7,113.4 L250.9,113.6 L251.2,114.2 L251.4,114.9 L251.7,115.3 L251.9,115.4 L252.2,115.5 L252.4,116.0 L252.7,116.9 L252.9,117.7 L253.2,118.4 L253.4,119.1 L253.7,119.8 L253.9,120.2 L254.2,119.9 L254.4,118.9 L254.7,117.8 L254.9,117.2 L255.0,117.4 L255.2,117.8 L255.4,118.1 L255.7,118.6 L255.9,119.3 L256.1,120.0 L256.4,120.6 L256.6,120.9 L256.9,120.9 L257.1,120.7 L257.4,120.6 L257.6,120.6 L257.9,120.8 L258.1,121.1 L258.4,121.5 L258.6,122.2 L258.9,122.9 L259.1,123.6 L259.4,124.2 L259.6,124.4 L259.9,124.4 L260.0,124.4 L260.1,124.4 L260.4,124.6 L260.6,124.9 L260.9,125.4 L261.1,126.2 L261.4,127.1 L261.6,128.0 L261.9,128.8 L262.1,129.3 L262.4,129.5 L262.5,129.5 L262.6,129.8 L262.9,130.2 L263.1,130.8 L263.4,131.5 L263.6,132.3 L263.9,133.2 L264.1,134.0 L264.4,134.9 L264.5,135.2 L264.6,136.1 L264.9,137.5 L265.1,138.9 L265.4,140.3 L265.6,141.7 L265.9,143.1 L266.0,143.7 L266.1,144.9 L266.4,147.0 L266.6,149.1 L266.9,151.2 L267.1,153.3 L267.3,154.6 L267.4,155.8 L267.6,158.7 L267.9,161.6 L268.1,164.5 L268.4,167.4 L268.5,168.5 L268.6,171.5 L268.9,176.5 L269.1,181.5 L269.4,186.7 L269.6,190.9 L269.6,194.9 L269.9,215.3 L270.1,231.7 L270.1,234.5 L270.4,248.3 L270.6,261.8 L270.7,264.5 L270.9,253.8 L271.1,240.0 L271.3,231.7 L271.4,223.5 L271.6,203.1 L271.8,190.9 L271.9,185.3 L272.1,171.4 L272.2,168.6 L272.4,162.1 L272.6,155.6 L272.6,155.0 L272.9,151.8 L273.1,148.6 L273.3,146.6 L273.4,146.2 L273.6,144.9 L273.9,143.7 L274.1,142.4 L274.4,141.2 L274.6,140.2 L274.6,140.1 L274.9,139.6 L275.1,139.2 L275.4,138.7 L275.6,138.3 L275.9,137.8 L276.1,137.3 L276.4,136.9 L276.5,136.7 L276.6,136.3 L276.9,136.4 L277.1,136.2 L277.4,136.1 L277.6,136.5 L277.9,137.1 L278.1,137.3 L278.4,136.9 L278.6,136.3 L278.9,136.3 L279.0,136.3 L279.1,137.0 L279.4,138.4 L279.6,139.0 L279.9,138.5 L280.1,137.7 L280.4,137.1 L280.6,136.9 L280.9,136.5 L281.0,136.4 L281.1,136.4 L281.4,136.6 L281.6,137.8 L281.9,139.4 L282.1,140.6 L282.4,140.7 L282.6,139.8 L282.9,138.7 L283.1,138.1 L283.4,138.0 L283.6,137.9 L283.9,137.7 L284.1,137.6 L284.4,138.0 L284.6,138.4 L284.9,138.5 L285.1,138.2 L285.4,138.1 L285.6,138.7 L285.9,139.8 L286.1,140.7 L286.4,140.6 L286.6,139.9 L286.9,139.1 L287.1,138.7 L287.4,138.8 L287.6,138.7 L287.9,138.6 L288.1,138.7 L288.4,139.4 L288.6,140.2 L288.9,140.4 L289.1,139.9 L289.4,139.1 L289.6,138.9 L289.9,139.4 L290.0,139.7 L290.1,140.1 L290.4,140.5 L290.6,140.6 L290.9,140.6 L291.1,140.8 L291.4,141.0 L291.6,140.8 L291.9,140.4 L292.1,140.3 L292.4,140.9 L292.6,141.8 L292.9,142.4 L293.1,142.3 L293.4,142.0 L293.6,141.9 L293.9,142.3 L294.1,143.2 L294.4,143.9 L294.6,144.4 L294.9,144.9 L295.1,145.5 L295.4,145.6 L295.6,145.0 L295.9,144.0 L296.1,143.1 L296.4,143.0 L296.6,143.7 L296.9,144.5 L297.1,145.0 L297.4,145.3 L297.6,145.6 L297.9,146.0 L298.1,146.1 L298.4,145.7 L298.6,145.1 L298.9,144.9 L299.1,145.5 L299.4,146.3 L299.6,146.8 L299.9,146.9 L300.1,146.9 L300.4,147.4 L300.5,147.8 L300.6,148.4 L300.9,149.2 L301.1,149.4 L301.4,149.2 L301.6,148.9 L301.9,148.6 L302.1,148.3 L302.4,147.7 L302.6,147.0 L302.9,146.8 L303.1,147.3 L303.4,148.1 L303.6,148.8 L303.9,149.1 L304.1,149.4 L304.4,150.0 L304.6,150.7 L304.9,151.2 L305.1,151.2 L305.4,151.0 L305.6,150.8 L305.9,150.8 L306.1,150.8 L306.4,150.4 L306.6,149.9 L306.9,149.5 L307.1,149.8 L307.4,150.6 L307.6,151.4 L307.9,152.1 L308.1,152.5 L308.4,152.9 L308.6,153.1 L308.9,152.9 L309.1,152.3 L309.4,151.8 L309.6,151.7 L309.9,152.2 L310.1,152.8 L310.4,153.0 L310.6,152.8 L310.9,152.5 L311.1,152.6 L311.4,153.0 L311.6,153.6 L311.9,154.2 L312.1,154.8 L312.4,155.8 L312.6,156.7 L312.9,157.2 L313.1,157.0 L313.4,156.3 L313.6,155.7 L313.9,155.6 L314.1,155.9 L314.4,156.0 L314.6,155.8 L314.9,155.6 L315.0,155.6 L315.1,155.6 L315.4,155.7 L315.6,155.8 L315.9,155.7 L316.1,155.7 L316.4,156.1 L316.6,156.9 L316.9,157.4 L317.1,157.3 L317.4,156.7 L317.6,156.4 L317.9,156.6 L318.1,157.2 L318.4,157.7 L318.6,157.9 L318.9,158.1 L319.1,158.7 L319.4,159.3 L319.6,159.6 L319.9,159.5 L320.1,159.2 L320.4,159.2 L320.6,159.6 L320.9,160.0 L321.1,159.9 L321.4,159.5 L321.6,159.1 L321.9,159.1 L322.1,159.4 L322.4,159.6 L322.6,159.6 L322.9,159.8 L323.1,160.3 L323.4,160.9 L323.6,161.0 L323.9,160.7 L324.1,160.2 L324.4,160.1 L324.6,160.6 L324.9,161.3 L325.1,161.7 L325.4,161.7 L325.6,161.8 L325.9,162.1 L326.1,162.6 L326.4,163.0 L326.6,163.2 L326.9,163.4 L327.1,163.9 L327.4,164.4 L327.6,164.4 L327.9,163.9 L328.1,163.1 L328.4,162.7 L328.6,162.8 L328.9,163.2 L329.1,163.5 L329.4,163.6 L329.6,163.8 L329.9,164.2 L330.0,164.4 L330.1,164.6 L330.4,164.5 L330.6,164.1 L330.9,163.8 L331.1,164.1 L331.4,164.8 L331.6,165.5 L331.9,165.7 L332.1,165.7 L332.4,165.8 L332.6,166.2 L332.9,166.9 L333.1,167.5 L333.4,168.1 L333.6,168.8 L333.9,169.7 L334.1,170.3 L334.4,170.2 L334.6,169.3 L334.9,168.2 L335.1,167.6 L335.4,167.6 L335.6,167.9 L335.9,168.1 L336.1,168.2 L336.4,168.5 L336.6,169.1 L336.9,169.6 L337.1,169.8 L337.4,169.7 L337.5,170.0 L337.6,170.4 L337.9,170.5 L338.1,170.5 L338.4,170.5 L338.6,170.5 L338.9,170.7 L339.1,170.9 L339.4,171.2 L339.6,171.5 L339.9,171.9 L340.1,172.2 L340.4,172.6 L340.6,172.9 L340.9,173.3 L341.0,173.4 L341.1,173.9 L341.4,174.8 L341.6,175.7 L341.9,176.6 L342.1,177.4 L342.4,178.3 L342.6,179.2 L342.9,180.0 L343.0,180.4 L343.1,181.4 L343.4,183.1 L343.6,184.9 L343.9,186.6 L344.1,188.3 L344.3,189.3 L344.4,190.9 L344.6,194.9 L344.9,198.9 L345.1,202.9 L345.3,205.4 L345.4,209.7 L345.6,220.5 L345.9,231.5 L346.0,235.9 L346.1,241.8 L346.4,251.7 L346.6,261.3 L346.8,267.0 L346.9,263.2 L347.1,253.6 L347.4,243.8 L347.6,235.9 L347.6,234.0 L347.9,224.3 L348.1,214.8 L348.4,205.3 L348.6,201.4 L348.9,197.5 L349.1,193.7 L349.3,191.3 L349.4,190.7 L349.6,189.2 L349.9,187.6 L350.1,186.0 L350.4,184.5 L350.5,183.9 L350.6,183.6 L350.9,183.2 L351.1,182.7 L351.4,182.3 L351.6,181.9 L351.9,181.4 L352.1,181.0 L352.4,180.6 L352.5,180.4 L352.6,179.7 L352.9,180.1 L353.1,180.4 L353.4,180.3 L353.6,180.1 L353.9,180.0 L354.1,180.0 L354.4,179.7 L354.6,179.2 L354.9,178.7 L355.1,178.8 L355.4,179.3 L355.5,179.7 L355.6,180.1 L355.9,180.1 L356.1,179.6 L356.4,179.0 L356.6,179.0 L356.9,179.3 L357.1,179.5 L357.4,179.6 L357.6,179.8 L357.9,180.4 L358.1,181.2 L358.4,181.7 L358.6,181.6 L358.9,181.1 L359.1,181.0 L359.4,181.3 L359.6,181.6 L359.9,181.6 L360.1,181.1 L360.4,180.7 L360.6,180.6 L360.9,180.6 L361.1,180.5 L361.4,180.3 L361.6,180.3 L361.9,181.0 L362.1,182.1 L362.4,182.8 L362.6,182.9 L362.9,182.4 L363.1,181.9 L363.4,181.9 L363.6,182.1 L363.9,182.0 L364.1,181.8 L364.4,181.8 L364.6,182.0 L364.9,182.2 L365.1,182.0 L365.4,181.4 L365.6,181.0 L365.9,181.3 L366.1,182.1 L366.4,182.8 L366.6,182.8 L366.9,182.4 L367.1,182.1 L367.4,182.1 L367.5,182.2 L367.6,182.3 L367.9,182.4 L368.1,182.5 L368.4,182.8 L368.6,183.7 L368.9,184.6 L369.1,185.1 L369.4,185.2 L369.6,185.0 L369.9,185.2 L370.1,185.7 L370.4,186.0 L370.6,185.8 L370.9,185.3 L371.1,184.8 L371.4,184.6 L371.6,184.4 L371.9,184.1 L372.1,183.7 L372.4,183.8 L372.6,184.5 L372.9,185.5 L373.1,186.2 L373.4,186.5 L373.6,186.4 L373.9,186.4 L374.1,186.6 L374.4,186.6 L374.6,186.4 L374.9,186.0 L375.1,185.8 L375.4,186.0 L375.6,186.1 L375.9,185.8 L376.1,185.3 L376.4,185.0 L376.6,185.3 L376.9,185.9 L377.1,186.5 L377.4,186.5 L377.6,186.3 L377.9,186.2 L378.1,186.3 L378.4,186.5 L378.6,186.4 L378.9,186.5 L379.1,187.0 L379.4,187.9 L379.6,188.8 L379.9,189.1 L380.1,188.6 L380.4,188.0 L380.6,187.6 L380.9,187.7 L381.1,187.8 L381.4,187.9 L381.6,187.8 L381.9,188.0 L382.1,188.2 L382.4,188.3 L382.5,188.2 L382.6,188.0 L382.9,187.8 L383.1,187.8 L383.4,188.3 L383.6,188.9 L383.9,189.2 L384.1,189.1 L384.4,188.9 L384.6,188.9 L384.9,189.1 L385.1,189.2 L385.4,189.3 L385.6,189.4 L385.9,189.7 L386.1,190.2 L386.4,190.5 L386.6,190.3 L386.9,190.0 L387.1,189.8 L387.4,190.1 L387.6,190.6 L387.9,191.0 L388.1,191.1 L388.4,191.1 L388.6,191.2 L388.9,191.3 L389.1,191.4 L389.4,191.2 L389.6,191.2 L389.9,191.5 L390.1,192.0 L390.4,192.6 L390.6,192.8 L390.9,192.7 L391.1,192.8 L391.4,193.3 L391.6,194.2 L391.9,195.0 L392.1,195.6 L392.4,196.0 L392.6,196.2 L392.9,196.2 L393.0,196.1 L393.1,195.8 L393.4,195.0 L393.6,194.2 L393.9,193.9 L394.1,194.1 L394.4,194.5 L394.6,194.7 L394.9,194.8 L395.1,195.0 L395.4,195.5 L395.6,196.1 L395.9,196.4 L396.1,196.4 L396.4,196.2 L396.6,196.1 L396.9,196.1 L397.1,196.1 L397.4,195.8 L397.6,195.4 L397.9,195.3 L398.1,195.5 L398.4,196.0 L398.6,196.2 L398.9,196.3 L399.1,196.4 L399.4,196.6 L399.6,196.8 L399.9,196.8 L400.0,196.7 L400.1,196.5" fill="none" stroke="#FF0000" stroke-width="1.9" shape-rendering="crispEdges"/>
<path id="model-red" d="M400.0,196.7 L400.1,196.5 L400.4,196.3 L400.6,196.6 L400.9,197.2 L401.1,197.6 L401.4,197.7 L401.6,197.4 L401.9,197.1 L402.1,197.1 L402.4,197.4 L402.6,197.5 L402.9,197.5 L403.1,197.6 L403.4,198.0 L403.6,198.3 L403.9,198.4 L404.1,198.0 L404.4,197.6 L404.6,197.6 L404.9,198.1 L405.1,198.6 L405.4,198.8 L405.6,198.7 L405.9,198.6 L406.1,198.7 L406.4,198.7 L406.6,198.7 L406.9,198.5 L407.1,198.5 L407.4,198.9 L407.6,199.5 L407.9,199.7 L408.1,199.5 L408.4,199.1 L408.6,198.9 L408.9,199.2 L409.1,199.5 L409.4,199.7 L409.6,199.7 L409.9,199.8 L410.1,200.1 L410.4,200.3 L410.6,200.1 L410.9,199.7 L411.1,199.6 L411.4,199.8 L411.6,200.4 L411.9,200.8 L412.1,200.8 L412.4,200.6 L412.6,200.5 L412.9,200.5 L413.1,200.7 L413.4,200.6 L413.6,200.6 L413.9,200.8 L414.1,201.3 L414.4,201.7 L414.6,201.6 L414.9,201.3 L415.1,200.9 L415.4,200.9 L415.6,201.3 L415.9,201.7 L416.1,201.9 L416.4,201.9 L416.6,201.9 L416.9,202.1 L417.1,202.1 L417.4,201.9 L417.6,201.7 L417.9,201.7 L418.1,202.2 L418.4,202.7 L418.6,203.0 L418.9,202.8 L419.1,202.4 L419.4,202.3 L419.6,202.5 L419.9,202.7 L420.1,202.8 L420.4,202.8 L420.6,203.1 L420.9,203.4 L421.1,203.6 L421.4,203.4 L421.6,203.0 L421.9,202.8 L422.1,203.1 L422.4,203.6 L422.6,204.0 L422.9,204.0 L423.1,203.9 L423.4,203.8 L423.6,203.9 L423.9,204.0 L424.1,203.8 L424.4,203.8 L424.6,204.0 L424.9,204.5 L425.1,204.9 L425.4,204.9 L425.6,204.5 L425.9,204.2 L426.1,204.3 L426.4,204.6 L426.6,204.9 L426.9,205.0 L427.1,205.0 L427.4,205.2 L427.6,205.4 L427.9,205.4 L428.1,205.2 L428.4,204.9 L428.6,204.9 L428.9,205.4 L429.1,205.9 L429.4,206.2 L429.6,206.0 L429.9,205.7 L430.1,205.7 L430.4,205.8 L430.6,205.9 L430.9,205.9 L431.1,206.0 L431.4,206.3 L431.6,206.7 L431.9,206.9 L432.1,206.7 L432.4,206.3 L432.6,206.1 L432.9,206.4 L433.1,206.8 L433.4,207.1 L433.6,207.2 L433.9,207.1 L434.1,207.2 L434.4,207.3 L434.5,207.3 L434.6,207.3 L434.9,207.1 L435.1,207.0 L435.4,207.2 L435.6,207.8 L435.9,208.2 L436.1,208.2 L436.4,207.9 L436.6,207.6 L436.9,207.7 L437.1,208.0 L437.4,208.1 L437.6,208.2 L437.9,208.3 L438.1,208.6 L438.4,208.9 L438.6,208.9 L438.9,208.6 L439.1,208.3 L439.4,208.3 L439.6,208.8 L439.9,209.3 L440.1,209.5 L440.4,209.4 L440.6,209.2 L440.9,209.3 L441.1,209.4 L441.4,209.4 L441.6,209.3 L441.9,209.4 L442.1,209.8 L442.4,210.2 L442.6,210.4 L442.9,210.2 L443.1,209.8 L443.4,209.7 L443.6,210.0 L443.9,210.3 L444.1,210.5 L444.4,210.6 L444.6,210.7 L444.9,210.9 L445.1,211.0 L445.4,210.9 L445.6,210.6 L445.9,210.5 L446.1,210.8 L446.4,211.3 L446.6,211.7 L446.9,211.7 L447.1,211.4 L447.4,211.3 L447.6,211.4 L447.9,211.5 L448.1,211.6 L448.4,211.6 L448.6,211.8 L448.9,212.2 L449.1,212.5 L449.4,212.5 L449.6,212.1 L449.9,211.9 L450.1,211.9 L450.4,212.4 L450.6,212.8 L450.9,212.9 L451.1,212.9 L451.4,212.9 L451.6,213.0 L451.9,213.0 L452.1,212.9 L452.4,212.8 L452.5,212.7 L452.6,212.8 L452.9,213.3 L453.1,213.8 L453.4,214.0 L453.6,213.7 L453.9,213.3 L454.1,213.2 L454.4,213.4 L454.6,213.7 L454.9,213.8 L455.1,213.9 L455.4,214.0 L455.6,214.3 L455.9,214.4 L456.1,214.2 L456.4,213.9 L456.6,213.7 L456.9,214.0 L457.1,214.6 L457.4,214.9 L457.6,214.9 L457.9,214.7 L458.1,214.6 L458.4,214.7 L458.6,214.7 L458.9,214.7 L459.1,214.6 L459.4,214.9 L459.6,215.3 L459.9,215.7 L460.1,215.6 L460.4,215.2 L460.6,214.9 L460.9,215.0 L461.1,215.3 L461.4,215.7 L461.6,215.8 L461.9,215.8 L462.1,215.9 L462.4,216.0 L462.6,216.0 L462.9,215.8 L463.1,215.5 L463.4,215.6 L463.6,216.1 L463.9,216.6 L464.1,216.8 L464.4,216.5 L464.6,216.3 L464.9,216.2 L465.1,216.4 L465.4,216.5 L465.6,216.5 L465.9,216.6 L466.1,216.9 L466.4,217.2 L466.6,217.4 L466.9,217.1 L467.1,216.7 L467.4,216.6 L467.6,216.9 L467.9,217.4 L468.1,217.7 L468.4,217.6 L468.6,217.5 L468.9,217.6 L469.1,217.6 L469.4,217.6 L469.6,217.4 L469.9,217.4 L470.1,217.7 L470.4,218.2 L470.6,218.5 L470.9,218.4 L471.1,218.1 L471.4,217.8 L471.6,217.9 L471.9,218.2 L472.1,218.4 L472.4,218.5 L472.6,218.6 L472.9,218.8 L473.1,219.0 L473.4,218.9 L473.6,218.6 L473.9,218.4 L474.1,218.5 L474.4,218.9 L474.6,219.4 L474.9,219.5 L475.0,219.5 L475.1,219.4 L475.4,219.2 L475.6,219.2 L475.9,219.3 L476.1,219.4 L476.4,219.3 L476.6,219.4 L476.9,219.8 L477.1,220.2 L477.4,220.3 L477.6,220.0 L477.9,219.7 L478.1,219.6 L478.4,219.8 L478.6,220.2 L478.9,220.5 L479.1,220.5 L479.4,220.5 L479.6,220.6 L479.9,220.7 L480.1,220.6 L480.4,220.4 L480.6,220.3 L480.9,220.6 L481.1,221.1 L481.4,221.5 L481.6,221.4 L481.9,221.1 L482.1,220.9 L482.4,221.0 L482.6,221.2 L482.9,221.3 L483.1,221.4 L483.4,221.5 L483.6,221.8 L483.9,222.1 L484.1,222.0 L484.4,221.7 L484.6,221.4 L484.9,221.5 L485.1,222.0 L485.4,222.4 L485.6,222.5 L485.9,222.4 L486.1,222.3 L486.4,222.4 L486.6,222.4 L486.9,222.4 L487.1,222.3 L487.4,222.4 L487.6,222.8 L487.9,223.2 L488.1,223.3 L488.4,223.1 L488.6,222.8 L488.9,222.7 L489.1,222.9 L489.4,223.2 L489.6,223.4 L489.9,223.4 L490.1,223.5 L490.4,223.7 L490.6,223.8 L490.9,223.7 L491.1,223.4 L491.4,223.3 L491.5,223.4 L491.6,223.7 L491.9,224.2 L492.1,224.5 L492.4,224.4 L492.6,224.3 L492.9,224.2 L493.1,224.3 L493.4,224.5 L493.6,224.5 L493.9,224.5 L494.1,224.8 L494.4,225.1 L494.6,225.4 L494.9,225.4 L495.1,225.1 L495.4,224.9 L495.6,225.0 L495.9,225.4 L496.1,225.7 L496.4,225.8 L496.6,225.8 L496.9,225.9 L497.1,226.0 L497.4,226.1 L497.6,226.0 L497.9,225.8 L498.1,226.0 L498.4,226.4 L498.6,226.9 L498.9,227.0 L499.0,227.0 L499.1,226.8 L499.4,226.5 L499.6,226.4 L499.9,226.6 L500.1,226.8 L500.4,226.9 L500.6,226.9 L500.9,227.1 L501.1,227.4 L501.4,227.5 L501.6,227.3 L501.9,226.9 L502.1,226.8 L502.4,227.1 L502.6,227.6 L502.9,227.9 L503.1,227.8 L503.4,227.6 L503.6,227.6 L503.9,227.7 L504.1,227.7 L504.4,227.6 L504.6,227.6 L504.9,227.8 L505.1,228.3 L505.4,228.5 L505.6,228.4 L505.9,228.0 L506.1,227.8 L506.4,227.9 L506.6,228.2 L506.9,228.5 L507.1,228.5 L507.4,228.6 L507.6,228.7 L507.9,228.8 L508.1,228.8 L508.4,228.5 L508.6,228.3 L508.9,228.4 L509.1,228.9 L509.4,229.3 L509.6,229.4 L509.9,229.2 L510.1,229.0 L510.4,229.0 L510.6,229.1 L510.9,229.2 L511.1,229.2 L511.4,229.2 L511.6,229.5 L511.9,229.9 L512.1,230.0 L512.4,229.7 L512.6,229.3 L512.9,229.2 L513.1,229.5 L513.4,229.9 L513.6,230.2 L513.9,230.1 L514.1,230.1 L514.4,230.1 L514.6,230.2 L514.9,230.1 L515.1,229.9 L515.4,229.9 L515.6,230.2 L515.9,230.7 L516.1,230.9 L516.4,230.8 L516.6,230.5 L516.9,230.3 L517.1,230.4 L517.4,230.6 L517.6,230.8 L517.9,230.8 L518.1,230.9 L518.4,231.1 L518.6,231.3 L518.9,231.2 L519.1,230.9 L519.4,230.7 L519.6,230.8 L519.9,231.3 L520.0,231.5 L520.1,231.7 L520.4,231.7 L520.6,231.6 L520.9,231.4 L521.1,231.5 L521.4,231.5 L521.6,231.5 L521.9,231.4 L522.1,231.5 L522.4,231.9 L522.6,232.3 L522.9,232.4 L523.1,232.1 L523.4,231.7 L523.6,231.7 L523.9,231.9 L524.1,232.3 L524.4,232.4 L524.6,232.4 L524.9,232.4 L525.1,232.6 L525.4,232.6 L525.6,232.5 L525.9,232.2 L526.1,232.2 L526.4,232.5 L526.6,233.0 L526.9,233.2 L527.1,233.1 L527.4,232.8 L527.6,232.7 L527.9,232.8 L528.1,233.0 L528.4,233.0 L528.6,233.0 L528.9,233.2 L529.1,233.5 L529.4,233.7 L529.6,233.6 L529.9,233.2 L530.1,233.0 L530.4,233.2 L530.6,233.6 L530.9,233.9 L531.1,234.0 L531.4,233.9 L531.6,233.8 L531.9,233.9 L532.1,233.9 L532.4,233.8 L532.6,233.7 L532.9,233.8 L533.1,234.2 L533.4,234.6 L533.6,234.7 L533.9,234.4 L534.1,234.1 L534.4,234.1 L534.6,234.3 L534.9,234.5 L535.1,234.6 L535.4,234.6 L535.6,234.8 L535.9,235.0 L536.1,235.0 L536.4,234.8 L536.6,234.5 L536.9,234.5 L537.1,234.8 L537.4,235.3 L537.6,235.5 L537.9,235.4 L538.1,235.2 L538.4,235.1 L538.6,235.2 L538.9,235.3 L539.1,235.2 L539.4,235.3 L539.6,235.5 L539.9,235.9 L540.1,236.1 L540.4,235.9 L540.6,235.6 L540.9,235.4 L541.1,235.5 L541.4,235.9 L541.6,236.1 L541.9,236.2 L542.1,236.2 L542.4,236.2 L542.6,236.3 L542.9,236.3 L543.1,236.1 L543.4,235.9 L543.6,236.1 L543.9,236.5 L544.1,236.9 L544.4,237.0 L544.6,236.7 L544.9,236.5 L545.1,236.5 L545.4,236.6 L545.6,236.8 L545.9,236.8 L546.1,236.9 L546.4,237.1 L546.6,237.4 L546.9,237.4 L547.1,237.2 L547.4,236.8 L547.6,236.8 L547.9,237.1 L548.1,237.5 L548.4,237.7 L548.6,237.7 L548.9,237.6 L549.1,237.6 L549.4,237.6 L549.6,237.6 L549.9,237.5 L550.0,237.5 L550.1,237.5 L550.4,237.8 L550.6,238.2 L550.9,238.4 L551.1,238.3 L551.4,238.0 L551.6,237.8 L551.9,237.9 L552.1,238.2 L552.4,238.4 L552.6,238.4 L552.9,238.5 L553.1,238.6 L553.4,238.8 L553.6,238.7 L553.9,238.4 L554.1,238.3 L554.4,238.4 L554.6,238.9 L554.9,239.2 L555.1,239.3 L555.4,239.1 L555.6,238.9 L555.9,239.0 L556.1,239.1 L556.4,239.1 L556.6,239.1 L556.9,239.2 L557.1,239.5 L557.4,239.8 L557.6,239.8 L557.9,239.6 L558.0,239.4 L558.1,239.3 L558.4,239.2 L558.6,239.5 L558.9,239.9 L559.1,240.0 L559.4,240.0 L559.6,240.0 L559.9,240.1 L560.1,240.1 L560.4,240.0 L560.6,239.8 L560.9,239.8 L561.1,240.2 L561.4,240.6 L561.6,240.8 L561.9,240.7 L562.1,240.4 L562.4,240.3 L562.6,240.4 L562.9,240.6 L563.1,240.7 L563.4,240.7 L563.6,240.8 L563.9,241.1 L564.1,241.2 L564.4,241.1 L564.6,240.8 L564.9,240.7 L565.1,240.8 L565.4,241.2 L565.6,241.5 L565.9,241.6 L566.1,241.5 L566.4,241.4 L566.6,241.5 L566.9,241.5 L567.1,241.4 L567.4,241.4 L567.6,241.5 L567.9,241.9 L568.1,242.2 L568.4,242.2 L568.6,242.0 L568.9,241.7 L569.1,241.7 L569.4,241.9 L569.6,242.2 L569.9,242.3 L570.1,242.3 L570.4,242.4 L570.6,242.6 L570.9,242.6 L571.1,242.4 L571.4,242.2 L571.6,242.2 L571.9,242.5 L572.1,242.9 L572.4,243.1 L572.6,243.0 L572.9,242.8 L573.1,242.7 L573.4,242.8 L573.6,243.0 L573.9,243.0 L574.1,243.0 L574.4,243.2 L574.6,243.5 L574.9,243.7 L575.1,243.5 L575.4,243.2 L575.6,243.1 L575.9,243.2 L576.1,243.6 L576.4,243.8 L576.6,243.9 L576.9,243.8 L577.1,243.9 L577.4,243.9 L577.6,243.9 L577.9,243.8 L578.1,243.7 L578.4,243.9 L578.6,244.3 L578.9,244.6 L579.1,244.6 L579.4,244.3 L579.6,244.1 L579.9,244.1 L580.1,244.3 L580.4,244.5 L580.6,244.6 L580.9,244.6 L581.1,244.8 L581.4,245.0 L581.6,245.0 L581.9,244.8 L582.1,244.6 L582.4,244.6 L582.6,244.9 L582.9,245.3 L583.1,245.5 L583.4,245.4 L583.6,245.2 L583.9,245.2 L584.1,245.3 L584.4,245.3 L584.6,245.3 L584.9,245.3 L585.0,245.4 L585.1,245.6 L585.4,245.9 L585.6,246.1 L585.9,246.0 L586.1,245.8 L586.4,245.7 L586.6,245.9 L586.9,246.2 L587.1,246.4 L587.4,246.5 L587.6,246.6 L587.9,246.7 L588.1,246.8 L588.4,246.8 L588.6,246.7 L588.9,246.6 L589.1,246.8 L589.4,247.2 L589.6,247.5 L589.9,247.6 L590.0,247.5 L590.1,247.5 L590.4,247.6 L590.6,247.8 L590.9,248.1 L591.1,248.3 L591.4,248.5 L591.6,248.8 L591.9,249.0 L592.1,249.3 L592.4,249.5 L592.5,249.5 L592.6,249.9 L592.9,250.4 L593.1,251.0 L593.4,251.5 L593.6,252.1 L593.9,252.6 L594.1,253.2 L594.3,253.5 L594.4,254.0 L594.6,255.3 L594.9,256.5 L595.1,257.8 L595.4,259.0 L595.6,260.0 L595.6,260.5 L595.9,263.0 L596.1,265.6 L596.4,268.2 L596.6,270.4 L596.6,271.0 L596.9,274.1 L597.1,277.2 L597.4,280.2 L597.6,282.5 L597.6,281.9 L597.9,279.0 L598.1,275.9 L598.4,272.8 L598.6,270.4 L598.6,269.8 L598.9,266.8 L599.1,264.0 L599.4,261.2 L599.6,259.0 L599.6,258.8 L599.9,257.8 L600.1,256.7 L600.4,255.7 L600.6,254.7 L600.9,253.6 L601.0,253.2 L601.1,253.0 L601.4,252.7 L601.6,252.4 L601.9,252.1 L602.1,251.7 L602.4,251.4 L602.6,251.1 L602.9,250.8 L603.0,250.8 L603.1,250.9 L603.4,250.5 L603.6,250.2 L603.9,250.1 L604.1,250.3 L604.4,250.5 L604.6,250.4 L604.9,250.3 L605.1,250.3 L605.4,250.3 L605.6,250.2 L605.9,250.0 L606.0,249.8 L606.1,249.7 L606.4,249.7 L606.6,250.0 L606.9,250.4 L607.1,250.5 L607.4,250.3 L607.6,250.1 L607.9,250.0 L608.1,250.1 L608.4,250.2 L608.6,250.2 L608.9,250.2 L609.1,250.3 L609.4,250.5 L609.6,250.6 L609.9,250.4 L610.1,250.1 L610.4,250.0 L610.6,250.1 L610.9,250.5 L611.1,250.7 L611.4,250.7 L611.6,250.5 L611.9,250.5 L612.1,250.5 L612.4,250.5 L612.6,250.4 L612.9,250.3 L613.1,250.4 L613.4,250.7 L613.6,251.0 L613.9,250.9 L614.1,250.7 L614.4,250.4 L614.6,250.4 L614.9,250.6 L615.0,250.7 L615.1,250.8 L615.4,250.9 L615.6,250.9 L615.9,251.0 L616.1,251.1 L616.4,251.1 L616.6,251.0 L616.9,250.8 L617.1,250.8 L617.4,251.1 L617.6,251.5 L617.9,251.6 L618.1,251.5 L618.4,251.3 L618.6,251.3 L618.9,251.4 L619.1,251.4 L619.4,251.4 L619.6,251.5 L619.9,251.7 L620.1,251.9 L620.4,252.1 L620.6,251.9 L620.9,251.6 L621.1,251.5 L621.4,251.7 L621.6,252.0 L621.9,252.2 L622.1,252.2 L622.4,252.2 L622.6,252.2 L622.9,252.3 L623.1,252.2 L623.4,252.1 L623.6,252.0 L623.9,252.2 L624.1,252.6 L624.4,252.8 L624.6,252.8 L624.9,252.6 L625.1,252.4 L625.4,252.5 L625.6,252.6 L625.9,252.7 L626.1,252.8 L626.4,252.8 L626.6,253.0 L626.9,253.2 L627.1,253.2 L627.4,253.0 L627.6,252.8 L627.9,252.8 L628.1,253.1 L628.4,253.4 L628.6,253.5 L628.9,253.4 L629.1,253.4 L629.4,253.4 L629.6,253.4 L629.9,253.4 L630.0,253.4 L630.1,253.3 L630.4,253.4 L630.6,253.6 L630.9,253.9 L631.1,254.0 L631.4,253.9 L631.6,253.6 L631.9,253.5" fill="none" stroke="#FF0000" stroke-width="1.5" shape-rendering="crispEdges"/>
<clipPath id="mk"><rect x="102" y="59" width="2.0" height="280"/><rect x="110" y="59" width="1.0" height="280"/><rect x="114" y="59" width="1.0" height="280"/><rect x="124" y="59" width="1.0" height="280"/><rect x="135" y="59" width="1.0" height="280"/><rect x="158" y="59" width="2.0" height="280"/><rect x="163" y="59" width="1.0" height="280"/><rect x="167" y="59" width="1.0" height="280"/><rect x="171" y="59" width="1.0" height="280"/><rect x="175" y="59" width="2.0" height="280"/><rect x="180" y="59" width="1.0" height="280"/><rect x="184" y="59" width="1.0" height="280"/><rect x="189" y="59" width="1.0" height="280"/><rect x="193" y="59" width="2.0" height="280"/><rect x="198" y="59" width="1.0" height="280"/><rect x="210" y="59" width="1.0" height="280"/><rect x="214" y="59" width="1.0" height="280"/><rect x="226" y="59" width="1.0" height="280"/><rect x="231" y="59" width="1.0" height="280"/><rect x="272" y="59" width="1.0" height="280"/><rect x="434" y="59" width="2.0" height="280"/><rect x="451" y="59" width="2.0" height="280"/><rect x="478" y="59" width="13.0" height="280"/><rect x="497" y="59" width="3.0" height="280"/><rect x="558" y="59" width="1.0" height="280"/><rect x="567" y="59" width="2.0" height="280"/><rect x="617" y="59" width="3.0" height="280"/><rect x="870" y="59" width="2.0" height="280"/><rect x="885" y="59" width="23.0" height="280"/><rect x="924" y="59" width="2.0" height="280"/><rect x="942" y="59" width="3.0" height="280"/><rect x="962" y="59" width="3.0" height="280"/><rect x="982" y="59" width="3.0" height="280"/><rect x="1003" y="59" width="3.0" height="280"/><rect x="1024" y="59" width="3.0" height="280"/><rect x="1046" y="59" width="3.0" height="280"/><rect x="1068" y="59" width="4.0" height="280"/><rect x="1091" y="59" width="5.0" height="280"/><rect x="1115" y="59" width="5.0" height="280"/><rect x="1138" y="59" width="2.0" height="280"/></clipPath>
<path id="model-masked" d="M190.6,240.3 L190.7,239.1 L190.9,232.9 L191.2,226.8 L191.2,225.5 L191.4,218.5 L191.7,209.7 L191.9,200.9 L192.2,170.1 L192.3,151.6 L192.4,147.6 L192.7,137.8 L192.7,135.8 L192.9,133.1 L193.2,129.8 L193.4,126.7 L193.7,131.1 L193.9,135.8 L194.2,143.7 L194.4,151.6 L194.7,176.4 L194.9,201.3 L195.2,226.4 L195.3,241.6 L195.4,244.9 L195.7,253.3 L195.9,261.4 L196.0,264.5 L196.2,259.8 L196.4,251.6 L196.7,243.2 L196.7,241.6 L196.9,221.4 L197.1,201.3 L197.2,195.1 L197.4,164.1 L197.5,151.7 L197.7,147.0 L197.9,139.2 L198.2,131.4 L198.2,129.9 L198.4,127.4 L198.7,124.2 L198.9,121.1 L199.2,118.0 L199.3,116.1 L199.4,115.6 L199.7,114.5 L199.9,113.3 L200.2,112.2 L200.4,111.0 L200.7,109.9 L200.8,108.9 L200.9,109.9 L201.2,111.8 L201.4,113.6 L201.6,115.1 L201.7,116.6 L201.9,124.0 L202.1,129.9 L202.2,132.7 L202.4,146.4 L202.5,151.9 L202.7,176.8 L202.8,201.7 L202.9,215.0 L203.1,241.8 L203.2,243.8 L203.4,253.4 L203.7,262.7 L203.7,264.5 L203.9,258.2 L204.2,249.9 L204.4,241.6 L204.7,221.3 L204.9,201.2 L205.2,176.4 L205.4,151.6 L205.7,140.1 L205.9,128.6 L206.0,124.0 L206.2,121.4 L206.4,117.3 L206.7,113.1 L206.9,108.9 L207.0,107.2 L207.2,106.4 L207.4,105.0 L207.7,103.6 L207.9,102.2 L208.2,100.8 L208.4,99.4 L208.5,99.6 L208.7,100.4 L208.9,100.0 L209.2,99.1 L209.3,99.8 L209.4,100.7 L209.7,103.0 L209.9,106.3 L210.2,116.3 L210.2,118.3 L210.4,126.0 L210.4,127.9 L210.7,120.9 L210.7,119.1 L210.9,111.8 L211.0,108.1 L211.2,107.1 L211.4,108.6 L211.7,110.2 L211.9,111.7 L212.2,113.2 L212.3,114.1 L212.4,115.3 L212.7,118.3 L212.9,121.4 L213.2,124.4 L213.4,127.5 L213.6,129.9 L213.7,131.2 L213.9,138.1 L214.2,144.9 L214.4,151.8 L214.7,182.9 L214.8,201.6 L214.9,221.5 L215.0,241.4 L215.2,247.7 L215.4,258.2 L215.6,266.5 L215.7,264.4 L215.9,253.8 L216.2,243.2 L216.2,241.1 L216.4,227.6 L216.7,211.0 L216.8,201.0 L216.9,193.9 L217.2,176.3 L217.4,158.6 L217.5,151.6 L217.7,146.8 L217.9,138.8 L218.2,130.7 L218.3,125.9 L218.4,124.7 L218.7,121.7 L218.9,118.6 L219.2,115.6 L219.4,112.6 L219.7,109.5 L219.8,107.7 L219.9,107.2 L220.2,105.9 L220.4,104.7 L220.7,103.4 L220.9,102.1 L221.2,100.9 L221.3,100.2 L221.4,100.2 L221.7,100.4 L221.9,100.4 L222.2,99.6 L222.4,98.3 L222.7,97.3 L222.9,97.6 L223.2,98.5 L223.3,99.0 L223.4,99.3 L223.7,99.3 L223.9,98.8 L224.2,98.4 L224.4,98.5 L224.7,98.8 L224.9,98.7 L225.2,98.6 L225.4,99.0 L225.5,99.4 L225.7,100.3 L225.9,101.6 L226.2,102.0 L226.4,101.3 L226.7,100.8 L226.9,101.2 L227.2,102.5 L227.4,103.8 L227.7,104.5 L227.8,104.3 L227.9,104.7 L228.2,105.7 L228.4,106.8 L228.7,107.8 L228.9,108.8 L229.2,109.9 L229.4,110.9 L229.7,112.0 L229.8,112.6 L229.9,113.4 L230.2,115.4 L230.4,117.3 L230.7,119.3 L230.9,121.2 L231.2,123.2 L231.4,125.1 L231.5,125.9 L231.7,127.7 L231.9,130.7 L232.2,133.6 L232.4,136.6 L232.7,139.5 L232.9,142.5 L233.0,143.7 L233.2,149.0 L233.4,157.9 L233.5,161.5 L233.7,170.9 L233.9,186.5 L234.2,206.7 L234.4,227.0 L234.7,242.4 L234.9,257.6 L235.0,263.5 L235.2,255.8 L235.4,242.7 L235.7,229.4 L235.7,226.8 L235.9,215.1 L236.2,200.5 L236.4,186.2 L236.7,175.8 L236.9,165.4 L237.0,161.2 L237.2,157.4 L237.4,151.0 L237.7,144.6 L237.7,143.3 L237.9,140.2 L238.2,136.3 L238.4,132.4 L238.7,128.6 L238.9,124.7 L239.0,123.1 L239.2,121.9 L239.4,119.8 L239.7,117.7 L239.9,115.6 L240.1,113.9 L240.2,113.8 L240.4,113.3 L240.7,112.8 L240.9,112.3 L241.2,111.8 L241.4,111.3 L241.6,110.4 L241.7,110.4 L241.9,110.7 L242.2,110.8 L242.4,110.6 L242.7,110.6 L242.9,111.3 L243.2,112.3 L243.4,112.7 L243.7,112.1 L243.9,111.2 L244.2,111.1 L244.4,112.2 L244.7,114.0 L244.9,115.4 L245.0,115.6 L245.2,115.8 L245.4,115.6 L245.7,115.3 L245.9,114.8 L246.2,113.8 L246.4,112.5 L246.7,111.7 L246.9,112.0 L247.2,113.1 L247.4,114.1 L247.7,114.3 L247.9,113.8 L248.2,113.6 L248.4,113.9 L248.7,114.3 L248.9,114.3 L249.2,113.9 L249.4,113.7 L249.5,113.7 L249.7,113.8 L249.9,114.1 L250.2,114.1 L250.4,113.7 L250.7,113.4 L250.9,113.6 L251.2,114.2 L251.4,114.9 L251.7,115.3 L251.9,115.4 L252.2,115.5 L252.4,116.0 L252.7,116.9 L252.9,117.7 L253.2,118.4 L253.4,119.1 L253.7,119.8 L253.9,120.2 L254.2,119.9 L254.4,118.9 L254.7,117.8 L254.9,117.2 L255.0,117.4 L255.2,117.8 L255.4,118.1 L255.7,118.6 L255.9,119.3 L256.1,120.0 L256.4,120.6 L256.6,120.9 L256.9,120.9 L257.1,120.7 L257.4,120.6 L257.6,120.6 L257.9,120.8 L258.1,121.1 L258.4,121.5 L258.6,122.2 L258.9,122.9 L259.1,123.6 L259.4,124.2 L259.6,124.4 L259.9,124.4 L260.0,124.4 L260.1,124.4 L260.4,124.6 L260.6,124.9 L260.9,125.4 L261.1,126.2 L261.4,127.1 L261.6,128.0 L261.9,128.8 L262.1,129.3 L262.4,129.5 L262.5,129.5 L262.6,129.8 L262.9,130.2 L263.1,130.8 L263.4,131.5 L263.6,132.3 L263.9,133.2 L264.1,134.0 L264.4,134.9 L264.5,135.2 L264.6,136.1 L264.9,137.5 L265.1,138.9 L265.4,140.3 L265.6,141.7 L265.9,143.1 L266.0,143.7 L266.1,144.9 L266.4,147.0 L266.6,149.1 L266.9,151.2 L267.1,153.3 L267.3,154.6 L267.4,155.8 L267.6,158.7 L267.9,161.6 L268.1,164.5 L268.4,167.4 L268.5,168.5 L268.6,171.5 L268.9,176.5 L269.1,181.5 L269.4,186.7 L269.6,190.9 L269.6,194.9 L269.9,215.3 L270.1,231.7 L270.1,234.5 L270.4,248.3 L270.6,261.8 L270.7,264.5 L270.9,253.8 L271.1,240.0 L271.3,231.7 L271.4,223.5 L271.6,203.1 L271.8,190.9 L271.9,185.3 L272.1,171.4 L272.2,168.6 L272.4,162.1 L272.6,155.6 L272.6,155.0 L272.9,151.8 L273.1,148.6 L273.3,146.6 L273.4,146.2 L273.6,144.9 L273.9,143.7 L274.1,142.4 L274.4,141.2 L274.6,140.2 L274.6,140.1 L274.9,139.6 L275.1,139.2 L275.4,138.7 L275.6,138.3 L275.9,137.8 L276.1,137.3 L276.4,136.9 L276.5,136.7 L276.6,136.3 L276.9,136.4 L277.1,136.2 L277.4,136.1 L277.6,136.5 L277.9,137.1 L278.1,137.3 L278.4,136.9 L278.6,136.3 L278.9,136.3 L279.0,136.3 L279.1,137.0 L279.4,138.4 L279.6,139.0 L279.9,138.5 L280.1,137.7 L280.4,137.1 L280.6,136.9 L280.9,136.5 L281.0,136.4 L281.1,136.4 L281.4,136.6 L281.6,137.8 L281.9,139.4 L282.1,140.6 L282.4,140.7 L282.6,139.8 L282.9,138.7 L283.1,138.1 L283.4,138.0 L283.6,137.9 L283.9,137.7 L284.1,137.6 L284.4,138.0 L284.6,138.4 L284.9,138.5 L285.1,138.2 L285.4,138.1 L285.6,138.7 L285.9,139.8 L286.1,140.7 L286.4,140.6 L286.6,139.9 L286.9,139.1 L287.1,138.7 L287.4,138.8 L287.6,138.7 L287.9,138.6 L288.1,138.7 L288.4,139.4 L288.6,140.2 L288.9,140.4 L289.1,139.9 L289.4,139.1 L289.6,138.9 L289.9,139.4 L290.0,139.7 L290.1,140.1 L290.4,140.5 L290.6,140.6 L290.9,140.6 L291.1,140.8 L291.4,141.0 L291.6,140.8 L291.9,140.4 L292.1,140.3 L292.4,140.9 L292.6,141.8 L292.9,142.4 L293.1,142.3 L293.4,142.0 L293.6,141.9 L293.9,142.3 L294.1,143.2 L294.4,143.9 L294.6,144.4 L294.9,144.9 L295.1,145.5 L295.4,145.6 L295.6,145.0 L295.9,144.0 L296.1,143.1 L296.4,143.0 L296.6,143.7 L296.9,144.5 L297.1,145.0 L297.4,145.3 L297.6,145.6 L297.9,146.0 L298.1,146.1 L298.4,145.7 L298.6,145.1 L298.9,144.9 L299.1,145.5 L299.4,146.3 L299.6,146.8 L299.9,146.9 L300.1,146.9 L300.4,147.4 L300.5,147.8 L300.6,148.4 L300.9,149.2 L301.1,149.4 L301.4,149.2 L301.6,148.9 L301.9,148.6 L302.1,148.3 L302.4,147.7 L302.6,147.0 L302.9,146.8 L303.1,147.3 L303.4,148.1 L303.6,148.8 L303.9,149.1 L304.1,149.4 L304.4,150.0 L304.6,150.7 L304.9,151.2 L305.1,151.2 L305.4,151.0 L305.6,150.8 L305.9,150.8 L306.1,150.8 L306.4,150.4 L306.6,149.9 L306.9,149.5 L307.1,149.8 L307.4,150.6 L307.6,151.4 L307.9,152.1 L308.1,152.5 L308.4,152.9 L308.6,153.1 L308.9,152.9 L309.1,152.3 L309.4,151.8 L309.6,151.7 L309.9,152.2 L310.1,152.8 L310.4,153.0 L310.6,152.8 L310.9,152.5 L311.1,152.6 L311.4,153.0 L311.6,153.6 L311.9,154.2 L312.1,154.8 L312.4,155.8 L312.6,156.7 L312.9,157.2 L313.1,157.0 L313.4,156.3 L313.6,155.7 L313.9,155.6 L314.1,155.9 L314.4,156.0 L314.6,155.8 L314.9,155.6 L315.0,155.6 L315.1,155.6 L315.4,155.7 L315.6,155.8 L315.9,155.7 L316.1,155.7 L316.4,156.1 L316.6,156.9 L316.9,157.4 L317.1,157.3 L317.4,156.7 L317.6,156.4 L317.9,156.6 L318.1,157.2 L318.4,157.7 L318.6,157.9 L318.9,158.1 L319.1,158.7 L319.4,159.3 L319.6,159.6 L319.9,159.5 L320.1,159.2 L320.4,159.2 L320.6,159.6 L320.9,160.0 L321.1,159.9 L321.4,159.5 L321.6,159.1 L321.9,159.1 L322.1,159.4 L322.4,159.6 L322.6,159.6 L322.9,159.8 L323.1,160.3 L323.4,160.9 L323.6,161.0 L323.9,160.7 L324.1,160.2 L324.4,160.1 L324.6,160.6 L324.9,161.3 L325.1,161.7 L325.4,161.7 L325.6,161.8 L325.9,162.1 L326.1,162.6 L326.4,163.0 L326.6,163.2 L326.9,163.4 L327.1,163.9 L327.4,164.4 L327.6,164.4 L327.9,163.9 L328.1,163.1 L328.4,162.7 L328.6,162.8 L328.9,163.2 L329.1,163.5 L329.4,163.6 L329.6,163.8 L329.9,164.2 L330.0,164.4 L330.1,164.6 L330.4,164.5 L330.6,164.1 L330.9,163.8 L331.1,164.1 L331.4,164.8 L331.6,165.5 L331.9,165.7 L332.1,165.7 L332.4,165.8 L332.6,166.2 L332.9,166.9 L333.1,167.5 L333.4,168.1 L333.6,168.8 L333.9,169.7 L334.1,170.3 L334.4,170.2 L334.6,169.3 L334.9,168.2 L335.1,167.6 L335.4,167.6 L335.6,167.9 L335.9,168.1 L336.1,168.2 L336.4,168.5 L336.6,169.1 L336.9,169.6 L337.1,169.8 L337.4,169.7 L337.5,170.0 L337.6,170.4 L337.9,170.5 L338.1,170.5 L338.4,170.5 L338.6,170.5 L338.9,170.7 L339.1,170.9 L339.4,171.2 L339.6,171.5 L339.9,171.9 L340.1,172.2 L340.4,172.6 L340.6,172.9 L340.9,173.3 L341.0,173.4 L341.1,173.9 L341.4,174.8 L341.6,175.7 L341.9,176.6 L342.1,177.4 L342.4,178.3 L342.6,179.2 L342.9,180.0 L343.0,180.4 L343.1,181.4 L343.4,183.1 L343.6,184.9 L343.9,186.6 L344.1,188.3 L344.3,189.3 L344.4,190.9 L344.6,194.9 L344.9,198.9 L345.1,202.9 L345.3,205.4 L345.4,209.7 L345.6,220.5 L345.9,231.5 L346.0,235.9 L346.1,241.8 L346.4,251.7 L346.6,261.3 L346.8,267.0 L346.9,263.2 L347.1,253.6 L347.4,243.8 L347.6,235.9 L347.6,234.0 L347.9,224.3 L348.1,214.8 L348.4,205.3 L348.6,201.4 L348.9,197.5 L349.1,193.7 L349.3,191.3 L349.4,190.7 L349.6,189.2 L349.9,187.6 L350.1,186.0 L350.4,184.5 L350.5,183.9 L350.6,183.6 L350.9,183.2 L351.1,182.7 L351.4,182.3 L351.6,181.9 L351.9,181.4 L352.1,181.0 L352.4,180.6 L352.5,180.4 L352.6,179.7 L352.9,180.1 L353.1,180.4 L353.4,180.3 L353.6,180.1 L353.9,180.0 L354.1,180.0 L354.4,179.7 L354.6,179.2 L354.9,178.7 L355.1,178.8 L355.4,179.3 L355.5,179.7 L355.6,180.1 L355.9,180.1 L356.1,179.6 L356.4,179.0 L356.6,179.0 L356.9,179.3 L357.1,179.5 L357.4,179.6 L357.6,179.8 L357.9,180.4 L358.1,181.2 L358.4,181.7 L358.6,181.6 L358.9,181.1 L359.1,181.0 L359.4,181.3 L359.6,181.6 L359.9,181.6 L360.1,181.1 L360.4,180.7 L360.6,180.6 L360.9,180.6 L361.1,180.5 L361.4,180.3 L361.6,180.3 L361.9,181.0 L362.1,182.1 L362.4,182.8 L362.6,182.9 L362.9,182.4 L363.1,181.9 L363.4,181.9 L363.6,182.1 L363.9,182.0 L364.1,181.8 L364.4,181.8 L364.6,182.0 L364.9,182.2 L365.1,182.0 L365.4,181.4 L365.6,181.0 L365.9,181.3 L366.1,182.1 L366.4,182.8 L366.6,182.8 L366.9,182.4 L367.1,182.1 L367.4,182.1 L367.5,182.2 L367.6,182.3 L367.9,182.4 L368.1,182.5 L368.4,182.8 L368.6,183.7 L368.9,184.6 L369.1,185.1 L369.4,185.2 L369.6,185.0 L369.9,185.2 L370.1,185.7 L370.4,186.0 L370.6,185.8 L370.9,185.3 L371.1,184.8 L371.4,184.6 L371.6,184.4 L371.9,184.1 L372.1,183.7 L372.4,183.8 L372.6,184.5 L372.9,185.5 L373.1,186.2 L373.4,186.5 L373.6,186.4 L373.9,186.4 L374.1,186.6 L374.4,186.6 L374.6,186.4 L374.9,186.0 L375.1,185.8 L375.4,186.0 L375.6,186.1 L375.9,185.8 L376.1,185.3 L376.4,185.0 L376.6,185.3 L376.9,185.9 L377.1,186.5 L377.4,186.5 L377.6,186.3 L377.9,186.2 L378.1,186.3 L378.4,186.5 L378.6,186.4 L378.9,186.5 L379.1,187.0 L379.4,187.9 L379.6,188.8 L379.9,189.1 L380.1,188.6 L380.4,188.0 L380.6,187.6 L380.9,187.7 L381.1,187.8 L381.4,187.9 L381.6,187.8 L381.9,188.0 L382.1,188.2 L382.4,188.3 L382.5,188.2 L382.6,188.0 L382.9,187.8 L383.1,187.8 L383.4,188.3 L383.6,188.9 L383.9,189.2 L384.1,189.1 L384.4,188.9 L384.6,188.9 L384.9,189.1 L385.1,189.2 L385.4,189.3 L385.6,189.4 L385.9,189.7 L386.1,190.2 L386.4,190.5 L386.6,190.3 L386.9,190.0 L387.1,189.8 L387.4,190.1 L387.6,190.6 L387.9,191.0 L388.1,191.1 L388.4,191.1 L388.6,191.2 L388.9,191.3 L389.1,191.4 L389.4,191.2 L389.6,191.2 L389.9,191.5 L390.1,192.0 L390.4,192.6 L390.6,192.8 L390.9,192.7 L391.1,192.8 L391.4,193.3 L391.6,194.2 L391.9,195.0 L392.1,195.6 L392.4,196.0 L392.6,196.2 L392.9,196.2 L393.0,196.1 L393.1,195.8 L393.4,195.0 L393.6,194.2 L393.9,193.9 L394.1,194.1 L394.4,194.5 L394.6,194.7 L394.9,194.8 L395.1,195.0 L395.4,195.5 L395.6,196.1 L395.9,196.4 L396.1,196.4 L396.4,196.2 L396.6,196.1 L396.9,196.1 L397.1,196.1 L397.4,195.8 L397.6,195.4 L397.9,195.3 L398.1,195.5 L398.4,196.0 L398.6,196.2 L398.9,196.3 L399.1,196.4 L399.4,196.6 L399.6,196.8 L399.9,196.8 L400.0,196.7 L400.1,196.5 L400.4,196.3 L400.6,196.6 L400.9,197.2 L401.1,197.6 L401.4,197.7 L401.6,197.4 L401.9,197.1 L402.1,197.1 L402.4,197.4 L402.6,197.5 L402.9,197.5 L403.1,197.6 L403.4,198.0 L403.6,198.3 L403.9,198.4 L404.1,198.0 L404.4,197.6 L404.6,197.6 L404.9,198.1 L405.1,198.6 L405.4,198.8 L405.6,198.7 L405.9,198.6 L406.1,198.7 L406.4,198.7 L406.6,198.7 L406.9,198.5 L407.1,198.5 L407.4,198.9 L407.6,199.5 L407.9,199.7 L408.1,199.5 L408.4,199.1 L408.6,198.9 L408.9,199.2 L409.1,199.5 L409.4,199.7 L409.6,199.7 L409.9,199.8 L410.1,200.1 L410.4,200.3 L410.6,200.1 L410.9,199.7 L411.1,199.6 L411.4,199.8 L411.6,200.4 L411.9,200.8 L412.1,200.8 L412.4,200.6 L412.6,200.5 L412.9,200.5 L413.1,200.7 L413.4,200.6 L413.6,200.6 L413.9,200.8 L414.1,201.3 L414.4,201.7 L414.6,201.6 L414.9,201.3 L415.1,200.9 L415.4,200.9 L415.6,201.3 L415.9,201.7 L416.1,201.9 L416.4,201.9 L416.6,201.9 L416.9,202.1 L417.1,202.1 L417.4,201.9 L417.6,201.7 L417.9,201.7 L418.1,202.2 L418.4,202.7 L418.6,203.0 L418.9,202.8 L419.1,202.4 L419.4,202.3 L419.6,202.5 L419.9,202.7 L420.1,202.8 L420.4,202.8 L420.6,203.1 L420.9,203.4 L421.1,203.6 L421.4,203.4 L421.6,203.0 L421.9,202.8 L422.1,203.1 L422.4,203.6 L422.6,204.0 L422.9,204.0 L423.1,203.9 L423.4,203.8 L423.6,203.9 L423.9,204.0 L424.1,203.8 L424.4,203.8 L424.6,204.0 L424.9,204.5 L425.1,204.9 L425.4,204.9 L425.6,204.5 L425.9,204.2 L426.1,204.3 L426.4,204.6 L426.6,204.9 L426.9,205.0 L427.1,205.0 L427.4,205.2 L427.6,205.4 L427.9,205.4 L428.1,205.2 L428.4,204.9 L428.6,204.9 L428.9,205.4 L429.1,205.9 L429.4,206.2 L429.6,206.0 L429.9,205.7 L430.1,205.7 L430.4,205.8 L430.6,205.9 L430.9,205.9 L431.1,206.0 L431.4,206.3 L431.6,206.7 L431.9,206.9 L432.1,206.7 L432.4,206.3 L432.6,206.1 L432.9,206.4 L433.1,206.8 L433.4,207.1 L433.6,207.2 L433.9,207.1 L434.1,207.2 L434.4,207.3 L434.5,207.3 L434.6,207.3 L434.9,207.1 L435.1,207.0 L435.4,207.2 L435.6,207.8 L435.9,208.2 L436.1,208.2 L436.4,207.9 L436.6,207.6 L436.9,207.7 L437.1,208.0 L437.4,208.1 L437.6,208.2 L437.9,208.3 L438.1,208.6 L438.4,208.9 L438.6,208.9 L438.9,208.6 L439.1,208.3 L439.4,208.3 L439.6,208.8 L439.9,209.3 L440.1,209.5 L440.4,209.4 L440.6,209.2 L440.9,209.3 L441.1,209.4 L441.4,209.4 L441.6,209.3 L441.9,209.4 L442.1,209.8 L442.4,210.2 L442.6,210.4 L442.9,210.2 L443.1,209.8 L443.4,209.7 L443.6,210.0 L443.9,210.3 L444.1,210.5 L444.4,210.6 L444.6,210.7 L444.9,210.9 L445.1,211.0 L445.4,210.9 L445.6,210.6 L445.9,210.5 L446.1,210.8 L446.4,211.3 L446.6,211.7 L446.9,211.7 L447.1,211.4 L447.4,211.3 L447.6,211.4 L447.9,211.5 L448.1,211.6 L448.4,211.6 L448.6,211.8 L448.9,212.2 L449.1,212.5 L449.4,212.5 L449.6,212.1 L449.9,211.9 L450.1,211.9 L450.4,212.4 L450.6,212.8 L450.9,212.9 L451.1,212.9 L451.4,212.9 L451.6,213.0 L451.9,213.0 L452.1,212.9 L452.4,212.8 L452.5,212.7 L452.6,212.8 L452.9,213.3 L453.1,213.8 L453.4,214.0 L453.6,213.7 L453.9,213.3 L454.1,213.2 L454.4,213.4 L454.6,213.7 L454.9,213.8 L455.1,213.9 L455.4,214.0 L455.6,214.3 L455.9,214.4 L456.1,214.2 L456.4,213.9 L456.6,213.7 L456.9,214.0 L457.1,214.6 L457.4,214.9 L457.6,214.9 L457.9,214.7 L458.1,214.6 L458.4,214.7 L458.6,214.7 L458.9,214.7 L459.1,214.6 L459.4,214.9 L459.6,215.3 L459.9,215.7 L460.1,215.6 L460.4,215.2 L460.6,214.9 L460.9,215.0 L461.1,215.3 L461.4,215.7 L461.6,215.8 L461.9,215.8 L462.1,215.9 L462.4,216.0 L462.6,216.0 L462.9,215.8 L463.1,215.5 L463.4,215.6 L463.6,216.1 L463.9,216.6 L464.1,216.8 L464.4,216.5 L464.6,216.3 L464.9,216.2 L465.1,216.4 L465.4,216.5 L465.6,216.5 L465.9,216.6 L466.1,216.9 L466.4,217.2 L466.6,217.4 L466.9,217.1 L467.1,216.7 L467.4,216.6 L467.6,216.9 L467.9,217.4 L468.1,217.7 L468.4,217.6 L468.6,217.5 L468.9,217.6 L469.1,217.6 L469.4,217.6 L469.6,217.4 L469.9,217.4 L470.1,217.7 L470.4,218.2 L470.6,218.5 L470.9,218.4 L471.1,218.1 L471.4,217.8 L471.6,217.9 L471.9,218.2 L472.1,218.4 L472.4,218.5 L472.6,218.6 L472.9,218.8 L473.1,219.0 L473.4,218.9 L473.6,218.6 L473.9,218.4 L474.1,218.5 L474.4,218.9 L474.6,219.4 L474.9,219.5 L475.0,219.5 L475.1,219.4 L475.4,219.2 L475.6,219.2 L475.9,219.3 L476.1,219.4 L476.4,219.3 L476.6,219.4 L476.9,219.8 L477.1,220.2 L477.4,220.3 L477.6,220.0 L477.9,219.7 L478.1,219.6 L478.4,219.8 L478.6,220.2 L478.9,220.5 L479.1,220.5 L479.4,220.5 L479.6,220.6 L479.9,220.7 L480.1,220.6 L480.4,220.4 L480.6,220.3 L480.9,220.6 L481.1,221.1 L481.4,221.5 L481.6,221.4 L481.9,221.1 L482.1,220.9 L482.4,221.0 L482.6,221.2 L482.9,221.3 L483.1,221.4 L483.4,221.5 L483.6,221.8 L483.9,222.1 L484.1,222.0 L484.4,221.7 L484.6,221.4 L484.9,221.5 L485.1,222.0 L485.4,222.4 L485.6,222.5 L485.9,222.4 L486.1,222.3 L486.4,222.4 L486.6,222.4 L486.9,222.4 L487.1,222.3 L487.4,222.4 L487.6,222.8 L487.9,223.2 L488.1,223.3 L488.4,223.1 L488.6,222.8 L488.9,222.7 L489.1,222.9 L489.4,223.2 L489.6,223.4 L489.9,223.4 L490.1,223.5 L490.4,223.7 L490.6,223.8 L490.9,223.7 L491.1,223.4 L491.4,223.3 L491.5,223.4 L491.6,223.7 L491.9,224.2 L492.1,224.5 L492.4,224.4 L492.6,224.3 L492.9,224.2 L493.1,224.3 L493.4,224.5 L493.6,224.5 L493.9,224.5 L494.1,224.8 L494.4,225.1 L494.6,225.4 L494.9,225.4 L495.1,225.1 L495.4,224.9 L495.6,225.0 L495.9,225.4 L496.1,225.7 L496.4,225.8 L496.6,225.8 L496.9,225.9 L497.1,226.0 L497.4,226.1 L497.6,226.0 L497.9,225.8 L498.1,226.0 L498.4,226.4 L498.6,226.9 L498.9,227.0 L499.0,227.0 L499.1,226.8 L499.4,226.5 L499.6,226.4 L499.9,226.6 L500.1,226.8 L500.4,226.9 L500.6,226.9 L500.9,227.1 L501.1,227.4 L501.4,227.5 L501.6,227.3 L501.9,226.9 L502.1,226.8 L502.4,227.1 L502.6,227.6 L502.9,227.9 L503.1,227.8 L503.4,227.6 L503.6,227.6 L503.9,227.7 L504.1,227.7 L504.4,227.6 L504.6,227.6 L504.9,227.8 L505.1,228.3 L505.4,228.5 L505.6,228.4 L505.9,228.0 L506.1,227.8 L506.4,227.9 L506.6,228.2 L506.9,228.5 L507.1,228.5 L507.4,228.6 L507.6,228.7 L507.9,228.8 L508.1,228.8 L508.4,228.5 L508.6,228.3 L508.9,228.4 L509.1,228.9 L509.4,229.3 L509.6,229.4 L509.9,229.2 L510.1,229.0 L510.4,229.0 L510.6,229.1 L510.9,229.2 L511.1,229.2 L511.4,229.2 L511.6,229.5 L511.9,229.9 L512.1,230.0 L512.4,229.7 L512.6,229.3 L512.9,229.2 L513.1,229.5 L513.4,229.9 L513.6,230.2 L513.9,230.1 L514.1,230.1 L514.4,230.1 L514.6,230.2 L514.9,230.1 L515.1,229.9 L515.4,229.9 L515.6,230.2 L515.9,230.7 L516.1,230.9 L516.4,230.8 L516.6,230.5 L516.9,230.3 L517.1,230.4 L517.4,230.6 L517.6,230.8 L517.9,230.8 L518.1,230.9 L518.4,231.1 L518.6,231.3 L518.9,231.2 L519.1,230.9 L519.4,230.7 L519.6,230.8 L519.9,231.3 L520.0,231.5 L520.1,231.7 L520.4,231.7 L520.6,231.6 L520.9,231.4 L521.1,231.5 L521.4,231.5 L521.6,231.5 L521.9,231.4 L522.1,231.5 L522.4,231.9 L522.6,232.3 L522.9,232.4 L523.1,232.1 L523.4,231.7 L523.6,231.7 L523.9,231.9 L524.1,232.3 L524.4,232.4 L524.6,232.4 L524.9,232.4 L525.1,232.6 L525.4,232.6 L525.6,232.5 L525.9,232.2 L526.1,232.2 L526.4,232.5 L526.6,233.0 L526.9,233.2 L527.1,233.1 L527.4,232.8 L527.6,232.7 L527.9,232.8 L528.1,233.0 L528.4,233.0 L528.6,233.0 L528.9,233.2 L529.1,233.5 L529.4,233.7 L529.6,233.6 L529.9,233.2 L530.1,233.0 L530.4,233.2 L530.6,233.6 L530.9,233.9 L531.1,234.0 L531.4,233.9 L531.6,233.8 L531.9,233.9 L532.1,233.9 L532.4,233.8 L532.6,233.7 L532.9,233.8 L533.1,234.2 L533.4,234.6 L533.6,234.7 L533.9,234.4 L534.1,234.1 L534.4,234.1 L534.6,234.3 L534.9,234.5 L535.1,234.6 L535.4,234.6 L535.6,234.8 L535.9,235.0 L536.1,235.0 L536.4,234.8 L536.6,234.5 L536.9,234.5 L537.1,234.8 L537.4,235.3 L537.6,235.5 L537.9,235.4 L538.1,235.2 L538.4,235.1 L538.6,235.2 L538.9,235.3 L539.1,235.2 L539.4,235.3 L539.6,235.5 L539.9,235.9 L540.1,236.1 L540.4,235.9 L540.6,235.6 L540.9,235.4 L541.1,235.5 L541.4,235.9 L541.6,236.1 L541.9,236.2 L542.1,236.2 L542.4,236.2 L542.6,236.3 L542.9,236.3 L543.1,236.1 L543.4,235.9 L543.6,236.1 L543.9,236.5 L544.1,236.9 L544.4,237.0 L544.6,236.7 L544.9,236.5 L545.1,236.5 L545.4,236.6 L545.6,236.8 L545.9,236.8 L546.1,236.9 L546.4,237.1 L546.6,237.4 L546.9,237.4 L547.1,237.2 L547.4,236.8 L547.6,236.8 L547.9,237.1 L548.1,237.5 L548.4,237.7 L548.6,237.7 L548.9,237.6 L549.1,237.6 L549.4,237.6 L549.6,237.6 L549.9,237.5 L550.0,237.5 L550.1,237.5 L550.4,237.8 L550.6,238.2 L550.9,238.4 L551.1,238.3 L551.4,238.0 L551.6,237.8 L551.9,237.9 L552.1,238.2 L552.4,238.4 L552.6,238.4 L552.9,238.5 L553.1,238.6 L553.4,238.8 L553.6,238.7 L553.9,238.4 L554.1,238.3 L554.4,238.4 L554.6,238.9 L554.9,239.2 L555.1,239.3 L555.4,239.1 L555.6,238.9 L555.9,239.0 L556.1,239.1 L556.4,239.1 L556.6,239.1 L556.9,239.2 L557.1,239.5 L557.4,239.8 L557.6,239.8 L557.9,239.6 L558.0,239.4 L558.1,239.3 L558.4,239.2 L558.6,239.5 L558.9,239.9 L559.1,240.0 L559.4,240.0 L559.6,240.0 L559.9,240.1 L560.1,240.1 L560.4,240.0 L560.6,239.8 L560.9,239.8 L561.1,240.2 L561.4,240.6 L561.6,240.8 L561.9,240.7 L562.1,240.4 L562.4,240.3 L562.6,240.4 L562.9,240.6 L563.1,240.7 L563.4,240.7 L563.6,240.8 L563.9,241.1 L564.1,241.2 L564.4,241.1 L564.6,240.8 L564.9,240.7 L565.1,240.8 L565.4,241.2 L565.6,241.5 L565.9,241.6 L566.1,241.5 L566.4,241.4 L566.6,241.5 L566.9,241.5 L567.1,241.4 L567.4,241.4 L567.6,241.5 L567.9,241.9 L568.1,242.2 L568.4,242.2 L568.6,242.0 L568.9,241.7 L569.1,241.7 L569.4,241.9 L569.6,242.2 L569.9,242.3 L570.1,242.3 L570.4,242.4 L570.6,242.6 L570.9,242.6 L571.1,242.4 L571.4,242.2 L571.6,242.2 L571.9,242.5 L572.1,242.9 L572.4,243.1 L572.6,243.0 L572.9,242.8 L573.1,242.7 L573.4,242.8 L573.6,243.0 L573.9,243.0 L574.1,243.0 L574.4,243.2 L574.6,243.5 L574.9,243.7 L575.1,243.5 L575.4,243.2 L575.6,243.1 L575.9,243.2 L576.1,243.6 L576.4,243.8 L576.6,243.9 L576.9,243.8 L577.1,243.9 L577.4,243.9 L577.6,243.9 L577.9,243.8 L578.1,243.7 L578.4,243.9 L578.6,244.3 L578.9,244.6 L579.1,244.6 L579.4,244.3 L579.6,244.1 L579.9,244.1 L580.1,244.3 L580.4,244.5 L580.6,244.6 L580.9,244.6 L581.1,244.8 L581.4,245.0 L581.6,245.0 L581.9,244.8 L582.1,244.6 L582.4,244.6 L582.6,244.9 L582.9,245.3 L583.1,245.5 L583.4,245.4 L583.6,245.2 L583.9,245.2 L584.1,245.3 L584.4,245.3 L584.6,245.3 L584.9,245.3 L585.0,245.4 L585.1,245.6 L585.4,245.9 L585.6,246.1 L585.9,246.0 L586.1,245.8 L586.4,245.7 L586.6,245.9 L586.9,246.2 L587.1,246.4 L587.4,246.5 L587.6,246.6 L587.9,246.7 L588.1,246.8 L588.4,246.8 L588.6,246.7 L588.9,246.6 L589.1,246.8 L589.4,247.2 L589.6,247.5 L589.9,247.6 L590.0,247.5 L590.1,247.5 L590.4,247.6 L590.6,247.8 L590.9,248.1 L591.1,248.3 L591.4,248.5 L591.6,248.8 L591.9,249.0 L592.1,249.3 L592.4,249.5 L592.5,249.5 L592.6,249.9 L592.9,250.4 L593.1,251.0 L593.4,251.5 L593.6,252.1 L593.9,252.6 L594.1,253.2 L594.3,253.5 L594.4,254.0 L594.6,255.3 L594.9,256.5 L595.1,257.8 L595.4,259.0 L595.6,260.0 L595.6,260.5 L595.9,263.0 L596.1,265.6 L596.4,268.2 L596.6,270.4 L596.6,271.0 L596.9,274.1 L597.1,277.2 L597.4,280.2 L597.6,282.5 L597.6,281.9 L597.9,279.0 L598.1,275.9 L598.4,272.8 L598.6,270.4 L598.6,269.8 L598.9,266.8 L599.1,264.0 L599.4,261.2 L599.6,259.0 L599.6,258.8 L599.9,257.8 L600.1,256.7 L600.4,255.7 L600.6,254.7 L600.9,253.6 L601.0,253.2 L601.1,253.0 L601.4,252.7 L601.6,252.4 L601.9,252.1 L602.1,251.7 L602.4,251.4 L602.6,251.1 L602.9,250.8 L603.0,250.8 L603.1,250.9 L603.4,250.5 L603.6,250.2 L603.9,250.1 L604.1,250.3 L604.4,250.5 L604.6,250.4 L604.9,250.3 L605.1,250.3 L605.4,250.3 L605.6,250.2 L605.9,250.0 L606.0,249.8 L606.1,249.7 L606.4,249.7 L606.6,250.0 L606.9,250.4 L607.1,250.5 L607.4,250.3 L607.6,250.1 L607.9,250.0 L608.1,250.1 L608.4,250.2 L608.6,250.2 L608.9,250.2 L609.1,250.3 L609.4,250.5 L609.6,250.6 L609.9,250.4 L610.1,250.1 L610.4,250.0 L610.6,250.1 L610.9,250.5 L611.1,250.7 L611.4,250.7 L611.6,250.5 L611.9,250.5 L612.1,250.5 L612.4,250.5 L612.6,250.4 L612.9,250.3 L613.1,250.4 L613.4,250.7 L613.6,251.0 L613.9,250.9 L614.1,250.7 L614.4,250.4 L614.6,250.4 L614.9,250.6 L615.0,250.7 L615.1,250.8 L615.4,250.9 L615.6,250.9 L615.9,251.0 L616.1,251.1 L616.4,251.1 L616.6,251.0 L616.9,250.8 L617.1,250.8 L617.4,251.1 L617.6,251.5 L617.9,251.6 L618.1,251.5 L618.4,251.3 L618.6,251.3 L618.9,251.4 L619.1,251.4 L619.4,251.4 L619.6,251.5 L619.9,251.7 L620.1,251.9 L620.4,252.1 L620.6,251.9 L620.9,251.6 L621.1,251.5 L621.4,251.7 L621.6,252.0 L621.9,252.2 L622.1,252.2 L622.4,252.2 L622.6,252.2 L622.9,252.3 L623.1,252.2 L623.4,252.1 L623.6,252.0 L623.9,252.2 L624.1,252.6 L624.4,252.8 L624.6,252.8 L624.9,252.6 L625.1,252.4 L625.4,252.5 L625.6,252.6 L625.9,252.7 L626.1,252.8 L626.4,252.8 L626.6,253.0 L626.9,253.2 L627.1,253.2 L627.4,253.0 L627.6,252.8 L627.9,252.8 L628.1,253.1 L628.4,253.4 L628.6,253.5 L628.9,253.4 L629.1,253.4 L629.4,253.4 L629.6,253.4 L629.9,253.4 L630.0,253.4 L630.1,253.3 L630.4,253.4 L630.6,253.6 L630.9,253.9 L631.1,254.0 L631.4,253.9 L631.6,253.6 L631.9,253.5" fill="none" stroke="#FFFF00" stroke-width="1.3" clip-path="url(#mk)" shape-rendering="crispEdges"/>
<path d="M102,316.5 L151,316.5 M140,317.5 L142,317.5 M143,317.5 L145,317.5 M102,315.5 L104,315.5 M104,319.5 L157,319.5 M102,320.5 L105,320.5 M151,316.5 L157,316.5 M159,319.5 L160,319.5 M164,316.5 L165,316.5 M164,319.5 L165,319.5 M168,319.5 L169,319.5 M172,319.5 L173,319.5 M177,319.5 L178,319.5 M185.5,312 L185.5,324 M1021.5,311.7 L1021.5,323.3 M180,316.5 L183,316.5 M180,319.5 L183,319.5" fill="none" stroke="#0A84FF" stroke-width="1" shape-rendering="crispEdges"/>
<path d="M151,318 L190,318 M633.5,318 L886.7,318 M908.3,318 L925,318 M926.3,318 L943,318 M945,318 L963.3,318 M965.3,318 L983.7,318 M985.3,318 L1003.3,318 M1005.3,318 L1025,318 M1027.5,318 L1046.7,318 M1049,318 L1069,318 M1072.5,318 L1092,318 M1095,318 L1116,318 M1119,318 L1140,318 M180,318 L183.5,318 M183,317 L188,319 M750.5,316 L750.5,320 M1006.5,315.5 L1006.5,320.5 L1009.5,318 L1009.5,316 L1009.5,320 L1012.5,318 M1018.5,316.5 L1018.5,319.5 M1029,318 L1031,316.3 L1031,319.8 M1036,316.8 L1036,319.3" fill="none" stroke="#0A84FF" stroke-width="2" shape-rendering="crispEdges"/>
<path id="resid" d="M190,314h1v7h-1zM191,313h1v8h-1zM192,313h1v9h-1zM193,315h1v6h-1zM194,314h1v8h-1zM195,314h1v7h-1zM196,314h1v8h-1zM197,315h1v6h-1zM198,313h1v8h-1zM199,315h1v7h-1zM200,313h1v9h-1zM201,314h1v7h-1zM202,313h1v8h-1zM203,313h1v8h-1zM204,314h1v11h-1zM205,314h1v11h-1zM206,313h1v12h-1zM207,314h1v12h-1zM208,314h1v10h-1zM209,313h1v26h-1zM210,313h1v27h-1zM211,313h1v27h-1zM212,313h1v11h-1zM213,313h1v11h-1zM214,313h1v14h-1zM215,314h1v16h-1zM216,314h1v15h-1zM217,314h1v9h-1zM218,314h1v9h-1zM219,312h1v7h-1zM220,312h1v7h-1zM221,312h1v8h-1zM222,312h1v8h-1zM223,313h1v9h-1zM224,312h1v9h-1zM225,313h1v7h-1zM226,313h1v8h-1zM227,314h1v8h-1zM228,314h1v6h-1zM229,314h1v8h-1zM230,313h1v7h-1zM231,313h1v9h-1zM232,314h1v7h-1zM233,314h1v8h-1zM234,314h1v9h-1zM235,314h1v9h-1zM236,314h1v9h-1zM237,315h1v6h-1zM238,314h1v7h-1zM239,315h1v6h-1zM240,315h1v6h-1zM241,315h1v6h-1zM242,315h1v6h-1zM243,315h1v7h-1zM244,315h1v7h-1zM245,314h1v7h-1zM246,315h1v8h-1zM247,315h1v7h-1zM248,315h1v6h-1zM249,314h1v9h-1zM250,315h1v7h-1zM251,314h1v8h-1zM252,316h1v6h-1zM253,315h1v8h-1zM254,314h1v7h-1zM255,315h1v6h-1zM256,315h1v7h-1zM257,314h1v7h-1zM258,315h1v8h-1zM259,315h1v7h-1zM260,314h1v8h-1zM261,315h1v8h-1zM262,315h1v7h-1zM263,315h1v7h-1zM264,315h1v7h-1zM265,315h1v7h-1zM266,315h1v7h-1zM267,315h1v6h-1zM268,315h1v7h-1zM269,315h1v7h-1zM270,316h1v5h-1zM271,315h1v8h-1zM272,315h1v6h-1zM273,315h1v6h-1zM274,316h1v5h-1zM275,316h1v6h-1zM276,315h1v7h-1zM277,315h1v7h-1zM278,315h1v7h-1zM279,316h1v5h-1zM280,315h1v7h-1zM281,316h1v5h-1zM282,316h1v6h-1zM283,315h1v6h-1zM284,315h1v7h-1zM285,315h1v7h-1zM286,315h1v7h-1zM287,315h1v6h-1zM288,315h1v7h-1zM289,316h1v5h-1zM290,315h1v7h-1zM291,315h1v7h-1zM292,315h1v6h-1zM293,316h1v6h-1zM294,315h1v7h-1zM295,316h1v5h-1zM296,315h1v7h-1zM297,315h1v6h-1zM298,315h1v6h-1zM299,316h1v6h-1zM300,315h1v7h-1zM301,316h1v6h-1zM302,315h1v7h-1zM303,315h1v7h-1zM304,315h1v6h-1zM305,315h1v7h-1zM306,315h1v7h-1zM307,315h1v7h-1zM308,316h1v6h-1zM309,315h1v6h-1zM310,316h1v5h-1zM311,315h1v7h-1zM312,316h1v5h-1zM313,316h1v5h-1zM314,316h1v6h-1zM315,316h1v5h-1zM316,315h1v7h-1zM317,315h1v6h-1zM318,315h1v6h-1zM319,316h1v5h-1zM320,315h1v7h-1zM321,316h1v5h-1zM322,315h1v7h-1zM323,316h1v5h-1zM324,315h1v7h-1zM325,316h1v5h-1zM326,316h1v5h-1zM327,315h1v6h-1zM328,316h1v6h-1zM329,315h1v6h-1zM330,315h1v6h-1zM331,315h1v6h-1zM332,315h1v7h-1zM333,316h1v6h-1zM334,315h1v6h-1zM335,315h1v6h-1zM336,315h1v7h-1zM337,316h1v6h-1zM338,316h1v6h-1zM339,316h1v5h-1zM340,316h1v5h-1zM341,316h1v5h-1zM342,316h1v5h-1zM343,316h1v5h-1zM344,315h1v6h-1zM345,316h1v5h-1zM346,316h1v5h-1zM347,316h1v4h-1zM348,316h1v4h-1zM349,316h1v5h-1zM350,315h1v5h-1zM351,315h1v7h-1zM352,316h1v6h-1zM353,316h1v6h-1zM354,315h1v6h-1zM355,315h1v5h-1zM356,315h1v5h-1zM357,316h1v5h-1zM358,315h1v5h-1zM359,316h1v4h-1zM360,316h1v5h-1zM361,315h1v6h-1zM362,316h1v5h-1zM363,315h1v6h-1zM364,316h1v5h-1zM365,316h1v5h-1zM366,316h1v5h-1zM367,316h1v4h-1zM368,315h1v5h-1zM369,316h1v5h-1zM370,316h1v5h-1zM371,316h1v4h-1zM372,315h1v6h-1zM373,316h1v5h-1zM374,316h1v5h-1zM375,316h1v4h-1zM376,315h1v6h-1zM377,316h1v4h-1zM378,316h1v5h-1zM379,315h1v6h-1zM380,315h1v6h-1zM381,316h1v5h-1zM382,316h1v4h-1zM383,315h1v5h-1zM384,316h1v4h-1zM385,316h1v4h-1zM386,316h1v4h-1zM387,316h1v5h-1zM388,316h1v4h-1zM389,316h1v4h-1zM390,316h1v5h-1zM391,316h1v5h-1zM392,316h1v5h-1zM393,315h1v5h-1zM394,316h1v4h-1zM395,316h1v5h-1zM396,316h1v4h-1zM397,316h1v5h-1zM398,317h1v3h-1zM399,316h1v4h-1zM400,316h1v5h-1zM401,316h1v5h-1zM402,316h1v4h-1zM403,316h1v4h-1zM404,316h1v5h-1zM405,316h1v4h-1zM406,316h1v4h-1zM407,316h1v4h-1zM408,316h1v4h-1zM409,316h1v4h-1zM410,316h1v4h-1zM411,316h1v4h-1zM412,316h1v4h-1zM413,316h1v4h-1zM414,316h1v5h-1zM415,316h1v5h-1zM416,316h1v4h-1zM417,316h1v4h-1zM418,316h1v4h-1zM419,316h1v4h-1zM420,316h1v4h-1zM421,316h1v4h-1zM422,316h1v4h-1zM423,316h1v4h-1zM424,316h1v5h-1zM425,316h1v4h-1zM426,316h1v5h-1zM427,316h1v5h-1zM428,316h1v4h-1zM429,316h1v5h-1zM430,316h1v5h-1zM431,317h1v3h-1zM432,316h1v4h-1zM433,316h1v4h-1zM434,316h1v4h-1zM435,316h1v4h-1zM436,316h1v4h-1zM437,316h1v5h-1zM438,316h1v4h-1zM439,316h1v4h-1zM440,316h1v5h-1zM441,316h1v4h-1zM442,316h1v4h-1zM443,316h1v5h-1zM444,316h1v4h-1zM445,316h1v4h-1zM446,316h1v4h-1zM447,316h1v4h-1zM448,316h1v4h-1zM449,316h1v4h-1zM450,316h1v4h-1zM451,316h1v4h-1zM452,316h1v5h-1zM453,316h1v5h-1zM454,316h1v5h-1zM455,316h1v4h-1zM456,316h1v4h-1zM457,316h1v4h-1zM458,316h1v5h-1zM459,316h1v6h-1zM460,316h1v5h-1zM461,316h1v4h-1zM462,316h1v4h-1zM463,316h1v5h-1zM464,316h1v4h-1zM465,316h1v5h-1zM466,316h1v5h-1zM467,316h1v5h-1zM468,317h1v4h-1zM469,316h1v4h-1zM470,316h1v4h-1zM471,316h1v4h-1zM472,316h1v4h-1zM473,316h1v4h-1zM474,316h1v4h-1zM475,316h1v4h-1zM476,316h1v4h-1zM477,316h1v4h-1zM478,316h1v4h-1zM479,316h1v5h-1zM490,316h1v4h-1zM491,316h1v4h-1zM492,316h1v4h-1zM493,316h1v4h-1zM494,316h1v4h-1zM495,316h1v5h-1zM496,316h1v4h-1zM497,316h1v18h-1zM498,316h1v24h-1zM499,316h1v24h-1zM500,316h1v22h-1zM501,316h1v4h-1zM502,316h1v4h-1zM503,316h1v4h-1zM504,316h1v4h-1zM505,316h1v4h-1zM506,316h1v4h-1zM507,316h1v4h-1zM508,316h1v5h-1zM509,316h1v4h-1zM510,316h1v4h-1zM511,317h1v3h-1zM512,316h1v4h-1zM513,317h1v3h-1zM514,316h1v4h-1zM515,316h1v5h-1zM516,316h1v4h-1zM517,316h1v4h-1zM518,316h1v4h-1zM519,316h1v4h-1zM520,316h1v5h-1zM521,316h1v4h-1zM522,316h1v4h-1zM523,316h1v4h-1zM524,316h1v5h-1zM525,316h1v5h-1zM526,316h1v4h-1zM527,316h1v4h-1zM528,316h1v4h-1zM529,316h1v4h-1zM530,316h1v4h-1zM531,316h1v5h-1zM532,316h1v4h-1zM533,316h1v4h-1zM534,316h1v4h-1zM535,316h1v4h-1zM536,316h1v5h-1zM537,316h1v5h-1zM538,316h1v6h-1zM539,316h1v6h-1zM540,316h1v4h-1zM541,316h1v5h-1zM542,316h1v4h-1zM543,316h1v4h-1zM544,316h1v4h-1zM545,316h1v4h-1zM546,316h1v4h-1zM547,316h1v5h-1zM548,316h1v4h-1zM549,316h1v4h-1zM550,316h1v4h-1zM551,316h1v4h-1zM552,316h1v4h-1zM553,316h1v4h-1zM554,316h1v5h-1zM555,316h1v9h-1zM556,316h1v6h-1zM557,316h1v4h-1zM558,316h1v4h-1zM559,316h1v5h-1zM560,316h1v4h-1zM561,317h1v4h-1zM562,316h1v4h-1zM563,316h1v4h-1zM564,316h1v5h-1zM565,316h1v4h-1zM566,316h1v4h-1zM567,316h1v5h-1zM568,316h1v4h-1zM569,316h1v5h-1zM570,316h1v4h-1zM571,316h1v4h-1zM572,316h1v4h-1zM573,316h1v4h-1zM574,316h1v4h-1zM575,316h1v4h-1zM576,316h1v4h-1zM577,316h1v5h-1zM578,316h1v4h-1zM579,317h1v4h-1zM580,316h1v5h-1zM581,316h1v7h-1zM582,316h1v5h-1zM583,316h1v4h-1zM584,316h1v4h-1zM585,316h1v4h-1zM586,316h1v5h-1zM587,316h1v4h-1zM588,316h1v4h-1zM589,316h1v4h-1zM590,316h1v4h-1zM591,316h1v5h-1zM592,317h1v4h-1zM593,316h1v6h-1zM594,316h1v5h-1zM595,316h1v4h-1zM596,316h1v4h-1zM597,316h1v4h-1zM598,316h1v5h-1zM599,316h1v5h-1zM600,316h1v4h-1zM601,316h1v4h-1zM602,316h1v5h-1zM603,316h1v4h-1zM604,316h1v4h-1zM605,316h1v4h-1zM606,316h1v5h-1zM607,316h1v4h-1zM608,316h1v5h-1zM609,316h1v5h-1zM610,316h1v4h-1zM611,316h1v4h-1zM612,316h1v4h-1zM613,316h1v6h-1zM614,316h1v5h-1zM615,316h1v4h-1zM616,316h1v4h-1zM617,316h1v4h-1zM618,316h1v4h-1zM619,316h1v4h-1zM620,316h1v4h-1zM621,316h1v4h-1zM622,316h1v4h-1zM623,316h1v4h-1zM624,316h1v4h-1zM625,316h1v4h-1zM626,316h1v4h-1zM627,316h1v4h-1zM628,316h1v4h-1zM629,316h1v4h-1zM630,316h1v4h-1zM631,316h1v4h-1zM632,316h1v4h-1zM633,316h1v4h-1z" fill="#00FF66" shape-rendering="crispEdges"/>
<path id="mcont" d="M190.2,259.0 L191.2,258.9 L192.2,258.8 L193.2,258.6 L194.2,258.4 L195.2,258.1 L196.2,257.8 L197.2,257.5 L198.2,257.1 L199.2,256.7 L200.2,256.3 L201.2,255.9 L202.2,255.4 L203.2,255.0 L204.2,254.5 L205.2,254.0 L206.2,253.4 L207.2,252.9 L208.2,252.3 L209.2,251.6 L210.2,251.0 L211.2,250.3 L212.2,249.6 L213.2,248.8 L214.2,248.1 L215.2,247.3 L216.2,246.5 L217.2,245.7 L218.2,244.9 L219.2,244.1 L220.2,243.4 L221.2,242.6 L222.2,241.9 L223.2,241.2 L224.2,240.5 L225.2,239.9 L226.2,239.2 L227.2,238.6 L228.2,238.0 L229.2,237.4 L230.2,236.8 L231.2,236.2 L232.2,235.7 L233.2,235.1 L234.2,234.6 L235.2,234.2 L236.2,233.7 L237.2,233.3 L238.2,232.8 L239.2,232.4 L240.2,232.1 L241.2,231.7 L242.2,231.4 L243.2,231.1 L244.2,230.9 L245.2,230.6 L246.2,230.4 L247.2,230.2 L248.2,230.1 L249.2,229.9 L250.2,229.8 L251.2,229.6 L252.2,229.5 L253.2,229.4 L254.2,229.3 L255.2,229.1 L256.2,229.0 L257.2,228.9 L258.2,228.7 L259.2,228.6 L260.2,228.4 L261.2,228.3 L262.2,228.1 L263.2,228.0 L264.2,227.8 L265.2,227.6 L266.2,227.5 L267.2,227.3 L268.2,227.1 L269.2,226.9 L270.2,226.7 L271.2,226.5 L272.2,226.2 L273.2,226.0 L274.2,225.7 L275.2,225.4 L276.2,225.1 L277.2,224.8 L278.2,224.5 L279.2,224.2 L280.2,223.9 L281.2,223.5 L282.2,223.2 L283.2,222.9 L284.2,222.5 L285.2,222.2 L286.2,221.8 L287.2,221.4 L288.2,221.1 L289.2,220.7 L290.2,220.3 L291.2,219.9 L292.2,219.6 L293.2,219.2 L294.2,218.8 L295.2,218.5 L296.2,218.1 L297.2,217.8 L298.2,217.4 L299.2,217.1 L300.2,216.7 L301.2,216.4 L302.2,216.1 L303.2,215.7 L304.2,215.4 L305.2,215.0 L306.2,214.7 L307.2,214.4 L308.2,214.1 L309.2,213.8 L310.2,213.5 L311.2,213.2 L312.2,213.0 L313.2,212.7 L314.2,212.5 L315.2,212.3 L316.2,212.1 L317.2,211.9 L318.2,211.7 L319.2,211.4 L320.2,211.2 L321.2,211.0 L322.2,210.8 L323.2,210.6 L324.2,210.4 L325.2,210.3 L326.2,210.1 L327.2,209.9 L328.2,209.8 L329.2,209.6 L330.2,209.5 L331.2,209.4 L332.2,209.2 L333.2,209.1 L334.2,209.0 L335.2,208.8 L336.2,208.7 L337.2,208.6 L338.2,208.4 L339.2,208.3 L340.2,208.2 L341.2,208.0 L342.2,207.9 L343.2,207.8 L344.2,207.6 L345.2,207.5 L346.2,207.4 L347.2,207.2 L348.2,207.1 L349.2,207.0 L350.2,206.8 L351.2,206.7 L352.2,206.6 L353.2,206.4 L354.2,206.3 L355.2,206.2 L356.2,206.0 L357.2,205.9 L358.2,205.8 L359.2,205.6 L360.2,205.5 L361.2,205.4 L362.2,205.2 L363.2,205.1 L364.2,205.0 L365.2,204.8 L366.2,204.7 L367.2,204.6 L368.2,204.4 L369.2,204.3 L370.2,204.1 L371.2,203.9 L372.2,203.7 L373.2,203.6 L374.2,203.4 L375.2,203.2 L376.2,203.0 L377.2,202.8 L378.2,202.6 L379.2,202.4 L380.2,202.2 L381.2,202.0 L382.2,201.8 L383.2,201.5 L384.2,201.3 L385.2,201.1 L386.2,200.9 L387.2,200.6 L388.2,200.4 L389.2,200.2 L390.2,199.9 L391.2,199.7 L392.2,199.4 L393.2,199.2 L394.2,198.9 L395.2,198.7 L396.2,198.4 L397.2,198.2 L398.2,197.9 L399.2,197.7 L400.2,197.4 L401.2,197.2 L402.2,196.9 L403.2,196.7 L404.2,196.5 L405.2,196.2 L406.2,196.0 L407.2,195.7 L408.2,195.5 L409.2,195.3 L410.2,195.1 L411.2,194.8 L412.2,194.6 L413.2,194.4 L414.2,194.2 L415.2,193.9 L416.2,193.7 L417.2,193.5 L418.2,193.3 L419.2,193.0 L420.2,192.8 L421.2,192.6 L422.2,192.4 L423.2,192.1 L424.2,191.9 L425.2,191.7 L426.2,191.5 L427.2,191.2 L428.2,191.0 L429.2,190.8 L430.2,190.5 L431.2,190.3 L432.2,190.0 L433.2,189.8 L434.2,189.5 L435.2,189.3 L436.2,189.1 L437.2,188.8 L438.2,188.6 L439.2,188.3 L440.2,188.1 L441.2,187.9 L442.2,187.6 L443.2,187.4 L444.2,187.2 L445.2,187.0 L446.2,186.8 L447.2,186.5 L448.2,186.3 L449.2,186.1 L450.2,185.9 L451.2,185.7 L452.2,185.4 L453.2,185.2 L454.2,185.0 L455.2,184.7 L456.2,184.5 L457.2,184.2 L458.2,184.0 L459.2,183.7 L460.2,183.5 L461.2,183.3 L462.2,183.0 L463.2,182.8 L464.2,182.5 L465.2,182.3 L466.2,182.0 L467.2,181.8 L468.2,181.5 L469.2,181.3 L470.2,181.1 L471.2,180.8 L472.2,180.6 L473.2,180.3 L474.2,180.1 L475.2,179.9 L476.2,179.6 L477.2,179.4 L478.2,179.2 L479.2,179.0 L480.2,178.8 L481.2,178.6 L482.2,178.4 L483.2,178.2 L484.2,178.0 L485.2,177.8 L486.2,177.6 L487.2,177.4 L488.2,177.2 L489.2,177.0 L490.2,176.8 L491.2,176.6 L492.2,176.3 L493.2,176.1 L494.2,175.9 L495.2,175.7 L496.2,175.5 L497.2,175.3 L498.2,175.1 L499.2,174.9 L500.2,174.8 L501.2,174.6 L502.2,174.4 L503.2,174.3 L504.2,174.1 L505.2,174.0 L506.2,173.9 L507.2,173.7 L508.2,173.6 L509.2,173.5 L510.2,173.3 L511.2,173.2 L512.2,173.1 L513.2,172.9 L514.2,172.8 L515.2,172.6 L516.2,172.5 L517.2,172.4 L518.2,172.2 L519.2,172.1 L520.2,171.9 L521.2,171.8 L522.2,171.6 L523.2,171.5 L524.2,171.3 L525.2,171.2 L526.2,171.0 L527.2,170.8 L528.2,170.7 L529.2,170.5 L530.2,170.4 L531.2,170.2 L532.2,170.0 L533.2,169.9 L534.2,169.7 L535.2,169.6 L536.2,169.4 L537.2,169.2 L538.2,169.1 L539.2,168.9 L540.2,168.8 L541.2,168.6 L542.2,168.4 L543.2,168.3 L544.2,168.1 L545.2,167.9 L546.2,167.8 L547.2,167.6 L548.2,167.4 L549.2,167.3 L550.2,167.1 L551.2,167.0 L552.2,166.8 L553.2,166.6 L554.2,166.5 L555.2,166.3 L556.2,166.1 L557.2,166.0 L558.2,165.8 L559.2,165.6 L560.2,165.4 L561.2,165.3 L562.2,165.1 L563.2,164.9 L564.2,164.7 L565.2,164.5 L566.2,164.3 L567.2,164.1 L568.2,163.9 L569.2,163.7 L570.2,163.5 L571.2,163.3 L572.2,163.1 L573.2,162.9 L574.2,162.8 L575.2,162.6 L576.2,162.4 L577.2,162.2 L578.2,162.0 L579.2,161.8 L580.2,161.6 L581.2,161.4 L582.2,161.2 L583.2,161.0 L584.2,160.8 L585.2,160.6 L586.2,160.4 L587.2,160.2 L588.2,160.1 L589.2,159.9 L590.2,159.7 L591.2,159.5 L592.2,159.3 L593.2,159.1 L594.2,159.0 L595.2,158.8 L596.2,158.6 L597.2,158.5 L598.2,158.3 L599.2,158.1 L600.2,157.9 L601.2,157.8 L602.2,157.6 L603.2,157.4 L604.2,157.2 L605.2,157.1 L606.2,156.9 L607.2,156.7 L608.2,156.5 L609.2,156.4 L610.2,156.2 L611.2,156.0 L612.2,155.9 L613.2,155.7 L614.2,155.5 L615.2,155.4 L616.2,155.3 L617.2,155.1 L618.2,155.0 L619.2,154.9 L620.2,154.8 L621.2,154.7 L622.2,154.6 L623.2,154.5 L624.2,154.4 L625.2,154.3 L626.2,154.3 L627.2,154.2 L628.2,154.2 L629.2,154.1 L630.2,154.1 L631.2,154.1" fill="none" stroke="#0A84FF" stroke-width="2.4" shape-rendering="crispEdges"/>
<g id="raxis" shape-rendering="crispEdges"><rect x="1140" y="59" width="1" height="281" fill="#0A84FF"/><rect x="1130" y="338" width="10" height="1" fill="#0A84FF"/><rect x="1130" y="334" width="10" height="1" fill="#0A84FF"/><rect x="1130" y="330" width="10" height="1" fill="#0A84FF"/><rect x="1130" y="325" width="10" height="1" fill="#0A84FF"/><rect x="1130" y="321" width="10" height="1" fill="#0A84FF"/><rect x="1119" y="317" width="21" height="1" fill="#0A84FF"/><rect x="1130" y="312" width="10" height="1" fill="#0A84FF"/><rect x="1130" y="308" width="10" height="1" fill="#0A84FF"/><rect x="1130" y="304" width="10" height="1" fill="#0A84FF"/><rect x="1130" y="299" width="10" height="1" fill="#0A84FF"/><rect x="1130" y="295" width="10" height="1" fill="#0A84FF"/><rect x="1130" y="291" width="10" height="1" fill="#0A84FF"/><rect x="1130" y="286" width="10" height="1" fill="#0A84FF"/><rect x="1130" y="282" width="10" height="1" fill="#0A84FF"/><rect x="1130" y="278" width="10" height="1" fill="#0A84FF"/><rect x="1119" y="274" width="21" height="1" fill="#0A84FF"/><rect x="1130" y="269" width="10" height="1" fill="#0A84FF"/><rect x="1130" y="265" width="10" height="1" fill="#0A84FF"/><rect x="1130" y="261" width="10" height="1" fill="#0A84FF"/><rect x="1130" y="256" width="10" height="1" fill="#0A84FF"/><rect x="1130" y="252" width="10" height="1" fill="#0A84FF"/><rect x="1130" y="248" width="10" height="1" fill="#0A84FF"/><rect x="1130" y="243" width="10" height="1" fill="#0A84FF"/><rect x="1130" y="239" width="10" height="1" fill="#0A84FF"/><rect x="1130" y="235" width="10" height="1" fill="#0A84FF"/><rect x="1119" y="230" width="21" height="1" fill="#0A84FF"/><rect x="1130" y="226" width="10" height="1" fill="#0A84FF"/><rect x="1130" y="222" width="10" height="1" fill="#0A84FF"/><rect x="1130" y="218" width="10" height="1" fill="#0A84FF"/><rect x="1130" y="213" width="10" height="1" fill="#0A84FF"/><rect x="1130" y="209" width="10" height="1" fill="#0A84FF"/><rect x="1130" y="205" width="10" height="1" fill="#0A84FF"/><rect x="1130" y="200" width="10" height="1" fill="#0A84FF"/><rect x="1130" y="196" width="10" height="1" fill="#0A84FF"/><rect x="1130" y="192" width="10" height="1" fill="#0A84FF"/><rect x="1119" y="187" width="21" height="1" fill="#0A84FF"/><rect x="1130" y="183" width="10" height="1" fill="#0A84FF"/><rect x="1130" y="179" width="10" height="1" fill="#0A84FF"/><rect x="1130" y="174" width="10" height="1" fill="#0A84FF"/><rect x="1130" y="170" width="10" height="1" fill="#0A84FF"/><rect x="1130" y="166" width="10" height="1" fill="#0A84FF"/><rect x="1130" y="161" width="10" height="1" fill="#0A84FF"/><rect x="1130" y="157" width="10" height="1" fill="#0A84FF"/><rect x="1130" y="153" width="10" height="1" fill="#0A84FF"/><rect x="1130" y="149" width="10" height="1" fill="#0A84FF"/><rect x="1119" y="144" width="21" height="1" fill="#0A84FF"/><rect x="1130" y="140" width="10" height="1" fill="#0A84FF"/><rect x="1130" y="136" width="10" height="1" fill="#0A84FF"/><rect x="1130" y="131" width="10" height="1" fill="#0A84FF"/><rect x="1130" y="127" width="10" height="1" fill="#0A84FF"/><rect x="1130" y="123" width="10" height="1" fill="#0A84FF"/><rect x="1130" y="118" width="10" height="1" fill="#0A84FF"/><rect x="1130" y="114" width="10" height="1" fill="#0A84FF"/><rect x="1130" y="110" width="10" height="1" fill="#0A84FF"/><rect x="1130" y="105" width="10" height="1" fill="#0A84FF"/><rect x="1119" y="101" width="21" height="1" fill="#0A84FF"/><rect x="1130" y="97" width="10" height="1" fill="#0A84FF"/><rect x="1130" y="93" width="10" height="1" fill="#0A84FF"/><rect x="1130" y="88" width="10" height="1" fill="#0A84FF"/><rect x="1130" y="84" width="10" height="1" fill="#0A84FF"/><rect x="1130" y="80" width="10" height="1" fill="#0A84FF"/><rect x="1130" y="75" width="10" height="1" fill="#0A84FF"/><rect x="1130" y="71" width="10" height="1" fill="#0A84FF"/><rect x="1130" y="67" width="10" height="1" fill="#0A84FF"/><rect x="1130" y="62" width="10" height="1" fill="#0A84FF"/></g>
<g id="labels" font-family="'Liberation Sans', sans-serif" stroke="#fff" stroke-width="0.15" paint-order="fill stroke"><text font-size="17.6" stroke-width="0.25"><tspan x="167" y="51.3" textLength="61.5" lengthAdjust="spacingAndGlyphs">IC2391</tspan><tspan x="230.3" y="49.599999999999994" textLength="17" lengthAdjust="spacingAndGlyphs">-</tspan><tspan x="246.5" y="51.3" textLength="47" lengthAdjust="spacingAndGlyphs">0042</tspan> <tspan x="323.5" y="51.3" textLength="116.5" lengthAdjust="spacingAndGlyphs">(23.603731,</tspan> <tspan x="448" y="51.3" textLength="105.5" lengthAdjust="spacingAndGlyphs">153.62680,</tspan> <tspan x="562" y="51.3" textLength="108" lengthAdjust="spacingAndGlyphs">8681.5243,</tspan> <tspan x="678.5" y="51.3" textLength="108" lengthAdjust="spacingAndGlyphs">3.9205767,</tspan> <tspan x="795.4" y="49.599999999999994" textLength="16.5" lengthAdjust="spacingAndGlyphs">-</tspan><tspan x="810.5" y="51.3" textLength="117.5" lengthAdjust="spacingAndGlyphs">0.69352904,</tspan> <tspan x="936.3" y="49.599999999999994" textLength="16.5" lengthAdjust="spacingAndGlyphs">-</tspan><tspan x="951.5" y="51.3" textLength="122.5" lengthAdjust="spacingAndGlyphs">0.15672908)</tspan></text><text x="206.6" y="362" font-size="14.2" text-anchor="start" fill="#000" textLength="27.4" lengthAdjust="spacingAndGlyphs" stroke-width="0.15">400</text><text x="353.8" y="362" font-size="14.2" text-anchor="start" fill="#000" textLength="27.4" lengthAdjust="spacingAndGlyphs" stroke-width="0.15">500</text><text x="501.0" y="362" font-size="14.2" text-anchor="start" fill="#000" textLength="27.4" lengthAdjust="spacingAndGlyphs" stroke-width="0.15">600</text><text x="648.3" y="362" font-size="14.2" text-anchor="start" fill="#000" textLength="27.4" lengthAdjust="spacingAndGlyphs" stroke-width="0.15">700</text><text x="795.5" y="362" font-size="14.2" text-anchor="start" fill="#000" textLength="27.4" lengthAdjust="spacingAndGlyphs" stroke-width="0.15">800</text><text x="942.7" y="362" font-size="14.2" text-anchor="start" fill="#000" textLength="27.4" lengthAdjust="spacingAndGlyphs" stroke-width="0.15">900</text><text x="1085.4" y="362" font-size="14.2" text-anchor="start" fill="#000" textLength="36.5" lengthAdjust="spacingAndGlyphs" stroke-width="0.15">1000</text><text x="563.3" y="382" font-size="14.2" text-anchor="start" fill="#000" textLength="115.5" lengthAdjust="spacingAndGlyphs" stroke-width="0.15">wavelength, nm</text><text font-size="14.2" stroke-width="0.15"><tspan x="25.5" y="92" textLength="23" lengthAdjust="spacingAndGlyphs">2.0</tspan><tspan x="50" y="93.1" font-size="21" textLength="9.6" lengthAdjust="spacingAndGlyphs">×</tspan><tspan x="61" y="92" textLength="17.3" lengthAdjust="spacingAndGlyphs">10</tspan><tspan x="78.3" y="85.3" font-size="10" stroke-width="0" textLength="6.8" lengthAdjust="spacingAndGlyphs">-</tspan><tspan x="85.3" y="86.1" font-size="10" stroke-width="0" textLength="12.6" lengthAdjust="spacingAndGlyphs">12</tspan></text><text font-size="14.2" stroke-width="0.15"><tspan x="25.5" y="151" textLength="23" lengthAdjust="spacingAndGlyphs">1.5</tspan><tspan x="50" y="152.1" font-size="21" textLength="9.6" lengthAdjust="spacingAndGlyphs">×</tspan><tspan x="61" y="151" textLength="17.3" lengthAdjust="spacingAndGlyphs">10</tspan><tspan x="78.3" y="144.3" font-size="10" stroke-width="0" textLength="6.8" lengthAdjust="spacingAndGlyphs">-</tspan><tspan x="85.3" y="145.1" font-size="10" stroke-width="0" textLength="12.6" lengthAdjust="spacingAndGlyphs">12</tspan></text><text font-size="14.2" stroke-width="0.15"><tspan x="25.5" y="209" textLength="23" lengthAdjust="spacingAndGlyphs">1.0</tspan><tspan x="50" y="210.1" font-size="21" textLength="9.6" lengthAdjust="spacingAndGlyphs">×</tspan><tspan x="61" y="209" textLength="17.3" lengthAdjust="spacingAndGlyphs">10</tspan><tspan x="78.3" y="202.3" font-size="10" stroke-width="0" textLength="6.8" lengthAdjust="spacingAndGlyphs">-</tspan><tspan x="85.3" y="203.1" font-size="10" stroke-width="0" textLength="12.6" lengthAdjust="spacingAndGlyphs">12</tspan></text><text font-size="14.2" stroke-width="0.15"><tspan x="25.5" y="267" textLength="23" lengthAdjust="spacingAndGlyphs">5.0</tspan><tspan x="50" y="268.1" font-size="21" textLength="9.6" lengthAdjust="spacingAndGlyphs">×</tspan><tspan x="61" y="267" textLength="17.3" lengthAdjust="spacingAndGlyphs">10</tspan><tspan x="78.3" y="260.3" font-size="10" stroke-width="0" textLength="6.8" lengthAdjust="spacingAndGlyphs">-</tspan><tspan x="85.3" y="261.1" font-size="10" stroke-width="0" textLength="12.6" lengthAdjust="spacingAndGlyphs">13</tspan></text><text x="88.2" y="325" font-size="14.2" text-anchor="start" fill="#000" textLength="8.6" lengthAdjust="spacingAndGlyphs" stroke-width="0.15">0</text><text transform="translate(13,236.5) rotate(-90)" font-size="14.2" textLength="73" lengthAdjust="spacingAndGlyphs">flux, units</text><text x="1146" y="323.6" font-size="14.2" text-anchor="start" fill="#0A84FF" textLength="22" lengthAdjust="spacingAndGlyphs" stroke-width="0.15">1.1</text><text x="1146" y="280.6" font-size="14.2" text-anchor="start" fill="#0A84FF" textLength="22" lengthAdjust="spacingAndGlyphs" stroke-width="0.15">1.2</text><text x="1146" y="236.6" font-size="14.2" text-anchor="start" fill="#0A84FF" textLength="22" lengthAdjust="spacingAndGlyphs" stroke-width="0.15">1.3</text><text x="1146" y="193.6" font-size="14.2" text-anchor="start" fill="#0A84FF" textLength="22" lengthAdjust="spacingAndGlyphs" stroke-width="0.15">1.4</text><text x="1146" y="150.6" font-size="14.2" text-anchor="start" fill="#0A84FF" textLength="22" lengthAdjust="spacingAndGlyphs" stroke-width="0.15">1.5</text><text x="1146" y="107.6" font-size="14.2" text-anchor="start" fill="#0A84FF" textLength="22" lengthAdjust="spacingAndGlyphs" stroke-width="0.15">1.6</text><text transform="translate(1185,223) rotate(-90)" font-size="14.2" fill="#0A84FF" textLength="46.5" lengthAdjust="spacingAndGlyphs">mcont</text></g></svg>
</body></html>
